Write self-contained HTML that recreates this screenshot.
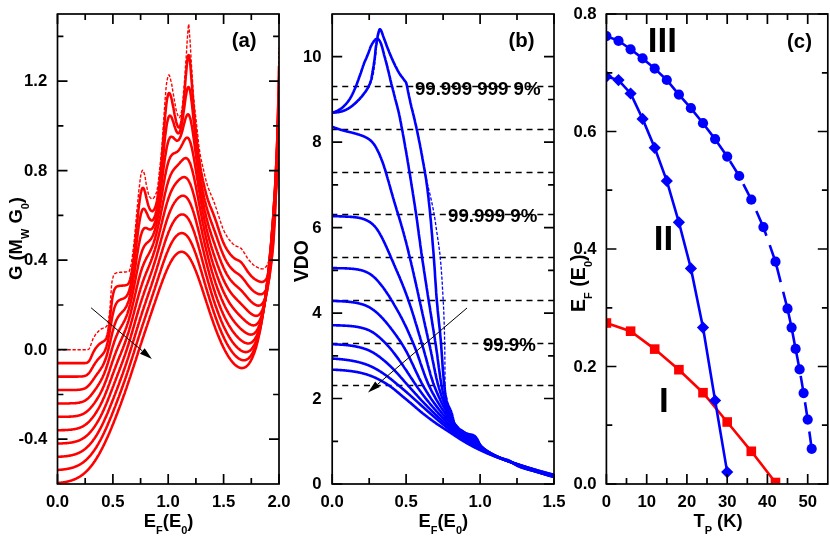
<!DOCTYPE html>
<html><head><meta charset="utf-8"><title>figure</title>
<style>html,body{margin:0;padding:0;background:#fff;}svg{display:block;will-change:transform;}text{font-family:"Liberation Sans", sans-serif;font-weight:bold;fill:#000;}.tk{font-size:16.7px;}.ax{font-size:18.4px;}.lb{font-size:18.7px;}.pl{font-size:20.4px;}.rn{font-size:35px;}</style></head><body>
<svg width="830" height="539" viewBox="0 0 830 539">
<rect width="830" height="539" fill="#fff"/>
<!-- panel a -->
<clipPath id="ca"><rect x="57.5" y="14.0" width="221.5" height="470.0"/></clipPath>
<g clip-path="url(#ca)" fill="none" stroke="#ff0000" stroke-linejoin="round">
<path d="M57.5,349.7 L57.8,349.7 L58.1,349.7 L58.5,349.7 L58.8,349.7 L59.1,349.7 L59.4,349.7 L59.7,349.7 L60.0,349.7 L60.4,349.7 L60.7,349.7 L61.0,349.7 L61.3,349.7 L61.6,349.7 L61.9,349.7 L62.3,349.7 L62.6,349.7 L62.9,349.7 L63.2,349.7 L63.5,349.7 L63.8,349.7 L64.2,349.7 L64.5,349.7 L64.8,349.7 L65.1,349.7 L65.4,349.7 L65.7,349.7 L66.1,349.7 L66.4,349.7 L66.7,349.7 L67.0,349.7 L67.3,349.7 L67.6,349.7 L68.0,349.7 L68.3,349.7 L68.6,349.7 L68.9,349.7 L69.2,349.7 L69.5,349.7 L69.9,349.7 L70.2,349.7 L70.5,349.7 L70.8,349.7 L71.1,349.7 L71.4,349.7 L71.8,349.7 L72.1,349.7 L72.4,349.7 L72.7,349.7 L73.0,349.7 L73.3,349.7 L73.7,349.7 L74.0,349.7 L74.3,349.7 L74.6,349.7 L74.9,349.7 L75.2,349.7 L75.6,349.7 L75.9,349.7 L76.2,349.7 L76.5,349.7 L76.8,349.7 L77.1,349.7 L77.5,349.7 L77.8,349.7 L78.1,349.7 L78.4,349.7 L78.7,349.7 L79.0,349.7 L79.4,349.7 L79.7,349.7 L80.0,349.7 L80.3,349.7 L80.6,349.7 L80.9,349.7 L81.3,349.7 L81.6,349.7 L81.9,349.7 L82.2,349.7 L82.5,349.7 L82.9,349.7 L83.2,349.7 L83.5,349.7 L83.8,349.7 L84.1,349.7 L84.4,349.7 L84.8,349.7 L85.1,349.7 L85.4,349.7 L85.7,349.7 L86.0,349.7 L86.3,349.7 L86.7,349.7 L87.0,349.7 L87.3,349.6 L87.6,349.6 L87.9,349.5 L88.2,349.4 L88.6,349.3 L88.9,349.2 L89.2,348.8 L89.5,348.2 L89.8,347.5 L90.1,346.6 L90.5,345.7 L90.8,344.9 L91.1,344.0 L91.4,343.2 L91.7,342.3 L92.0,341.4 L92.4,340.5 L92.7,339.6 L93.0,338.9 L93.3,338.2 L93.6,337.7 L93.9,337.1 L94.3,336.6 L94.6,336.1 L94.9,335.6 L95.2,335.2 L95.5,334.7 L95.8,334.3 L96.2,333.9 L96.5,333.5 L96.8,333.1 L97.1,332.8 L97.4,332.4 L97.7,332.1 L98.1,331.8 L98.4,331.4 L98.7,331.1 L99.0,330.8 L99.3,330.5 L99.6,330.2 L100.0,329.9 L100.3,329.7 L100.6,329.4 L100.9,329.2 L101.2,329.0 L101.5,328.8 L101.9,328.6 L102.2,328.5 L102.5,328.4 L102.8,328.3 L103.1,328.2 L103.4,328.1 L103.8,328.0 L104.1,327.9 L104.4,327.8 L104.7,327.6 L105.0,327.5 L105.3,327.3 L105.7,327.1 L106.0,326.8 L106.3,326.5 L106.6,326.1 L106.9,325.7 L107.3,325.2 L107.6,324.6 L107.9,323.7 L108.2,322.2 L108.5,320.3 L108.8,318.0 L109.2,315.4 L109.5,312.8 L109.8,310.0 L110.1,306.6 L110.4,302.1 L110.7,297.2 L111.1,292.2 L111.4,287.6 L111.7,283.9 L112.0,281.6 L112.3,280.1 L112.6,278.7 L113.0,277.4 L113.3,276.3 L113.6,275.4 L113.9,274.7 L114.2,274.2 L114.5,273.8 L114.9,273.6 L115.2,273.5 L115.5,273.3 L115.8,273.2 L116.1,273.0 L116.4,272.9 L116.8,272.8 L117.1,272.7 L117.4,272.7 L117.7,272.6 L118.0,272.6 L118.3,272.5 L118.7,272.5 L119.0,272.4 L119.3,272.4 L119.6,272.4 L119.9,272.3 L120.2,272.3 L120.6,272.3 L120.9,272.3 L121.2,272.2 L121.5,272.2 L121.8,272.2 L122.1,272.2 L122.5,272.2 L122.8,272.1 L123.1,272.1 L123.4,272.1 L123.7,272.1 L124.0,272.0 L124.4,272.0 L124.7,272.0 L125.0,272.0 L125.3,272.0 L125.6,272.0 L125.9,272.0 L126.3,271.9 L126.6,271.9 L126.9,271.9 L127.2,271.9 L127.5,271.9 L127.8,271.8 L128.2,271.8 L128.5,271.8 L128.8,271.7 L129.1,271.4 L129.4,270.7 L129.7,269.8 L130.1,268.7 L130.4,267.5 L130.7,266.2 L131.0,264.9 L131.3,263.3 L131.7,261.4 L132.0,259.2 L132.3,256.9 L132.6,254.4 L132.9,251.8 L133.2,249.2 L133.6,246.6 L133.9,243.7 L134.2,240.7 L134.5,237.5 L134.8,234.2 L135.1,230.7 L135.5,227.2 L135.8,223.6 L136.1,220.0 L136.4,216.4 L136.7,212.9 L137.0,209.4 L137.4,206.1 L137.7,202.9 L138.0,199.6 L138.3,196.3 L138.6,193.2 L138.9,190.2 L139.3,187.4 L139.6,184.7 L139.9,182.0 L140.2,179.5 L140.5,177.2 L140.8,175.3 L141.2,173.9 L141.5,172.7 L141.8,171.6 L142.1,170.8 L142.4,170.3 L142.7,170.2 L143.1,170.5 L143.4,171.1 L143.7,171.9 L144.0,172.7 L144.3,173.7 L144.6,174.7 L145.0,176.2 L145.3,178.0 L145.6,180.1 L145.9,182.1 L146.2,184.1 L146.5,185.9 L146.9,187.4 L147.2,188.8 L147.5,190.2 L147.8,191.5 L148.1,192.8 L148.4,193.9 L148.8,194.9 L149.1,195.8 L149.4,196.4 L149.7,196.8 L150.0,197.3 L150.3,197.7 L150.7,198.1 L151.0,198.4 L151.3,198.7 L151.6,198.9 L151.9,199.0 L152.2,199.1 L152.6,199.0 L152.9,198.9 L153.2,198.6 L153.5,198.2 L153.8,197.8 L154.1,197.3 L154.5,196.8 L154.8,196.3 L155.1,195.8 L155.4,195.2 L155.7,194.4 L156.1,193.6 L156.4,192.6 L156.7,191.6 L157.0,190.4 L157.3,188.8 L157.6,186.8 L158.0,184.5 L158.3,181.9 L158.6,179.0 L158.9,176.1 L159.2,173.1 L159.5,170.1 L159.9,167.3 L160.2,164.4 L160.5,161.5 L160.8,158.4 L161.1,155.2 L161.4,151.8 L161.8,148.1 L162.1,144.0 L162.4,139.6 L162.7,134.9 L163.0,130.1 L163.3,125.2 L163.7,120.4 L164.0,115.8 L164.3,111.4 L164.6,107.1 L164.9,102.6 L165.2,98.1 L165.6,93.8 L165.9,89.8 L166.2,86.5 L166.5,83.9 L166.8,82.0 L167.1,80.2 L167.5,78.6 L167.8,77.2 L168.1,76.0 L168.4,75.3 L168.7,74.9 L169.0,75.0 L169.4,75.5 L169.7,76.3 L170.0,77.3 L170.3,78.4 L170.6,79.6 L170.9,80.9 L171.3,82.1 L171.6,83.6 L171.9,85.3 L172.2,87.2 L172.5,89.2 L172.8,91.2 L173.2,93.1 L173.5,95.1 L173.8,96.9 L174.1,98.6 L174.4,100.5 L174.7,102.4 L175.1,104.2 L175.4,106.0 L175.7,107.7 L176.0,109.3 L176.3,110.6 L176.6,111.6 L177.0,112.7 L177.3,113.7 L177.6,114.6 L177.9,115.5 L178.2,116.3 L178.5,116.9 L178.9,117.4 L179.2,117.6 L179.5,117.6 L179.8,117.2 L180.1,116.5 L180.4,115.6 L180.8,114.5 L181.1,113.3 L181.4,112.0 L181.7,110.5 L182.0,108.3 L182.4,105.6 L182.7,102.4 L183.0,98.9 L183.3,95.3 L183.6,91.6 L183.9,88.0 L184.3,84.1 L184.6,79.9 L184.9,75.5 L185.2,70.9 L185.5,66.4 L185.8,61.8 L186.2,57.2 L186.5,52.4 L186.8,47.4 L187.1,42.6 L187.4,38.0 L187.7,33.8 L188.1,29.1 L188.4,25.3 L188.7,24.1 L189.0,26.5 L189.3,30.9 L189.6,35.5 L190.0,39.9 L190.3,44.9 L190.6,50.2 L190.9,55.6 L191.2,61.0 L191.5,66.0 L191.9,70.9 L192.2,75.9 L192.5,80.9 L192.8,85.7 L193.1,90.3 L193.4,94.5 L193.8,98.3 L194.1,101.8 L194.4,105.1 L194.7,108.2 L195.0,111.1 L195.3,113.9 L195.7,116.6 L196.0,119.3 L196.3,122.1 L196.6,124.9 L196.9,127.7 L197.2,130.7 L197.6,133.7 L197.9,136.6 L198.2,139.6 L198.5,142.4 L198.8,145.1 L199.1,147.6 L199.5,150.0 L199.8,152.1 L200.1,154.0 L200.4,155.8 L200.7,157.5 L201.0,159.1 L201.4,160.6 L201.7,162.0 L202.0,163.5 L202.3,164.8 L202.6,166.2 L202.9,167.5 L203.3,168.8 L203.6,170.2 L203.9,171.6 L204.2,173.0 L204.5,174.3 L204.8,175.7 L205.2,177.1 L205.5,178.4 L205.8,179.7 L206.1,180.9 L206.4,182.1 L206.8,183.2 L207.1,184.3 L207.4,185.3 L207.7,186.2 L208.0,187.2 L208.3,188.1 L208.7,188.9 L209.0,189.8 L209.3,190.6 L209.6,191.4 L209.9,192.2 L210.2,192.9 L210.6,193.7 L210.9,194.4 L211.2,195.2 L211.5,195.9 L211.8,196.7 L212.1,197.4 L212.5,198.2 L212.8,198.9 L213.1,199.7 L213.4,200.5 L213.7,201.3 L214.0,202.1 L214.4,202.9 L214.7,203.8 L215.0,204.7 L215.3,205.6 L215.6,206.5 L215.9,207.4 L216.3,208.4 L216.6,209.4 L216.9,210.4 L217.2,211.4 L217.5,212.4 L217.8,213.4 L218.2,214.4 L218.5,215.4 L218.8,216.4 L219.1,217.4 L219.4,218.4 L219.7,219.4 L220.1,220.4 L220.4,221.4 L220.7,222.3 L221.0,223.3 L221.3,224.2 L221.6,225.1 L222.0,226.0 L222.3,226.8 L222.6,227.7 L222.9,228.5 L223.2,229.2 L223.5,230.0 L223.9,230.7 L224.2,231.3 L224.5,232.0 L224.8,232.6 L225.1,233.2 L225.4,233.7 L225.8,234.3 L226.1,234.9 L226.4,235.4 L226.7,235.9 L227.0,236.5 L227.3,237.0 L227.7,237.5 L228.0,237.9 L228.3,238.4 L228.6,238.9 L228.9,239.3 L229.2,239.7 L229.6,240.1 L229.9,240.6 L230.2,240.9 L230.5,241.3 L230.8,241.7 L231.2,242.0 L231.5,242.4 L231.8,242.7 L232.1,243.0 L232.4,243.4 L232.7,243.7 L233.1,244.0 L233.4,244.3 L233.7,244.5 L234.0,244.8 L234.3,245.1 L234.6,245.3 L235.0,245.5 L235.3,245.7 L235.6,245.9 L235.9,246.0 L236.2,246.2 L236.5,246.3 L236.9,246.4 L237.2,246.5 L237.5,246.6 L237.8,246.7 L238.1,246.8 L238.4,246.9 L238.8,247.0 L239.1,247.2 L239.4,247.3 L239.7,247.5 L240.0,247.7 L240.3,247.9 L240.7,248.1 L241.0,248.3 L241.3,248.6 L241.6,248.9 L241.9,249.3 L242.2,249.7 L242.6,250.2 L242.9,250.6 L243.2,251.1 L243.5,251.6 L243.8,252.2 L244.1,252.7 L244.5,253.2 L244.8,253.6 L245.1,254.1 L245.4,254.6 L245.7,255.2 L246.0,255.7 L246.4,256.3 L246.7,256.8 L247.0,257.3 L247.3,257.8 L247.6,258.3 L247.9,258.8 L248.3,259.2 L248.6,259.6 L248.9,260.0 L249.2,260.4 L249.5,260.8 L249.8,261.1 L250.2,261.5 L250.5,261.9 L250.8,262.2 L251.1,262.6 L251.4,262.9 L251.7,263.2 L252.1,263.6 L252.4,263.9 L252.7,264.2 L253.0,264.5 L253.3,264.8 L253.6,265.0 L254.0,265.3 L254.3,265.5 L254.6,265.7 L254.9,266.0 L255.2,266.2 L255.6,266.4 L255.9,266.5 L256.2,266.7 L256.5,266.9 L256.8,267.0 L257.1,267.2 L257.5,267.4 L257.8,267.5 L258.1,267.7 L258.4,267.8 L258.7,268.0 L259.0,268.1 L259.4,268.2 L259.7,268.4 L260.0,268.5 L260.3,268.6 L260.6,268.7 L260.9,268.7 L261.3,268.8 L261.6,268.9 L261.9,268.9 L262.2,268.9 L262.5,268.9 L262.8,268.9 L263.2,268.8 L263.5,268.7 L263.8,268.5 L264.1,268.3 L264.4,268.1 L264.7,267.9 L265.1,267.6 L265.4,267.3 L265.7,267.0 L266.0,266.7 L266.3,266.4 L266.6,266.0 L267.0,265.5 L267.3,264.9 L267.6,264.1 L267.9,263.4 L268.2,262.5 L268.5,261.6 L268.9,260.7 L269.2,259.7 L269.5,258.7 L269.8,257.6 L270.1,256.4 L270.4,255.1 L270.8,253.6 L271.1,252.1 L271.4,250.4 L271.7,248.6 L272.0,246.7 L272.3,244.6 L272.7,242.2 L273.0,239.4 L273.3,236.2 L273.6,232.6 L273.9,228.6 L274.2,224.4 L274.6,219.8 L274.9,214.9 L275.2,209.7 L275.5,204.1 L275.8,197.9 L276.1,190.9 L276.5,183.0 L276.8,174.1 L277.1,164.0 L277.4,151.6 L277.7,134.0 L278.0,112.7 L278.4,89.8 L278.7,67.4 L279.0,47.6" stroke-width="1.4" stroke-dasharray="3.3 1.7"/>
<path d="M57.5,363.1 L57.8,363.1 L58.1,363.1 L58.5,363.1 L58.8,363.1 L59.1,363.1 L59.4,363.1 L59.7,363.1 L60.0,363.1 L60.4,363.1 L60.7,363.1 L61.0,363.1 L61.3,363.1 L61.6,363.1 L61.9,363.1 L62.3,363.1 L62.6,363.1 L62.9,363.1 L63.2,363.1 L63.5,363.1 L63.8,363.1 L64.2,363.1 L64.5,363.1 L64.8,363.1 L65.1,363.1 L65.4,363.1 L65.7,363.1 L66.1,363.1 L66.4,363.1 L66.7,363.1 L67.0,363.1 L67.3,363.1 L67.6,363.1 L68.0,363.1 L68.3,363.1 L68.6,363.1 L68.9,363.1 L69.2,363.1 L69.5,363.1 L69.9,363.1 L70.2,363.1 L70.5,363.1 L70.8,363.1 L71.1,363.1 L71.4,363.1 L71.8,363.1 L72.1,363.1 L72.4,363.1 L72.7,363.1 L73.0,363.1 L73.3,363.1 L73.7,363.1 L74.0,363.1 L74.3,363.1 L74.6,363.1 L74.9,363.1 L75.2,363.1 L75.6,363.1 L75.9,363.1 L76.2,363.1 L76.5,363.1 L76.8,363.1 L77.1,363.1 L77.5,363.1 L77.8,363.1 L78.1,363.1 L78.4,363.1 L78.7,363.1 L79.0,363.1 L79.4,363.1 L79.7,363.1 L80.0,363.1 L80.3,363.1 L80.6,363.1 L80.9,363.1 L81.3,363.1 L81.6,363.1 L81.9,363.1 L82.2,363.1 L82.5,363.1 L82.9,363.1 L83.2,363.1 L83.5,363.1 L83.8,363.1 L84.1,363.1 L84.4,363.1 L84.8,363.1 L85.1,363.1 L85.4,363.0 L85.7,363.0 L86.0,363.0 L86.3,362.9 L86.7,362.8 L87.0,362.7 L87.3,362.6 L87.6,362.4 L87.9,362.2 L88.2,361.9 L88.6,361.6 L88.9,361.3 L89.2,360.8 L89.5,360.4 L89.8,359.8 L90.1,359.2 L90.5,358.6 L90.8,357.9 L91.1,357.2 L91.4,356.5 L91.7,355.8 L92.0,355.0 L92.4,354.3 L92.7,353.6 L93.0,352.9 L93.3,352.3 L93.6,351.7 L93.9,351.1 L94.3,350.5 L94.6,350.0 L94.9,349.4 L95.2,348.9 L95.5,348.5 L95.8,348.0 L96.2,347.6 L96.5,347.2 L96.8,346.8 L97.1,346.4 L97.4,346.1 L97.7,345.7 L98.1,345.4 L98.4,345.0 L98.7,344.7 L99.0,344.4 L99.3,344.1 L99.6,343.9 L100.0,343.6 L100.3,343.3 L100.6,343.1 L100.9,342.9 L101.2,342.7 L101.5,342.5 L101.9,342.3 L102.2,342.1 L102.5,341.9 L102.8,341.7 L103.1,341.6 L103.4,341.4 L103.8,341.2 L104.1,341.0 L104.4,340.7 L104.7,340.5 L105.0,340.1 L105.3,339.8 L105.7,339.3 L106.0,338.8 L106.3,338.2 L106.6,337.4 L106.9,336.5 L107.3,335.5 L107.6,334.3 L107.9,332.8 L108.2,331.2 L108.5,329.3 L108.8,327.2 L109.2,324.9 L109.5,322.4 L109.8,319.8 L110.1,317.0 L110.4,314.1 L110.7,311.2 L111.1,308.4 L111.4,305.6 L111.7,303.0 L112.0,300.6 L112.3,298.4 L112.6,296.5 L113.0,294.8 L113.3,293.3 L113.6,292.1 L113.9,291.0 L114.2,290.1 L114.5,289.3 L114.9,288.7 L115.2,288.2 L115.5,287.8 L115.8,287.4 L116.1,287.1 L116.4,286.9 L116.8,286.7 L117.1,286.5 L117.4,286.4 L117.7,286.3 L118.0,286.2 L118.3,286.1 L118.7,286.0 L119.0,286.0 L119.3,285.9 L119.6,285.9 L119.9,285.8 L120.2,285.8 L120.6,285.7 L120.9,285.7 L121.2,285.7 L121.5,285.7 L121.8,285.6 L122.1,285.6 L122.5,285.6 L122.8,285.6 L123.1,285.5 L123.4,285.5 L123.7,285.5 L124.0,285.5 L124.4,285.4 L124.7,285.4 L125.0,285.4 L125.3,285.3 L125.6,285.3 L125.9,285.2 L126.3,285.1 L126.6,285.0 L126.9,284.9 L127.2,284.7 L127.5,284.5 L127.8,284.2 L128.2,283.9 L128.5,283.5 L128.8,282.9 L129.1,282.3 L129.4,281.5 L129.7,280.6 L130.1,279.6 L130.4,278.4 L130.7,277.0 L131.0,275.5 L131.3,273.8 L131.7,272.0 L132.0,270.0 L132.3,267.9 L132.6,265.6 L132.9,263.2 L133.2,260.6 L133.6,258.0 L133.9,255.2 L134.2,252.3 L134.5,249.3 L134.8,246.2 L135.1,243.1 L135.5,239.9 L135.8,236.7 L136.1,233.4 L136.4,230.2 L136.7,226.9 L137.0,223.7 L137.4,220.5 L137.7,217.4 L138.0,214.4 L138.3,211.4 L138.6,208.6 L138.9,205.9 L139.3,203.3 L139.6,200.8 L139.9,198.6 L140.2,196.5 L140.5,194.6 L140.8,192.9 L141.2,191.5 L141.5,190.3 L141.8,189.3 L142.1,188.6 L142.4,188.1 L142.7,187.9 L143.1,187.9 L143.4,188.1 L143.7,188.5 L144.0,189.1 L144.3,189.9 L144.6,190.9 L145.0,191.9 L145.3,193.1 L145.6,194.4 L145.9,195.7 L146.2,197.1 L146.5,198.5 L146.9,199.8 L147.2,201.1 L147.5,202.4 L147.8,203.5 L148.1,204.6 L148.4,205.7 L148.8,206.6 L149.1,207.4 L149.4,208.2 L149.7,208.8 L150.0,209.4 L150.3,209.9 L150.7,210.3 L151.0,210.6 L151.3,210.9 L151.6,211.0 L151.9,211.1 L152.2,211.1 L152.6,211.1 L152.9,210.9 L153.2,210.7 L153.5,210.4 L153.8,210.0 L154.1,209.5 L154.5,209.0 L154.8,208.3 L155.1,207.6 L155.4,206.7 L155.7,205.8 L156.1,204.7 L156.4,203.4 L156.7,202.0 L157.0,200.5 L157.3,198.7 L157.6,196.8 L158.0,194.7 L158.3,192.5 L158.6,190.1 L158.9,187.5 L159.2,184.8 L159.5,182.0 L159.9,179.1 L160.2,176.0 L160.5,172.8 L160.8,169.5 L161.1,166.0 L161.4,162.4 L161.8,158.7 L162.1,154.9 L162.4,150.9 L162.7,146.9 L163.0,142.8 L163.3,138.7 L163.7,134.6 L164.0,130.5 L164.3,126.4 L164.6,122.5 L164.9,118.8 L165.2,115.1 L165.6,111.8 L165.9,108.6 L166.2,105.7 L166.5,103.1 L166.8,100.8 L167.1,98.8 L167.5,97.1 L167.8,95.7 L168.1,94.6 L168.4,93.8 L168.7,93.3 L169.0,93.1 L169.4,93.1 L169.7,93.4 L170.0,93.9 L170.3,94.6 L170.6,95.5 L170.9,96.5 L171.3,97.7 L171.6,99.0 L171.9,100.4 L172.2,101.9 L172.5,103.4 L172.8,105.1 L173.2,106.7 L173.5,108.4 L173.8,110.1 L174.1,111.8 L174.4,113.4 L174.7,115.0 L175.1,116.6 L175.4,118.1 L175.7,119.5 L176.0,120.8 L176.3,122.1 L176.6,123.2 L177.0,124.3 L177.3,125.2 L177.6,125.9 L177.9,126.6 L178.2,127.1 L178.5,127.4 L178.9,127.5 L179.2,127.5 L179.5,127.2 L179.8,126.7 L180.1,126.0 L180.4,125.1 L180.8,124.0 L181.1,122.5 L181.4,120.9 L181.7,119.0 L182.0,116.8 L182.4,114.3 L182.7,111.7 L183.0,108.7 L183.3,105.6 L183.6,102.3 L183.9,98.8 L184.3,95.2 L184.6,91.4 L184.9,87.6 L185.2,83.7 L185.5,79.8 L185.8,76.0 L186.2,72.2 L186.5,68.6 L186.8,65.3 L187.1,62.3 L187.4,59.6 L187.7,57.5 L188.1,56.0 L188.4,55.2 L188.7,55.1 L189.0,55.7 L189.3,57.0 L189.6,59.0 L190.0,61.5 L190.3,64.6 L190.6,68.0 L190.9,71.8 L191.2,75.8 L191.5,79.9 L191.9,84.2 L192.2,88.4 L192.5,92.7 L192.8,96.8 L193.1,100.9 L193.4,104.9 L193.8,108.7 L194.1,112.4 L194.4,116.0 L194.7,119.4 L195.0,122.7 L195.3,125.9 L195.7,129.0 L196.0,132.0 L196.3,135.0 L196.6,137.9 L196.9,140.8 L197.2,143.6 L197.6,146.3 L197.9,149.0 L198.2,151.7 L198.5,154.2 L198.8,156.7 L199.1,159.1 L199.5,161.3 L199.8,163.5 L200.1,165.6 L200.4,167.5 L200.7,169.4 L201.0,171.2 L201.4,172.9 L201.7,174.5 L202.0,176.1 L202.3,177.6 L202.6,179.1 L202.9,180.6 L203.3,182.0 L203.6,183.4 L203.9,184.8 L204.2,186.1 L204.5,187.4 L204.8,188.8 L205.2,190.0 L205.5,191.3 L205.8,192.5 L206.1,193.7 L206.4,194.8 L206.8,196.0 L207.1,197.0 L207.4,198.1 L207.7,199.1 L208.0,200.1 L208.3,201.0 L208.7,201.9 L209.0,202.8 L209.3,203.7 L209.6,204.5 L209.9,205.4 L210.2,206.2 L210.6,207.0 L210.9,207.8 L211.2,208.6 L211.5,209.3 L211.8,210.1 L212.1,210.9 L212.5,211.7 L212.8,212.5 L213.1,213.3 L213.4,214.1 L213.7,214.9 L214.0,215.8 L214.4,216.6 L214.7,217.5 L215.0,218.4 L215.3,219.3 L215.6,220.2 L215.9,221.1 L216.3,222.0 L216.6,223.0 L216.9,223.9 L217.2,224.9 L217.5,225.9 L217.8,226.9 L218.2,227.8 L218.5,228.8 L218.8,229.8 L219.1,230.8 L219.4,231.7 L219.7,232.7 L220.1,233.6 L220.4,234.6 L220.7,235.5 L221.0,236.4 L221.3,237.3 L221.6,238.2 L222.0,239.0 L222.3,239.9 L222.6,240.7 L222.9,241.5 L223.2,242.2 L223.5,242.9 L223.9,243.7 L224.2,244.3 L224.5,245.0 L224.8,245.7 L225.1,246.3 L225.4,246.9 L225.8,247.5 L226.1,248.0 L226.4,248.6 L226.7,249.1 L227.0,249.7 L227.3,250.2 L227.7,250.7 L228.0,251.1 L228.3,251.6 L228.6,252.1 L228.9,252.5 L229.2,252.9 L229.6,253.4 L229.9,253.8 L230.2,254.2 L230.5,254.6 L230.8,254.9 L231.2,255.3 L231.5,255.6 L231.8,256.0 L232.1,256.3 L232.4,256.6 L232.7,256.9 L233.1,257.2 L233.4,257.5 L233.7,257.7 L234.0,258.0 L234.3,258.2 L234.6,258.5 L235.0,258.7 L235.3,258.9 L235.6,259.1 L235.9,259.3 L236.2,259.4 L236.5,259.6 L236.9,259.7 L237.2,259.9 L237.5,260.0 L237.8,260.2 L238.1,260.3 L238.4,260.5 L238.8,260.6 L239.1,260.8 L239.4,261.0 L239.7,261.2 L240.0,261.4 L240.3,261.7 L240.7,261.9 L241.0,262.2 L241.3,262.5 L241.6,262.8 L241.9,263.2 L242.2,263.6 L242.6,263.9 L242.9,264.4 L243.2,264.8 L243.5,265.2 L243.8,265.7 L244.1,266.2 L244.5,266.7 L244.8,267.1 L245.1,267.6 L245.4,268.1 L245.7,268.6 L246.0,269.1 L246.4,269.6 L246.7,270.1 L247.0,270.6 L247.3,271.0 L247.6,271.5 L247.9,272.0 L248.3,272.4 L248.6,272.8 L248.9,273.2 L249.2,273.6 L249.5,274.0 L249.8,274.4 L250.2,274.8 L250.5,275.2 L250.8,275.5 L251.1,275.9 L251.4,276.2 L251.7,276.5 L252.1,276.8 L252.4,277.1 L252.7,277.4 L253.0,277.7 L253.3,278.0 L253.6,278.3 L254.0,278.5 L254.3,278.8 L254.6,279.0 L254.9,279.2 L255.2,279.4 L255.6,279.6 L255.9,279.8 L256.2,280.0 L256.5,280.2 L256.8,280.4 L257.1,280.5 L257.5,280.7 L257.8,280.9 L258.1,281.0 L258.4,281.1 L258.7,281.3 L259.0,281.4 L259.4,281.5 L259.7,281.6 L260.0,281.7 L260.3,281.8 L260.6,281.9 L260.9,281.9 L261.3,282.0 L261.6,282.0 L261.9,282.0 L262.2,281.9 L262.5,281.9 L262.8,281.8 L263.2,281.7 L263.5,281.6 L263.8,281.4 L264.1,281.2 L264.4,281.0 L264.7,280.8 L265.1,280.5 L265.4,280.1 L265.7,279.8 L266.0,279.3 L266.3,278.9 L266.6,278.4 L267.0,277.8 L267.3,277.1 L267.6,276.4 L267.9,275.6 L268.2,274.8 L268.5,273.9 L268.9,272.8 L269.2,271.7 L269.5,270.6 L269.8,269.3 L270.1,267.8 L270.4,266.3 L270.8,264.6 L271.1,262.8 L271.4,260.8 L271.7,258.5 L272.0,256.1 L272.3,253.4 L272.7,250.4 L273.0,247.1 L273.3,243.5 L273.6,239.5 L273.9,235.0 L274.2,230.1 L274.6,224.7 L274.9,218.7 L275.2,212.0 L275.5,204.7 L275.8,196.5 L276.1,187.4 L276.5,177.4 L276.8,166.4 L277.1,154.3 L277.4,141.3 L277.7,127.3 L278.0,112.6 L278.4,97.3 L278.7,81.6 L279.0,65.8" stroke-width="2.55"/>
<path d="M57.5,376.6 L57.8,376.6 L58.1,376.6 L58.5,376.6 L58.8,376.6 L59.1,376.6 L59.4,376.6 L59.7,376.6 L60.0,376.6 L60.4,376.6 L60.7,376.6 L61.0,376.6 L61.3,376.6 L61.6,376.6 L61.9,376.6 L62.3,376.6 L62.6,376.6 L62.9,376.6 L63.2,376.6 L63.5,376.6 L63.8,376.6 L64.2,376.6 L64.5,376.6 L64.8,376.6 L65.1,376.6 L65.4,376.6 L65.7,376.6 L66.1,376.6 L66.4,376.6 L66.7,376.6 L67.0,376.6 L67.3,376.6 L67.6,376.6 L68.0,376.6 L68.3,376.6 L68.6,376.6 L68.9,376.6 L69.2,376.6 L69.5,376.6 L69.9,376.6 L70.2,376.6 L70.5,376.6 L70.8,376.6 L71.1,376.6 L71.4,376.6 L71.8,376.6 L72.1,376.6 L72.4,376.6 L72.7,376.6 L73.0,376.6 L73.3,376.6 L73.7,376.6 L74.0,376.6 L74.3,376.6 L74.6,376.6 L74.9,376.6 L75.2,376.6 L75.6,376.6 L75.9,376.6 L76.2,376.6 L76.5,376.6 L76.8,376.6 L77.1,376.6 L77.5,376.6 L77.8,376.6 L78.1,376.5 L78.4,376.5 L78.7,376.5 L79.0,376.5 L79.4,376.5 L79.7,376.5 L80.0,376.5 L80.3,376.5 L80.6,376.5 L80.9,376.5 L81.3,376.5 L81.6,376.4 L81.9,376.4 L82.2,376.4 L82.5,376.4 L82.9,376.3 L83.2,376.3 L83.5,376.2 L83.8,376.2 L84.1,376.1 L84.4,376.0 L84.8,375.9 L85.1,375.8 L85.4,375.7 L85.7,375.6 L86.0,375.5 L86.3,375.3 L86.7,375.1 L87.0,374.9 L87.3,374.7 L87.6,374.4 L87.9,374.1 L88.2,373.8 L88.6,373.5 L88.9,373.1 L89.2,372.8 L89.5,372.4 L89.8,371.9 L90.1,371.5 L90.5,371.0 L90.8,370.5 L91.1,370.0 L91.4,369.4 L91.7,368.9 L92.0,368.4 L92.4,367.8 L92.7,367.3 L93.0,366.7 L93.3,366.2 L93.6,365.6 L93.9,365.1 L94.3,364.6 L94.6,364.1 L94.9,363.6 L95.2,363.1 L95.5,362.6 L95.8,362.2 L96.2,361.7 L96.5,361.3 L96.8,360.9 L97.1,360.5 L97.4,360.1 L97.7,359.7 L98.1,359.3 L98.4,359.0 L98.7,358.6 L99.0,358.3 L99.3,357.9 L99.6,357.6 L100.0,357.3 L100.3,356.9 L100.6,356.6 L100.9,356.3 L101.2,355.9 L101.5,355.6 L101.9,355.3 L102.2,354.9 L102.5,354.5 L102.8,354.1 L103.1,353.7 L103.4,353.3 L103.8,352.8 L104.1,352.3 L104.4,351.7 L104.7,351.1 L105.0,350.4 L105.3,349.7 L105.7,348.9 L106.0,348.0 L106.3,347.1 L106.6,346.0 L106.9,344.9 L107.3,343.7 L107.6,342.4 L107.9,341.0 L108.2,339.5 L108.5,338.0 L108.8,336.3 L109.2,334.6 L109.5,332.9 L109.8,331.1 L110.1,329.2 L110.4,327.4 L110.7,325.5 L111.1,323.7 L111.4,321.9 L111.7,320.1 L112.0,318.4 L112.3,316.7 L112.6,315.2 L113.0,313.7 L113.3,312.3 L113.6,311.0 L113.9,309.7 L114.2,308.6 L114.5,307.6 L114.9,306.7 L115.2,305.8 L115.5,305.1 L115.8,304.4 L116.1,303.7 L116.4,303.2 L116.8,302.7 L117.1,302.2 L117.4,301.8 L117.7,301.5 L118.0,301.2 L118.3,300.9 L118.7,300.6 L119.0,300.4 L119.3,300.2 L119.6,300.0 L119.9,299.9 L120.2,299.7 L120.6,299.6 L120.9,299.5 L121.2,299.3 L121.5,299.2 L121.8,299.1 L122.1,299.0 L122.5,298.9 L122.8,298.8 L123.1,298.6 L123.4,298.5 L123.7,298.4 L124.0,298.2 L124.4,298.1 L124.7,297.9 L125.0,297.7 L125.3,297.4 L125.6,297.2 L125.9,296.9 L126.3,296.5 L126.6,296.1 L126.9,295.7 L127.2,295.2 L127.5,294.7 L127.8,294.1 L128.2,293.4 L128.5,292.6 L128.8,291.8 L129.1,290.9 L129.4,289.8 L129.7,288.7 L130.1,287.5 L130.4,286.2 L130.7,284.8 L131.0,283.2 L131.3,281.6 L131.7,279.9 L132.0,278.0 L132.3,276.1 L132.6,274.0 L132.9,271.9 L133.2,269.7 L133.6,267.4 L133.9,265.0 L134.2,262.6 L134.5,260.1 L134.8,257.5 L135.1,254.9 L135.5,252.3 L135.8,249.7 L136.1,247.0 L136.4,244.4 L136.7,241.8 L137.0,239.2 L137.4,236.6 L137.7,234.1 L138.0,231.7 L138.3,229.4 L138.6,227.1 L138.9,224.9 L139.3,222.9 L139.6,220.9 L139.9,219.1 L140.2,217.4 L140.5,215.9 L140.8,214.5 L141.2,213.2 L141.5,212.1 L141.8,211.2 L142.1,210.4 L142.4,209.8 L142.7,209.3 L143.1,209.0 L143.4,208.8 L143.7,208.8 L144.0,208.8 L144.3,209.0 L144.6,209.3 L145.0,209.7 L145.3,210.2 L145.6,210.8 L145.9,211.4 L146.2,212.0 L146.5,212.7 L146.9,213.4 L147.2,214.1 L147.5,214.8 L147.8,215.5 L148.1,216.2 L148.4,216.9 L148.8,217.5 L149.1,218.1 L149.4,218.6 L149.7,219.1 L150.0,219.5 L150.3,219.8 L150.7,220.1 L151.0,220.3 L151.3,220.5 L151.6,220.5 L151.9,220.5 L152.2,220.4 L152.6,220.3 L152.9,220.0 L153.2,219.6 L153.5,219.2 L153.8,218.7 L154.1,218.0 L154.5,217.3 L154.8,216.5 L155.1,215.5 L155.4,214.5 L155.7,213.3 L156.1,212.0 L156.4,210.6 L156.7,209.1 L157.0,207.5 L157.3,205.7 L157.6,203.8 L158.0,201.8 L158.3,199.7 L158.6,197.5 L158.9,195.1 L159.2,192.6 L159.5,190.1 L159.9,187.4 L160.2,184.6 L160.5,181.8 L160.8,178.8 L161.1,175.8 L161.4,172.7 L161.8,169.6 L162.1,166.4 L162.4,163.2 L162.7,160.0 L163.0,156.8 L163.3,153.6 L163.7,150.5 L164.0,147.4 L164.3,144.3 L164.6,141.4 L164.9,138.5 L165.2,135.8 L165.6,133.2 L165.9,130.8 L166.2,128.5 L166.5,126.4 L166.8,124.4 L167.1,122.7 L167.5,121.1 L167.8,119.8 L168.1,118.6 L168.4,117.6 L168.7,116.9 L169.0,116.3 L169.4,115.9 L169.7,115.6 L170.0,115.6 L170.3,115.7 L170.6,115.9 L170.9,116.3 L171.3,116.8 L171.6,117.4 L171.9,118.1 L172.2,118.9 L172.5,119.8 L172.8,120.7 L173.2,121.7 L173.5,122.7 L173.8,123.7 L174.1,124.7 L174.4,125.8 L174.7,126.8 L175.1,127.7 L175.4,128.7 L175.7,129.5 L176.0,130.3 L176.3,131.1 L176.6,131.7 L177.0,132.3 L177.3,132.7 L177.6,133.1 L177.9,133.3 L178.2,133.4 L178.5,133.3 L178.9,133.1 L179.2,132.8 L179.5,132.3 L179.8,131.6 L180.1,130.8 L180.4,129.9 L180.8,128.7 L181.1,127.4 L181.4,126.0 L181.7,124.4 L182.0,122.6 L182.4,120.8 L182.7,118.8 L183.0,116.7 L183.3,114.5 L183.6,112.2 L183.9,109.9 L184.3,107.6 L184.6,105.2 L184.9,102.9 L185.2,100.6 L185.5,98.4 L185.8,96.3 L186.2,94.4 L186.5,92.6 L186.8,91.0 L187.1,89.7 L187.4,88.6 L187.7,87.7 L188.1,87.2 L188.4,87.0 L188.7,87.1 L189.0,87.5 L189.3,88.2 L189.6,89.2 L190.0,90.5 L190.3,92.1 L190.6,94.0 L190.9,96.1 L191.2,98.4 L191.5,100.9 L191.9,103.6 L192.2,106.4 L192.5,109.3 L192.8,112.2 L193.1,115.3 L193.4,118.3 L193.8,121.4 L194.1,124.6 L194.4,127.7 L194.7,130.7 L195.0,133.8 L195.3,136.8 L195.7,139.8 L196.0,142.7 L196.3,145.6 L196.6,148.4 L196.9,151.2 L197.2,153.9 L197.6,156.6 L197.9,159.2 L198.2,161.7 L198.5,164.2 L198.8,166.6 L199.1,168.9 L199.5,171.1 L199.8,173.3 L200.1,175.5 L200.4,177.5 L200.7,179.5 L201.0,181.4 L201.4,183.3 L201.7,185.1 L202.0,186.9 L202.3,188.6 L202.6,190.2 L202.9,191.8 L203.3,193.4 L203.6,194.9 L203.9,196.3 L204.2,197.8 L204.5,199.1 L204.8,200.5 L205.2,201.8 L205.5,203.1 L205.8,204.3 L206.1,205.6 L206.4,206.7 L206.8,207.9 L207.1,209.0 L207.4,210.1 L207.7,211.2 L208.0,212.2 L208.3,213.3 L208.7,214.3 L209.0,215.2 L209.3,216.2 L209.6,217.2 L209.9,218.1 L210.2,219.0 L210.6,219.9 L210.9,220.8 L211.2,221.7 L211.5,222.5 L211.8,223.4 L212.1,224.3 L212.5,225.1 L212.8,226.0 L213.1,226.9 L213.4,227.7 L213.7,228.6 L214.0,229.5 L214.4,230.4 L214.7,231.2 L215.0,232.1 L215.3,233.0 L215.6,233.9 L215.9,234.8 L216.3,235.7 L216.6,236.6 L216.9,237.5 L217.2,238.4 L217.5,239.4 L217.8,240.3 L218.2,241.2 L218.5,242.1 L218.8,243.0 L219.1,243.9 L219.4,244.8 L219.7,245.7 L220.1,246.6 L220.4,247.5 L220.7,248.3 L221.0,249.2 L221.3,250.0 L221.6,250.8 L222.0,251.6 L222.3,252.4 L222.6,253.2 L222.9,254.0 L223.2,254.7 L223.5,255.5 L223.9,256.2 L224.2,256.9 L224.5,257.5 L224.8,258.2 L225.1,258.8 L225.4,259.5 L225.8,260.1 L226.1,260.7 L226.4,261.2 L226.7,261.8 L227.0,262.3 L227.3,262.9 L227.7,263.4 L228.0,263.9 L228.3,264.4 L228.6,264.8 L228.9,265.3 L229.2,265.7 L229.6,266.2 L229.9,266.6 L230.2,267.0 L230.5,267.4 L230.8,267.8 L231.2,268.1 L231.5,268.5 L231.8,268.8 L232.1,269.2 L232.4,269.5 L232.7,269.8 L233.1,270.1 L233.4,270.4 L233.7,270.7 L234.0,271.0 L234.3,271.2 L234.6,271.5 L235.0,271.7 L235.3,272.0 L235.6,272.2 L235.9,272.4 L236.2,272.7 L236.5,272.9 L236.9,273.1 L237.2,273.3 L237.5,273.5 L237.8,273.8 L238.1,274.0 L238.4,274.2 L238.8,274.4 L239.1,274.7 L239.4,274.9 L239.7,275.2 L240.0,275.4 L240.3,275.7 L240.7,276.0 L241.0,276.3 L241.3,276.6 L241.6,277.0 L241.9,277.3 L242.2,277.6 L242.6,278.0 L242.9,278.4 L243.2,278.8 L243.5,279.1 L243.8,279.6 L244.1,280.0 L244.5,280.4 L244.8,280.8 L245.1,281.2 L245.4,281.7 L245.7,282.1 L246.0,282.5 L246.4,282.9 L246.7,283.4 L247.0,283.8 L247.3,284.2 L247.6,284.6 L247.9,285.1 L248.3,285.5 L248.6,285.9 L248.9,286.3 L249.2,286.7 L249.5,287.0 L249.8,287.4 L250.2,287.8 L250.5,288.1 L250.8,288.5 L251.1,288.8 L251.4,289.2 L251.7,289.5 L252.1,289.8 L252.4,290.1 L252.7,290.4 L253.0,290.7 L253.3,290.9 L253.6,291.2 L254.0,291.5 L254.3,291.7 L254.6,291.9 L254.9,292.2 L255.2,292.4 L255.6,292.6 L255.9,292.8 L256.2,293.0 L256.5,293.1 L256.8,293.3 L257.1,293.5 L257.5,293.6 L257.8,293.7 L258.1,293.9 L258.4,294.0 L258.7,294.1 L259.0,294.1 L259.4,294.2 L259.7,294.3 L260.0,294.3 L260.3,294.3 L260.6,294.3 L260.9,294.3 L261.3,294.2 L261.6,294.2 L261.9,294.1 L262.2,294.0 L262.5,293.8 L262.8,293.6 L263.2,293.4 L263.5,293.2 L263.8,292.9 L264.1,292.6 L264.4,292.2 L264.7,291.8 L265.1,291.3 L265.4,290.8 L265.7,290.2 L266.0,289.5 L266.3,288.8 L266.6,288.0 L267.0,287.1 L267.3,286.2 L267.6,285.1 L267.9,284.0 L268.2,282.7 L268.5,281.3 L268.9,279.8 L269.2,278.2 L269.5,276.4 L269.8,274.4 L270.1,272.3 L270.4,269.9 L270.8,267.4 L271.1,264.7 L271.4,261.7 L271.7,258.4 L272.0,254.9 L272.3,251.1 L272.7,246.9 L273.0,242.4 L273.3,237.6 L273.6,232.4 L273.9,226.7 L274.2,220.7 L274.6,214.2 L274.9,207.2 L275.2,199.8 L275.5,191.9 L275.8,183.6 L276.1,174.8 L276.5,165.5 L276.8,155.8 L277.1,145.7 L277.4,135.3 L277.7,124.5 L278.0,113.5 L278.4,102.3 L278.7,90.9 L279.0,79.4" stroke-width="2.55"/>
<path d="M57.5,390.0 L57.8,390.0 L58.1,390.0 L58.5,390.0 L58.8,390.0 L59.1,390.0 L59.4,390.0 L59.7,390.0 L60.0,390.0 L60.4,390.0 L60.7,390.0 L61.0,390.0 L61.3,390.0 L61.6,390.0 L61.9,390.0 L62.3,390.0 L62.6,390.0 L62.9,390.0 L63.2,390.0 L63.5,390.0 L63.8,390.0 L64.2,390.0 L64.5,390.0 L64.8,390.0 L65.1,390.0 L65.4,390.0 L65.7,390.0 L66.1,390.0 L66.4,390.0 L66.7,390.0 L67.0,390.0 L67.3,390.0 L67.6,390.0 L68.0,390.0 L68.3,390.0 L68.6,390.0 L68.9,390.0 L69.2,390.0 L69.5,390.0 L69.9,390.0 L70.2,390.0 L70.5,390.0 L70.8,390.0 L71.1,390.0 L71.4,390.0 L71.8,390.0 L72.1,390.0 L72.4,390.0 L72.7,390.0 L73.0,390.0 L73.3,390.0 L73.7,390.0 L74.0,389.9 L74.3,389.9 L74.6,389.9 L74.9,389.9 L75.2,389.9 L75.6,389.9 L75.9,389.9 L76.2,389.9 L76.5,389.9 L76.8,389.9 L77.1,389.9 L77.5,389.8 L77.8,389.8 L78.1,389.8 L78.4,389.8 L78.7,389.8 L79.0,389.7 L79.4,389.7 L79.7,389.7 L80.0,389.6 L80.3,389.6 L80.6,389.5 L80.9,389.5 L81.3,389.4 L81.6,389.4 L81.9,389.3 L82.2,389.3 L82.5,389.2 L82.9,389.1 L83.2,389.0 L83.5,388.9 L83.8,388.8 L84.1,388.7 L84.4,388.5 L84.8,388.4 L85.1,388.2 L85.4,388.1 L85.7,387.9 L86.0,387.7 L86.3,387.5 L86.7,387.3 L87.0,387.0 L87.3,386.8 L87.6,386.5 L87.9,386.2 L88.2,385.9 L88.6,385.6 L88.9,385.3 L89.2,385.0 L89.5,384.6 L89.8,384.2 L90.1,383.8 L90.5,383.4 L90.8,383.0 L91.1,382.6 L91.4,382.2 L91.7,381.8 L92.0,381.3 L92.4,380.9 L92.7,380.4 L93.0,380.0 L93.3,379.5 L93.6,379.0 L93.9,378.6 L94.3,378.1 L94.6,377.7 L94.9,377.2 L95.2,376.7 L95.5,376.3 L95.8,375.8 L96.2,375.4 L96.5,374.9 L96.8,374.5 L97.1,374.1 L97.4,373.6 L97.7,373.2 L98.1,372.8 L98.4,372.3 L98.7,371.9 L99.0,371.4 L99.3,371.0 L99.6,370.5 L100.0,370.1 L100.3,369.6 L100.6,369.2 L100.9,368.7 L101.2,368.2 L101.5,367.7 L101.9,367.2 L102.2,366.6 L102.5,366.1 L102.8,365.5 L103.1,364.9 L103.4,364.2 L103.8,363.6 L104.1,362.8 L104.4,362.1 L104.7,361.3 L105.0,360.5 L105.3,359.7 L105.7,358.8 L106.0,357.8 L106.3,356.9 L106.6,355.8 L106.9,354.8 L107.3,353.7 L107.6,352.5 L107.9,351.3 L108.2,350.1 L108.5,348.8 L108.8,347.6 L109.2,346.2 L109.5,344.9 L109.8,343.6 L110.1,342.2 L110.4,340.9 L110.7,339.5 L111.1,338.1 L111.4,336.8 L111.7,335.5 L112.0,334.2 L112.3,332.9 L112.6,331.7 L113.0,330.4 L113.3,329.3 L113.6,328.2 L113.9,327.1 L114.2,326.0 L114.5,325.0 L114.9,324.1 L115.2,323.2 L115.5,322.4 L115.8,321.6 L116.1,320.8 L116.4,320.1 L116.8,319.4 L117.1,318.8 L117.4,318.2 L117.7,317.6 L118.0,317.1 L118.3,316.6 L118.7,316.1 L119.0,315.7 L119.3,315.3 L119.6,314.9 L119.9,314.5 L120.2,314.2 L120.6,313.8 L120.9,313.5 L121.2,313.1 L121.5,312.8 L121.8,312.5 L122.1,312.1 L122.5,311.8 L122.8,311.5 L123.1,311.1 L123.4,310.8 L123.7,310.4 L124.0,310.0 L124.4,309.6 L124.7,309.2 L125.0,308.7 L125.3,308.2 L125.6,307.7 L125.9,307.2 L126.3,306.6 L126.6,305.9 L126.9,305.2 L127.2,304.5 L127.5,303.7 L127.8,302.9 L128.2,302.0 L128.5,301.1 L128.8,300.1 L129.1,299.0 L129.4,297.9 L129.7,296.7 L130.1,295.4 L130.4,294.1 L130.7,292.7 L131.0,291.3 L131.3,289.8 L131.7,288.2 L132.0,286.5 L132.3,284.8 L132.6,283.1 L132.9,281.3 L133.2,279.4 L133.6,277.5 L133.9,275.6 L134.2,273.6 L134.5,271.6 L134.8,269.5 L135.1,267.5 L135.5,265.5 L135.8,263.4 L136.1,261.3 L136.4,259.3 L136.7,257.3 L137.0,255.3 L137.4,253.3 L137.7,251.4 L138.0,249.5 L138.3,247.7 L138.6,245.9 L138.9,244.2 L139.3,242.6 L139.6,241.0 L139.9,239.5 L140.2,238.1 L140.5,236.8 L140.8,235.6 L141.2,234.5 L141.5,233.5 L141.8,232.5 L142.1,231.7 L142.4,230.9 L142.7,230.3 L143.1,229.7 L143.4,229.2 L143.7,228.8 L144.0,228.5 L144.3,228.2 L144.6,228.1 L145.0,227.9 L145.3,227.9 L145.6,227.9 L145.9,227.9 L146.2,228.0 L146.5,228.1 L146.9,228.2 L147.2,228.4 L147.5,228.6 L147.8,228.7 L148.1,228.9 L148.4,229.0 L148.8,229.2 L149.1,229.3 L149.4,229.4 L149.7,229.5 L150.0,229.5 L150.3,229.5 L150.7,229.4 L151.0,229.3 L151.3,229.2 L151.6,228.9 L151.9,228.7 L152.2,228.3 L152.6,227.9 L152.9,227.4 L153.2,226.9 L153.5,226.2 L153.8,225.5 L154.1,224.7 L154.5,223.9 L154.8,222.9 L155.1,221.9 L155.4,220.8 L155.7,219.5 L156.1,218.2 L156.4,216.9 L156.7,215.4 L157.0,213.8 L157.3,212.2 L157.6,210.5 L158.0,208.7 L158.3,206.8 L158.6,204.8 L158.9,202.8 L159.2,200.7 L159.5,198.5 L159.9,196.3 L160.2,194.0 L160.5,191.7 L160.8,189.3 L161.1,186.9 L161.4,184.5 L161.8,182.0 L162.1,179.6 L162.4,177.1 L162.7,174.6 L163.0,172.2 L163.3,169.8 L163.7,167.4 L164.0,165.0 L164.3,162.8 L164.6,160.5 L164.9,158.4 L165.2,156.3 L165.6,154.3 L165.9,152.4 L166.2,150.5 L166.5,148.8 L166.8,147.2 L167.1,145.7 L167.5,144.4 L167.8,143.1 L168.1,142.0 L168.4,140.9 L168.7,140.0 L169.0,139.2 L169.4,138.6 L169.7,138.0 L170.0,137.5 L170.3,137.2 L170.6,136.9 L170.9,136.8 L171.3,136.7 L171.6,136.7 L171.9,136.7 L172.2,136.9 L172.5,137.0 L172.8,137.3 L173.2,137.5 L173.5,137.8 L173.8,138.1 L174.1,138.5 L174.4,138.8 L174.7,139.1 L175.1,139.4 L175.4,139.7 L175.7,140.0 L176.0,140.2 L176.3,140.4 L176.6,140.6 L177.0,140.6 L177.3,140.7 L177.6,140.6 L177.9,140.5 L178.2,140.3 L178.5,140.0 L178.9,139.7 L179.2,139.3 L179.5,138.7 L179.8,138.2 L180.1,137.5 L180.4,136.7 L180.8,135.9 L181.1,134.9 L181.4,134.0 L181.7,132.9 L182.0,131.8 L182.4,130.7 L182.7,129.5 L183.0,128.2 L183.3,127.0 L183.6,125.7 L183.9,124.5 L184.3,123.2 L184.6,122.0 L184.9,120.8 L185.2,119.7 L185.5,118.7 L185.8,117.7 L186.2,116.9 L186.5,116.1 L186.8,115.5 L187.1,115.0 L187.4,114.6 L187.7,114.4 L188.1,114.3 L188.4,114.4 L188.7,114.7 L189.0,115.1 L189.3,115.7 L189.6,116.5 L190.0,117.4 L190.3,118.5 L190.6,119.7 L190.9,121.1 L191.2,122.7 L191.5,124.3 L191.9,126.1 L192.2,128.0 L192.5,130.0 L192.8,132.1 L193.1,134.2 L193.4,136.4 L193.8,138.7 L194.1,141.0 L194.4,143.4 L194.7,145.8 L195.0,148.2 L195.3,150.7 L195.7,153.1 L196.0,155.6 L196.3,158.0 L196.6,160.4 L196.9,162.8 L197.2,165.2 L197.6,167.6 L197.9,169.9 L198.2,172.2 L198.5,174.5 L198.8,176.7 L199.1,178.9 L199.5,181.1 L199.8,183.2 L200.1,185.3 L200.4,187.3 L200.7,189.3 L201.0,191.2 L201.4,193.1 L201.7,194.9 L202.0,196.7 L202.3,198.5 L202.6,200.2 L202.9,201.9 L203.3,203.5 L203.6,205.1 L203.9,206.6 L204.2,208.1 L204.5,209.6 L204.8,211.1 L205.2,212.5 L205.5,213.8 L205.8,215.2 L206.1,216.5 L206.4,217.8 L206.8,219.0 L207.1,220.3 L207.4,221.5 L207.7,222.6 L208.0,223.8 L208.3,224.9 L208.7,226.0 L209.0,227.1 L209.3,228.1 L209.6,229.2 L209.9,230.2 L210.2,231.2 L210.6,232.2 L210.9,233.2 L211.2,234.2 L211.5,235.2 L211.8,236.1 L212.1,237.1 L212.5,238.0 L212.8,238.9 L213.1,239.9 L213.4,240.8 L213.7,241.7 L214.0,242.6 L214.4,243.5 L214.7,244.4 L215.0,245.3 L215.3,246.2 L215.6,247.1 L215.9,248.0 L216.3,248.9 L216.6,249.8 L216.9,250.7 L217.2,251.6 L217.5,252.4 L217.8,253.3 L218.2,254.2 L218.5,255.1 L218.8,255.9 L219.1,256.8 L219.4,257.6 L219.7,258.5 L220.1,259.3 L220.4,260.1 L220.7,260.9 L221.0,261.7 L221.3,262.5 L221.6,263.3 L222.0,264.1 L222.3,264.8 L222.6,265.6 L222.9,266.3 L223.2,267.0 L223.5,267.8 L223.9,268.4 L224.2,269.1 L224.5,269.8 L224.8,270.5 L225.1,271.1 L225.4,271.7 L225.8,272.3 L226.1,272.9 L226.4,273.5 L226.7,274.1 L227.0,274.6 L227.3,275.2 L227.7,275.7 L228.0,276.2 L228.3,276.7 L228.6,277.2 L228.9,277.7 L229.2,278.2 L229.6,278.6 L229.9,279.0 L230.2,279.5 L230.5,279.9 L230.8,280.3 L231.2,280.7 L231.5,281.1 L231.8,281.5 L232.1,281.8 L232.4,282.2 L232.7,282.5 L233.1,282.9 L233.4,283.2 L233.7,283.5 L234.0,283.8 L234.3,284.1 L234.6,284.4 L235.0,284.7 L235.3,285.0 L235.6,285.3 L235.9,285.6 L236.2,285.9 L236.5,286.2 L236.9,286.4 L237.2,286.7 L237.5,287.0 L237.8,287.3 L238.1,287.6 L238.4,287.8 L238.8,288.1 L239.1,288.4 L239.4,288.7 L239.7,289.0 L240.0,289.3 L240.3,289.6 L240.7,289.9 L241.0,290.2 L241.3,290.5 L241.6,290.9 L241.9,291.2 L242.2,291.5 L242.6,291.9 L242.9,292.2 L243.2,292.6 L243.5,292.9 L243.8,293.3 L244.1,293.7 L244.5,294.0 L244.8,294.4 L245.1,294.8 L245.4,295.2 L245.7,295.5 L246.0,295.9 L246.4,296.3 L246.7,296.7 L247.0,297.1 L247.3,297.4 L247.6,297.8 L247.9,298.2 L248.3,298.5 L248.6,298.9 L248.9,299.3 L249.2,299.6 L249.5,299.9 L249.8,300.3 L250.2,300.6 L250.5,300.9 L250.8,301.3 L251.1,301.6 L251.4,301.9 L251.7,302.2 L252.1,302.4 L252.4,302.7 L252.7,303.0 L253.0,303.2 L253.3,303.5 L253.6,303.7 L254.0,303.9 L254.3,304.1 L254.6,304.3 L254.9,304.5 L255.2,304.7 L255.6,304.9 L255.9,305.0 L256.2,305.1 L256.5,305.3 L256.8,305.4 L257.1,305.5 L257.5,305.5 L257.8,305.6 L258.1,305.6 L258.4,305.6 L258.7,305.6 L259.0,305.6 L259.4,305.5 L259.7,305.5 L260.0,305.4 L260.3,305.2 L260.6,305.1 L260.9,304.9 L261.3,304.6 L261.6,304.4 L261.9,304.1 L262.2,303.7 L262.5,303.3 L262.8,302.9 L263.2,302.4 L263.5,301.9 L263.8,301.3 L264.1,300.6 L264.4,299.9 L264.7,299.1 L265.1,298.2 L265.4,297.3 L265.7,296.2 L266.0,295.1 L266.3,293.9 L266.6,292.6 L267.0,291.2 L267.3,289.7 L267.6,288.0 L267.9,286.2 L268.2,284.3 L268.5,282.3 L268.9,280.1 L269.2,277.7 L269.5,275.1 L269.8,272.4 L270.1,269.5 L270.4,266.4 L270.8,263.1 L271.1,259.6 L271.4,255.8 L271.7,251.9 L272.0,247.6 L272.3,243.2 L272.7,238.4 L273.0,233.4 L273.3,228.2 L273.6,222.6 L273.9,216.8 L274.2,210.7 L274.6,204.3 L274.9,197.7 L275.2,190.8 L275.5,183.6 L275.8,176.1 L276.1,168.4 L276.5,160.5 L276.8,152.4 L277.1,144.0 L277.4,135.5 L277.7,126.8 L278.0,118.1 L278.4,109.2 L278.7,100.2 L279.0,91.2" stroke-width="2.55"/>
<path d="M57.5,403.4 L57.8,403.4 L58.1,403.4 L58.5,403.4 L58.8,403.4 L59.1,403.4 L59.4,403.4 L59.7,403.4 L60.0,403.4 L60.4,403.4 L60.7,403.4 L61.0,403.4 L61.3,403.4 L61.6,403.4 L61.9,403.4 L62.3,403.4 L62.6,403.4 L62.9,403.4 L63.2,403.4 L63.5,403.4 L63.8,403.4 L64.2,403.4 L64.5,403.4 L64.8,403.4 L65.1,403.4 L65.4,403.4 L65.7,403.4 L66.1,403.4 L66.4,403.4 L66.7,403.4 L67.0,403.4 L67.3,403.4 L67.6,403.4 L68.0,403.4 L68.3,403.4 L68.6,403.4 L68.9,403.4 L69.2,403.4 L69.5,403.4 L69.9,403.3 L70.2,403.3 L70.5,403.3 L70.8,403.3 L71.1,403.3 L71.4,403.3 L71.8,403.3 L72.1,403.3 L72.4,403.3 L72.7,403.3 L73.0,403.3 L73.3,403.2 L73.7,403.2 L74.0,403.2 L74.3,403.2 L74.6,403.2 L74.9,403.2 L75.2,403.1 L75.6,403.1 L75.9,403.1 L76.2,403.1 L76.5,403.0 L76.8,403.0 L77.1,403.0 L77.5,402.9 L77.8,402.9 L78.1,402.8 L78.4,402.8 L78.7,402.7 L79.0,402.7 L79.4,402.6 L79.7,402.6 L80.0,402.5 L80.3,402.4 L80.6,402.3 L80.9,402.3 L81.3,402.2 L81.6,402.1 L81.9,402.0 L82.2,401.9 L82.5,401.8 L82.9,401.6 L83.2,401.5 L83.5,401.4 L83.8,401.2 L84.1,401.1 L84.4,400.9 L84.8,400.7 L85.1,400.6 L85.4,400.4 L85.7,400.2 L86.0,400.0 L86.3,399.7 L86.7,399.5 L87.0,399.3 L87.3,399.0 L87.6,398.7 L87.9,398.5 L88.2,398.2 L88.6,397.9 L88.9,397.6 L89.2,397.2 L89.5,396.9 L89.8,396.6 L90.1,396.2 L90.5,395.9 L90.8,395.5 L91.1,395.1 L91.4,394.7 L91.7,394.3 L92.0,393.9 L92.4,393.5 L92.7,393.1 L93.0,392.7 L93.3,392.3 L93.6,391.8 L93.9,391.4 L94.3,391.0 L94.6,390.5 L94.9,390.1 L95.2,389.6 L95.5,389.2 L95.8,388.7 L96.2,388.3 L96.5,387.8 L96.8,387.3 L97.1,386.8 L97.4,386.4 L97.7,385.9 L98.1,385.4 L98.4,384.9 L98.7,384.4 L99.0,383.8 L99.3,383.3 L99.6,382.8 L100.0,382.3 L100.3,381.7 L100.6,381.1 L100.9,380.6 L101.2,380.0 L101.5,379.4 L101.9,378.7 L102.2,378.1 L102.5,377.4 L102.8,376.8 L103.1,376.1 L103.4,375.3 L103.8,374.6 L104.1,373.9 L104.4,373.1 L104.7,372.3 L105.0,371.4 L105.3,370.6 L105.7,369.7 L106.0,368.8 L106.3,367.9 L106.6,367.0 L106.9,366.0 L107.3,365.0 L107.6,364.0 L107.9,363.0 L108.2,361.9 L108.5,360.9 L108.8,359.8 L109.2,358.7 L109.5,357.7 L109.8,356.6 L110.1,355.5 L110.4,354.4 L110.7,353.3 L111.1,352.2 L111.4,351.1 L111.7,350.0 L112.0,348.9 L112.3,347.9 L112.6,346.8 L113.0,345.8 L113.3,344.8 L113.6,343.8 L113.9,342.9 L114.2,341.9 L114.5,341.0 L114.9,340.1 L115.2,339.2 L115.5,338.4 L115.8,337.6 L116.1,336.8 L116.4,336.0 L116.8,335.2 L117.1,334.5 L117.4,333.8 L117.7,333.1 L118.0,332.5 L118.3,331.8 L118.7,331.2 L119.0,330.6 L119.3,330.0 L119.6,329.4 L119.9,328.8 L120.2,328.3 L120.6,327.7 L120.9,327.2 L121.2,326.6 L121.5,326.1 L121.8,325.5 L122.1,325.0 L122.5,324.4 L122.8,323.9 L123.1,323.3 L123.4,322.7 L123.7,322.1 L124.0,321.5 L124.4,320.9 L124.7,320.3 L125.0,319.6 L125.3,318.9 L125.6,318.2 L125.9,317.4 L126.3,316.7 L126.6,315.9 L126.9,315.0 L127.2,314.2 L127.5,313.3 L127.8,312.3 L128.2,311.3 L128.5,310.3 L128.8,309.3 L129.1,308.2 L129.4,307.0 L129.7,305.9 L130.1,304.6 L130.4,303.4 L130.7,302.1 L131.0,300.8 L131.3,299.4 L131.7,298.0 L132.0,296.6 L132.3,295.1 L132.6,293.6 L132.9,292.1 L133.2,290.5 L133.6,288.9 L133.9,287.3 L134.2,285.7 L134.5,284.1 L134.8,282.5 L135.1,280.8 L135.5,279.2 L135.8,277.6 L136.1,275.9 L136.4,274.3 L136.7,272.7 L137.0,271.1 L137.4,269.6 L137.7,268.0 L138.0,266.5 L138.3,265.0 L138.6,263.6 L138.9,262.2 L139.3,260.8 L139.6,259.5 L139.9,258.3 L140.2,257.1 L140.5,255.9 L140.8,254.8 L141.2,253.7 L141.5,252.7 L141.8,251.8 L142.1,250.9 L142.4,250.1 L142.7,249.3 L143.1,248.5 L143.4,247.9 L143.7,247.2 L144.0,246.7 L144.3,246.1 L144.6,245.6 L145.0,245.2 L145.3,244.7 L145.6,244.4 L145.9,244.0 L146.2,243.7 L146.5,243.3 L146.9,243.0 L147.2,242.8 L147.5,242.5 L147.8,242.2 L148.1,241.9 L148.4,241.7 L148.8,241.4 L149.1,241.1 L149.4,240.8 L149.7,240.5 L150.0,240.1 L150.3,239.7 L150.7,239.3 L151.0,238.9 L151.3,238.4 L151.6,237.9 L151.9,237.4 L152.2,236.8 L152.6,236.1 L152.9,235.4 L153.2,234.7 L153.5,233.9 L153.8,233.1 L154.1,232.2 L154.5,231.2 L154.8,230.2 L155.1,229.1 L155.4,228.0 L155.7,226.8 L156.1,225.6 L156.4,224.3 L156.7,222.9 L157.0,221.5 L157.3,220.0 L157.6,218.5 L158.0,217.0 L158.3,215.3 L158.6,213.7 L158.9,212.0 L159.2,210.2 L159.5,208.5 L159.9,206.6 L160.2,204.8 L160.5,202.9 L160.8,201.1 L161.1,199.2 L161.4,197.2 L161.8,195.3 L162.1,193.4 L162.4,191.5 L162.7,189.6 L163.0,187.7 L163.3,185.8 L163.7,183.9 L164.0,182.1 L164.3,180.3 L164.6,178.6 L164.9,176.9 L165.2,175.2 L165.6,173.6 L165.9,172.0 L166.2,170.5 L166.5,169.1 L166.8,167.7 L167.1,166.4 L167.5,165.2 L167.8,164.0 L168.1,162.9 L168.4,161.9 L168.7,160.9 L169.0,160.0 L169.4,159.2 L169.7,158.5 L170.0,157.8 L170.3,157.1 L170.6,156.6 L170.9,156.1 L171.3,155.6 L171.6,155.2 L171.9,154.8 L172.2,154.5 L172.5,154.3 L172.8,154.0 L173.2,153.8 L173.5,153.6 L173.8,153.4 L174.1,153.3 L174.4,153.1 L174.7,153.0 L175.1,152.9 L175.4,152.7 L175.7,152.6 L176.0,152.4 L176.3,152.3 L176.6,152.1 L177.0,151.9 L177.3,151.7 L177.6,151.4 L177.9,151.1 L178.2,150.8 L178.5,150.5 L178.9,150.1 L179.2,149.7 L179.5,149.2 L179.8,148.8 L180.1,148.3 L180.4,147.7 L180.8,147.2 L181.1,146.6 L181.4,146.0 L181.7,145.4 L182.0,144.8 L182.4,144.1 L182.7,143.5 L183.0,142.9 L183.3,142.2 L183.6,141.6 L183.9,141.0 L184.3,140.5 L184.6,139.9 L184.9,139.4 L185.2,139.0 L185.5,138.6 L185.8,138.3 L186.2,138.0 L186.5,137.8 L186.8,137.7 L187.1,137.6 L187.4,137.7 L187.7,137.8 L188.1,138.0 L188.4,138.3 L188.7,138.7 L189.0,139.2 L189.3,139.8 L189.6,140.5 L190.0,141.3 L190.3,142.2 L190.6,143.2 L190.9,144.3 L191.2,145.5 L191.5,146.7 L191.9,148.0 L192.2,149.5 L192.5,151.0 L192.8,152.5 L193.1,154.1 L193.4,155.8 L193.8,157.5 L194.1,159.3 L194.4,161.2 L194.7,163.0 L195.0,164.9 L195.3,166.8 L195.7,168.8 L196.0,170.8 L196.3,172.8 L196.6,174.7 L196.9,176.7 L197.2,178.7 L197.6,180.7 L197.9,182.7 L198.2,184.7 L198.5,186.7 L198.8,188.7 L199.1,190.6 L199.5,192.5 L199.8,194.5 L200.1,196.3 L200.4,198.2 L200.7,200.1 L201.0,201.9 L201.4,203.7 L201.7,205.4 L202.0,207.2 L202.3,208.9 L202.6,210.5 L202.9,212.2 L203.3,213.8 L203.6,215.4 L203.9,217.0 L204.2,218.5 L204.5,220.0 L204.8,221.5 L205.2,222.9 L205.5,224.3 L205.8,225.7 L206.1,227.1 L206.4,228.5 L206.8,229.8 L207.1,231.1 L207.4,232.3 L207.7,233.6 L208.0,234.8 L208.3,236.0 L208.7,237.2 L209.0,238.4 L209.3,239.5 L209.6,240.6 L209.9,241.8 L210.2,242.9 L210.6,243.9 L210.9,245.0 L211.2,246.1 L211.5,247.1 L211.8,248.1 L212.1,249.1 L212.5,250.1 L212.8,251.1 L213.1,252.1 L213.4,253.1 L213.7,254.0 L214.0,255.0 L214.4,255.9 L214.7,256.9 L215.0,257.8 L215.3,258.7 L215.6,259.6 L215.9,260.5 L216.3,261.4 L216.6,262.3 L216.9,263.2 L217.2,264.1 L217.5,265.0 L217.8,265.8 L218.2,266.7 L218.5,267.5 L218.8,268.4 L219.1,269.2 L219.4,270.0 L219.7,270.8 L220.1,271.7 L220.4,272.4 L220.7,273.2 L221.0,274.0 L221.3,274.8 L221.6,275.5 L222.0,276.3 L222.3,277.0 L222.6,277.8 L222.9,278.5 L223.2,279.2 L223.5,279.9 L223.9,280.6 L224.2,281.2 L224.5,281.9 L224.8,282.5 L225.1,283.2 L225.4,283.8 L225.8,284.4 L226.1,285.0 L226.4,285.6 L226.7,286.2 L227.0,286.7 L227.3,287.3 L227.7,287.8 L228.0,288.4 L228.3,288.9 L228.6,289.4 L228.9,289.9 L229.2,290.4 L229.6,290.9 L229.9,291.3 L230.2,291.8 L230.5,292.2 L230.8,292.7 L231.2,293.1 L231.5,293.5 L231.8,293.9 L232.1,294.3 L232.4,294.7 L232.7,295.1 L233.1,295.5 L233.4,295.9 L233.7,296.2 L234.0,296.6 L234.3,296.9 L234.6,297.3 L235.0,297.6 L235.3,298.0 L235.6,298.3 L235.9,298.6 L236.2,299.0 L236.5,299.3 L236.9,299.6 L237.2,299.9 L237.5,300.3 L237.8,300.6 L238.1,300.9 L238.4,301.2 L238.8,301.5 L239.1,301.8 L239.4,302.2 L239.7,302.5 L240.0,302.8 L240.3,303.1 L240.7,303.4 L241.0,303.8 L241.3,304.1 L241.6,304.4 L241.9,304.7 L242.2,305.1 L242.6,305.4 L242.9,305.7 L243.2,306.1 L243.5,306.4 L243.8,306.7 L244.1,307.1 L244.5,307.4 L244.8,307.7 L245.1,308.1 L245.4,308.4 L245.7,308.7 L246.0,309.1 L246.4,309.4 L246.7,309.7 L247.0,310.0 L247.3,310.4 L247.6,310.7 L247.9,311.0 L248.3,311.3 L248.6,311.6 L248.9,311.9 L249.2,312.2 L249.5,312.5 L249.8,312.7 L250.2,313.0 L250.5,313.3 L250.8,313.5 L251.1,313.8 L251.4,314.0 L251.7,314.2 L252.1,314.4 L252.4,314.6 L252.7,314.8 L253.0,315.0 L253.3,315.1 L253.6,315.3 L254.0,315.4 L254.3,315.5 L254.6,315.6 L254.9,315.7 L255.2,315.8 L255.6,315.8 L255.9,315.9 L256.2,315.9 L256.5,315.8 L256.8,315.8 L257.1,315.7 L257.5,315.7 L257.8,315.5 L258.1,315.4 L258.4,315.2 L258.7,315.0 L259.0,314.8 L259.4,314.5 L259.7,314.2 L260.0,313.8 L260.3,313.5 L260.6,313.0 L260.9,312.6 L261.3,312.0 L261.6,311.5 L261.9,310.8 L262.2,310.2 L262.5,309.4 L262.8,308.6 L263.2,307.8 L263.5,306.8 L263.8,305.8 L264.1,304.8 L264.4,303.6 L264.7,302.4 L265.1,301.0 L265.4,299.6 L265.7,298.1 L266.0,296.5 L266.3,294.8 L266.6,293.0 L267.0,291.0 L267.3,289.0 L267.6,286.8 L267.9,284.5 L268.2,282.1 L268.5,279.5 L268.9,276.7 L269.2,273.9 L269.5,270.9 L269.8,267.7 L270.1,264.3 L270.4,260.8 L270.8,257.1 L271.1,253.3 L271.4,249.2 L271.7,245.0 L272.0,240.6 L272.3,236.0 L272.7,231.2 L273.0,226.3 L273.3,221.1 L273.6,215.8 L273.9,210.3 L274.2,204.6 L274.6,198.7 L274.9,192.6 L275.2,186.4 L275.5,180.0 L275.8,173.5 L276.1,166.8 L276.5,159.9 L276.8,153.0 L277.1,145.9 L277.4,138.7 L277.7,131.5 L278.0,124.1 L278.4,116.7 L278.7,109.2 L279.0,101.7" stroke-width="2.55"/>
<path d="M57.5,416.8 L57.8,416.8 L58.1,416.8 L58.5,416.8 L58.8,416.8 L59.1,416.8 L59.4,416.8 L59.7,416.8 L60.0,416.8 L60.4,416.8 L60.7,416.8 L61.0,416.8 L61.3,416.8 L61.6,416.8 L61.9,416.8 L62.3,416.8 L62.6,416.8 L62.9,416.8 L63.2,416.8 L63.5,416.8 L63.8,416.8 L64.2,416.8 L64.5,416.8 L64.8,416.8 L65.1,416.8 L65.4,416.8 L65.7,416.7 L66.1,416.7 L66.4,416.7 L66.7,416.7 L67.0,416.7 L67.3,416.7 L67.6,416.7 L68.0,416.7 L68.3,416.7 L68.6,416.7 L68.9,416.7 L69.2,416.6 L69.5,416.6 L69.9,416.6 L70.2,416.6 L70.5,416.6 L70.8,416.6 L71.1,416.5 L71.4,416.5 L71.8,416.5 L72.1,416.5 L72.4,416.5 L72.7,416.4 L73.0,416.4 L73.3,416.4 L73.7,416.3 L74.0,416.3 L74.3,416.3 L74.6,416.2 L74.9,416.2 L75.2,416.2 L75.6,416.1 L75.9,416.1 L76.2,416.0 L76.5,416.0 L76.8,415.9 L77.1,415.9 L77.5,415.8 L77.8,415.7 L78.1,415.7 L78.4,415.6 L78.7,415.5 L79.0,415.4 L79.4,415.3 L79.7,415.3 L80.0,415.2 L80.3,415.1 L80.6,415.0 L80.9,414.8 L81.3,414.7 L81.6,414.6 L81.9,414.5 L82.2,414.3 L82.5,414.2 L82.9,414.1 L83.2,413.9 L83.5,413.7 L83.8,413.6 L84.1,413.4 L84.4,413.2 L84.8,413.0 L85.1,412.8 L85.4,412.6 L85.7,412.4 L86.0,412.2 L86.3,411.9 L86.7,411.7 L87.0,411.4 L87.3,411.2 L87.6,410.9 L87.9,410.6 L88.2,410.3 L88.6,410.0 L88.9,409.7 L89.2,409.4 L89.5,409.1 L89.8,408.8 L90.1,408.4 L90.5,408.1 L90.8,407.7 L91.1,407.3 L91.4,407.0 L91.7,406.6 L92.0,406.2 L92.4,405.8 L92.7,405.4 L93.0,405.0 L93.3,404.6 L93.6,404.2 L93.9,403.7 L94.3,403.3 L94.6,402.9 L94.9,402.4 L95.2,401.9 L95.5,401.5 L95.8,401.0 L96.2,400.5 L96.5,400.0 L96.8,399.5 L97.1,399.0 L97.4,398.5 L97.7,398.0 L98.1,397.5 L98.4,396.9 L98.7,396.4 L99.0,395.8 L99.3,395.3 L99.6,394.7 L100.0,394.1 L100.3,393.5 L100.6,392.9 L100.9,392.3 L101.2,391.7 L101.5,391.0 L101.9,390.4 L102.2,389.7 L102.5,389.0 L102.8,388.3 L103.1,387.6 L103.4,386.9 L103.8,386.1 L104.1,385.4 L104.4,384.6 L104.7,383.8 L105.0,383.0 L105.3,382.2 L105.7,381.4 L106.0,380.5 L106.3,379.7 L106.6,378.8 L106.9,377.9 L107.3,377.0 L107.6,376.1 L107.9,375.2 L108.2,374.3 L108.5,373.4 L108.8,372.4 L109.2,371.5 L109.5,370.6 L109.8,369.6 L110.1,368.7 L110.4,367.7 L110.7,366.8 L111.1,365.8 L111.4,364.9 L111.7,363.9 L112.0,363.0 L112.3,362.0 L112.6,361.1 L113.0,360.2 L113.3,359.3 L113.6,358.4 L113.9,357.5 L114.2,356.6 L114.5,355.7 L114.9,354.9 L115.2,354.0 L115.5,353.2 L115.8,352.3 L116.1,351.5 L116.4,350.7 L116.8,349.9 L117.1,349.2 L117.4,348.4 L117.7,347.6 L118.0,346.9 L118.3,346.1 L118.7,345.4 L119.0,344.7 L119.3,344.0 L119.6,343.3 L119.9,342.6 L120.2,341.9 L120.6,341.2 L120.9,340.5 L121.2,339.8 L121.5,339.1 L121.8,338.4 L122.1,337.6 L122.5,336.9 L122.8,336.2 L123.1,335.5 L123.4,334.7 L123.7,334.0 L124.0,333.2 L124.4,332.5 L124.7,331.7 L125.0,330.9 L125.3,330.1 L125.6,329.2 L125.9,328.4 L126.3,327.5 L126.6,326.6 L126.9,325.7 L127.2,324.7 L127.5,323.8 L127.8,322.8 L128.2,321.8 L128.5,320.8 L128.8,319.7 L129.1,318.6 L129.4,317.5 L129.7,316.4 L130.1,315.2 L130.4,314.1 L130.7,312.9 L131.0,311.7 L131.3,310.4 L131.7,309.2 L132.0,307.9 L132.3,306.6 L132.6,305.3 L132.9,304.0 L133.2,302.6 L133.6,301.3 L133.9,299.9 L134.2,298.6 L134.5,297.2 L134.8,295.8 L135.1,294.5 L135.5,293.1 L135.8,291.7 L136.1,290.4 L136.4,289.0 L136.7,287.7 L137.0,286.3 L137.4,285.0 L137.7,283.7 L138.0,282.4 L138.3,281.2 L138.6,279.9 L138.9,278.7 L139.3,277.5 L139.6,276.4 L139.9,275.2 L140.2,274.1 L140.5,273.0 L140.8,272.0 L141.2,271.0 L141.5,270.0 L141.8,269.0 L142.1,268.1 L142.4,267.2 L142.7,266.4 L143.1,265.5 L143.4,264.7 L143.7,263.9 L144.0,263.2 L144.3,262.5 L144.6,261.8 L145.0,261.1 L145.3,260.4 L145.6,259.8 L145.9,259.2 L146.2,258.5 L146.5,257.9 L146.9,257.4 L147.2,256.8 L147.5,256.2 L147.8,255.6 L148.1,255.1 L148.4,254.5 L148.8,253.9 L149.1,253.3 L149.4,252.7 L149.7,252.1 L150.0,251.5 L150.3,250.9 L150.7,250.2 L151.0,249.5 L151.3,248.8 L151.6,248.1 L151.9,247.4 L152.2,246.6 L152.6,245.8 L152.9,244.9 L153.2,244.1 L153.5,243.2 L153.8,242.3 L154.1,241.3 L154.5,240.3 L154.8,239.2 L155.1,238.2 L155.4,237.1 L155.7,235.9 L156.1,234.8 L156.4,233.5 L156.7,232.3 L157.0,231.0 L157.3,229.7 L157.6,228.4 L158.0,227.0 L158.3,225.6 L158.6,224.2 L158.9,222.7 L159.2,221.3 L159.5,219.8 L159.9,218.3 L160.2,216.8 L160.5,215.2 L160.8,213.7 L161.1,212.1 L161.4,210.6 L161.8,209.0 L162.1,207.5 L162.4,205.9 L162.7,204.4 L163.0,202.8 L163.3,201.3 L163.7,199.8 L164.0,198.3 L164.3,196.9 L164.6,195.4 L164.9,194.0 L165.2,192.6 L165.6,191.3 L165.9,190.0 L166.2,188.7 L166.5,187.4 L166.8,186.2 L167.1,185.1 L167.5,183.9 L167.8,182.8 L168.1,181.8 L168.4,180.8 L168.7,179.8 L169.0,178.9 L169.4,178.0 L169.7,177.2 L170.0,176.4 L170.3,175.7 L170.6,175.0 L170.9,174.3 L171.3,173.6 L171.6,173.0 L171.9,172.5 L172.2,171.9 L172.5,171.4 L172.8,170.9 L173.2,170.4 L173.5,170.0 L173.8,169.6 L174.1,169.2 L174.4,168.8 L174.7,168.4 L175.1,168.0 L175.4,167.7 L175.7,167.3 L176.0,167.0 L176.3,166.6 L176.6,166.3 L177.0,166.0 L177.3,165.6 L177.6,165.3 L177.9,165.0 L178.2,164.6 L178.5,164.3 L178.9,163.9 L179.2,163.6 L179.5,163.2 L179.8,162.8 L180.1,162.5 L180.4,162.1 L180.8,161.8 L181.1,161.4 L181.4,161.1 L181.7,160.7 L182.0,160.4 L182.4,160.1 L182.7,159.8 L183.0,159.5 L183.3,159.2 L183.6,158.9 L183.9,158.7 L184.3,158.5 L184.6,158.4 L184.9,158.2 L185.2,158.1 L185.5,158.1 L185.8,158.1 L186.2,158.1 L186.5,158.2 L186.8,158.4 L187.1,158.6 L187.4,158.8 L187.7,159.1 L188.1,159.5 L188.4,159.9 L188.7,160.4 L189.0,161.0 L189.3,161.6 L189.6,162.3 L190.0,163.0 L190.3,163.8 L190.6,164.7 L190.9,165.6 L191.2,166.6 L191.5,167.6 L191.9,168.7 L192.2,169.9 L192.5,171.1 L192.8,172.4 L193.1,173.7 L193.4,175.0 L193.8,176.4 L194.1,177.8 L194.4,179.3 L194.7,180.8 L195.0,182.4 L195.3,183.9 L195.7,185.5 L196.0,187.1 L196.3,188.7 L196.6,190.4 L196.9,192.1 L197.2,193.7 L197.6,195.4 L197.9,197.1 L198.2,198.8 L198.5,200.5 L198.8,202.2 L199.1,203.9 L199.5,205.6 L199.8,207.3 L200.1,208.9 L200.4,210.6 L200.7,212.3 L201.0,213.9 L201.4,215.5 L201.7,217.2 L202.0,218.8 L202.3,220.4 L202.6,221.9 L202.9,223.5 L203.3,225.0 L203.6,226.5 L203.9,228.0 L204.2,229.5 L204.5,231.0 L204.8,232.4 L205.2,233.9 L205.5,235.3 L205.8,236.7 L206.1,238.0 L206.4,239.4 L206.8,240.7 L207.1,242.0 L207.4,243.3 L207.7,244.6 L208.0,245.8 L208.3,247.1 L208.7,248.3 L209.0,249.5 L209.3,250.7 L209.6,251.9 L209.9,253.0 L210.2,254.2 L210.6,255.3 L210.9,256.4 L211.2,257.5 L211.5,258.6 L211.8,259.6 L212.1,260.7 L212.5,261.7 L212.8,262.8 L213.1,263.8 L213.4,264.8 L213.7,265.8 L214.0,266.8 L214.4,267.7 L214.7,268.7 L215.0,269.7 L215.3,270.6 L215.6,271.5 L215.9,272.5 L216.3,273.4 L216.6,274.3 L216.9,275.2 L217.2,276.1 L217.5,276.9 L217.8,277.8 L218.2,278.7 L218.5,279.5 L218.8,280.4 L219.1,281.2 L219.4,282.0 L219.7,282.8 L220.1,283.6 L220.4,284.4 L220.7,285.2 L221.0,286.0 L221.3,286.7 L221.6,287.5 L222.0,288.2 L222.3,289.0 L222.6,289.7 L222.9,290.4 L223.2,291.1 L223.5,291.8 L223.9,292.5 L224.2,293.1 L224.5,293.8 L224.8,294.5 L225.1,295.1 L225.4,295.7 L225.8,296.3 L226.1,296.9 L226.4,297.5 L226.7,298.1 L227.0,298.7 L227.3,299.3 L227.7,299.8 L228.0,300.4 L228.3,300.9 L228.6,301.5 L228.9,302.0 L229.2,302.5 L229.6,303.0 L229.9,303.5 L230.2,304.0 L230.5,304.4 L230.8,304.9 L231.2,305.4 L231.5,305.8 L231.8,306.2 L232.1,306.7 L232.4,307.1 L232.7,307.5 L233.1,307.9 L233.4,308.3 L233.7,308.7 L234.0,309.1 L234.3,309.5 L234.6,309.9 L235.0,310.3 L235.3,310.6 L235.6,311.0 L235.9,311.4 L236.2,311.7 L236.5,312.1 L236.9,312.4 L237.2,312.8 L237.5,313.1 L237.8,313.5 L238.1,313.8 L238.4,314.1 L238.8,314.5 L239.1,314.8 L239.4,315.1 L239.7,315.5 L240.0,315.8 L240.3,316.1 L240.7,316.4 L241.0,316.7 L241.3,317.1 L241.6,317.4 L241.9,317.7 L242.2,318.0 L242.6,318.3 L242.9,318.6 L243.2,318.9 L243.5,319.2 L243.8,319.5 L244.1,319.8 L244.5,320.1 L244.8,320.4 L245.1,320.7 L245.4,321.0 L245.7,321.2 L246.0,321.5 L246.4,321.8 L246.7,322.1 L247.0,322.3 L247.3,322.6 L247.6,322.8 L247.9,323.0 L248.3,323.3 L248.6,323.5 L248.9,323.7 L249.2,323.9 L249.5,324.1 L249.8,324.3 L250.2,324.4 L250.5,324.6 L250.8,324.7 L251.1,324.9 L251.4,325.0 L251.7,325.1 L252.1,325.2 L252.4,325.3 L252.7,325.3 L253.0,325.4 L253.3,325.4 L253.6,325.4 L254.0,325.4 L254.3,325.3 L254.6,325.3 L254.9,325.2 L255.2,325.1 L255.6,325.0 L255.9,324.8 L256.2,324.6 L256.5,324.4 L256.8,324.1 L257.1,323.9 L257.5,323.6 L257.8,323.2 L258.1,322.8 L258.4,322.4 L258.7,322.0 L259.0,321.5 L259.4,320.9 L259.7,320.3 L260.0,319.7 L260.3,319.0 L260.6,318.3 L260.9,317.5 L261.3,316.6 L261.6,315.7 L261.9,314.8 L262.2,313.8 L262.5,312.7 L262.8,311.5 L263.2,310.3 L263.5,309.0 L263.8,307.6 L264.1,306.1 L264.4,304.6 L264.7,303.0 L265.1,301.3 L265.4,299.5 L265.7,297.6 L266.0,295.6 L266.3,293.5 L266.6,291.3 L267.0,289.0 L267.3,286.6 L267.6,284.1 L267.9,281.4 L268.2,278.7 L268.5,275.8 L268.9,272.8 L269.2,269.7 L269.5,266.5 L269.8,263.1 L270.1,259.6 L270.4,255.9 L270.8,252.2 L271.1,248.2 L271.4,244.2 L271.7,240.0 L272.0,235.7 L272.3,231.3 L272.7,226.7 L273.0,221.9 L273.3,217.1 L273.6,212.1 L273.9,207.0 L274.2,201.7 L274.6,196.4 L274.9,190.9 L275.2,185.3 L275.5,179.6 L275.8,173.8 L276.1,167.9 L276.5,161.9 L276.8,155.8 L277.1,149.7 L277.4,143.5 L277.7,137.2 L278.0,130.8 L278.4,124.4 L278.7,118.0 L279.0,111.5" stroke-width="2.55"/>
<path d="M57.5,430.2 L57.8,430.2 L58.1,430.2 L58.5,430.2 L58.8,430.2 L59.1,430.2 L59.4,430.2 L59.7,430.2 L60.0,430.2 L60.4,430.2 L60.7,430.2 L61.0,430.2 L61.3,430.2 L61.6,430.1 L61.9,430.1 L62.3,430.1 L62.6,430.1 L62.9,430.1 L63.2,430.1 L63.5,430.1 L63.8,430.1 L64.2,430.1 L64.5,430.1 L64.8,430.1 L65.1,430.0 L65.4,430.0 L65.7,430.0 L66.1,430.0 L66.4,430.0 L66.7,430.0 L67.0,429.9 L67.3,429.9 L67.6,429.9 L68.0,429.9 L68.3,429.9 L68.6,429.8 L68.9,429.8 L69.2,429.8 L69.5,429.8 L69.9,429.7 L70.2,429.7 L70.5,429.7 L70.8,429.7 L71.1,429.6 L71.4,429.6 L71.8,429.6 L72.1,429.5 L72.4,429.5 L72.7,429.4 L73.0,429.4 L73.3,429.3 L73.7,429.3 L74.0,429.2 L74.3,429.2 L74.6,429.1 L74.9,429.1 L75.2,429.0 L75.6,429.0 L75.9,428.9 L76.2,428.8 L76.5,428.7 L76.8,428.7 L77.1,428.6 L77.5,428.5 L77.8,428.4 L78.1,428.3 L78.4,428.2 L78.7,428.1 L79.0,428.0 L79.4,427.9 L79.7,427.8 L80.0,427.7 L80.3,427.5 L80.6,427.4 L80.9,427.3 L81.3,427.1 L81.6,427.0 L81.9,426.8 L82.2,426.7 L82.5,426.5 L82.9,426.4 L83.2,426.2 L83.5,426.0 L83.8,425.8 L84.1,425.6 L84.4,425.4 L84.8,425.2 L85.1,425.0 L85.4,424.7 L85.7,424.5 L86.0,424.3 L86.3,424.0 L86.7,423.8 L87.0,423.5 L87.3,423.2 L87.6,423.0 L87.9,422.7 L88.2,422.4 L88.6,422.1 L88.9,421.8 L89.2,421.4 L89.5,421.1 L89.8,420.8 L90.1,420.4 L90.5,420.1 L90.8,419.7 L91.1,419.4 L91.4,419.0 L91.7,418.6 L92.0,418.2 L92.4,417.8 L92.7,417.4 L93.0,417.0 L93.3,416.6 L93.6,416.2 L93.9,415.7 L94.3,415.3 L94.6,414.8 L94.9,414.4 L95.2,413.9 L95.5,413.4 L95.8,412.9 L96.2,412.5 L96.5,412.0 L96.8,411.4 L97.1,410.9 L97.4,410.4 L97.7,409.9 L98.1,409.3 L98.4,408.8 L98.7,408.2 L99.0,407.6 L99.3,407.1 L99.6,406.5 L100.0,405.9 L100.3,405.3 L100.6,404.6 L100.9,404.0 L101.2,403.4 L101.5,402.7 L101.9,402.1 L102.2,401.4 L102.5,400.7 L102.8,400.0 L103.1,399.3 L103.4,398.6 L103.8,397.9 L104.1,397.2 L104.4,396.4 L104.7,395.7 L105.0,394.9 L105.3,394.1 L105.7,393.3 L106.0,392.6 L106.3,391.8 L106.6,390.9 L106.9,390.1 L107.3,389.3 L107.6,388.5 L107.9,387.6 L108.2,386.8 L108.5,385.9 L108.8,385.1 L109.2,384.2 L109.5,383.4 L109.8,382.5 L110.1,381.6 L110.4,380.8 L110.7,379.9 L111.1,379.0 L111.4,378.2 L111.7,377.3 L112.0,376.4 L112.3,375.5 L112.6,374.7 L113.0,373.8 L113.3,372.9 L113.6,372.1 L113.9,371.2 L114.2,370.4 L114.5,369.5 L114.9,368.7 L115.2,367.9 L115.5,367.0 L115.8,366.2 L116.1,365.4 L116.4,364.6 L116.8,363.7 L117.1,362.9 L117.4,362.1 L117.7,361.3 L118.0,360.5 L118.3,359.7 L118.7,358.9 L119.0,358.1 L119.3,357.3 L119.6,356.6 L119.9,355.8 L120.2,355.0 L120.6,354.2 L120.9,353.4 L121.2,352.6 L121.5,351.8 L121.8,351.0 L122.1,350.2 L122.5,349.4 L122.8,348.6 L123.1,347.7 L123.4,346.9 L123.7,346.1 L124.0,345.2 L124.4,344.4 L124.7,343.5 L125.0,342.6 L125.3,341.8 L125.6,340.9 L125.9,339.9 L126.3,339.0 L126.6,338.1 L126.9,337.1 L127.2,336.2 L127.5,335.2 L127.8,334.2 L128.2,333.2 L128.5,332.2 L128.8,331.1 L129.1,330.1 L129.4,329.0 L129.7,327.9 L130.1,326.9 L130.4,325.7 L130.7,324.6 L131.0,323.5 L131.3,322.4 L131.7,321.2 L132.0,320.1 L132.3,318.9 L132.6,317.7 L132.9,316.5 L133.2,315.3 L133.6,314.1 L133.9,312.9 L134.2,311.7 L134.5,310.5 L134.8,309.3 L135.1,308.1 L135.5,306.9 L135.8,305.7 L136.1,304.5 L136.4,303.3 L136.7,302.1 L137.0,300.9 L137.4,299.8 L137.7,298.6 L138.0,297.5 L138.3,296.3 L138.6,295.2 L138.9,294.1 L139.3,293.0 L139.6,291.9 L139.9,290.8 L140.2,289.8 L140.5,288.7 L140.8,287.7 L141.2,286.7 L141.5,285.7 L141.8,284.8 L142.1,283.8 L142.4,282.9 L142.7,282.0 L143.1,281.1 L143.4,280.2 L143.7,279.3 L144.0,278.5 L144.3,277.6 L144.6,276.8 L145.0,276.0 L145.3,275.2 L145.6,274.4 L145.9,273.6 L146.2,272.8 L146.5,272.0 L146.9,271.3 L147.2,270.5 L147.5,269.7 L147.8,269.0 L148.1,268.2 L148.4,267.5 L148.8,266.7 L149.1,265.9 L149.4,265.1 L149.7,264.4 L150.0,263.6 L150.3,262.8 L150.7,262.0 L151.0,261.1 L151.3,260.3 L151.6,259.4 L151.9,258.6 L152.2,257.7 L152.6,256.8 L152.9,255.9 L153.2,254.9 L153.5,254.0 L153.8,253.0 L154.1,252.0 L154.5,251.0 L154.8,250.0 L155.1,248.9 L155.4,247.8 L155.7,246.7 L156.1,245.6 L156.4,244.5 L156.7,243.3 L157.0,242.1 L157.3,240.9 L157.6,239.7 L158.0,238.5 L158.3,237.3 L158.6,236.0 L158.9,234.8 L159.2,233.5 L159.5,232.2 L159.9,230.9 L160.2,229.6 L160.5,228.3 L160.8,227.0 L161.1,225.7 L161.4,224.4 L161.8,223.0 L162.1,221.7 L162.4,220.4 L162.7,219.1 L163.0,217.8 L163.3,216.5 L163.7,215.3 L164.0,214.0 L164.3,212.8 L164.6,211.5 L164.9,210.3 L165.2,209.1 L165.6,208.0 L165.9,206.8 L166.2,205.7 L166.5,204.6 L166.8,203.5 L167.1,202.4 L167.5,201.4 L167.8,200.4 L168.1,199.4 L168.4,198.5 L168.7,197.6 L169.0,196.7 L169.4,195.8 L169.7,195.0 L170.0,194.2 L170.3,193.4 L170.6,192.6 L170.9,191.9 L171.3,191.2 L171.6,190.5 L171.9,189.9 L172.2,189.2 L172.5,188.6 L172.8,188.0 L173.2,187.5 L173.5,186.9 L173.8,186.4 L174.1,185.9 L174.4,185.4 L174.7,184.9 L175.1,184.5 L175.4,184.0 L175.7,183.6 L176.0,183.2 L176.3,182.8 L176.6,182.4 L177.0,182.0 L177.3,181.7 L177.6,181.3 L177.9,181.0 L178.2,180.6 L178.5,180.3 L178.9,180.0 L179.2,179.7 L179.5,179.4 L179.8,179.2 L180.1,178.9 L180.4,178.7 L180.8,178.4 L181.1,178.2 L181.4,178.0 L181.7,177.8 L182.0,177.6 L182.4,177.5 L182.7,177.4 L183.0,177.3 L183.3,177.2 L183.6,177.1 L183.9,177.1 L184.3,177.1 L184.6,177.1 L184.9,177.2 L185.2,177.3 L185.5,177.4 L185.8,177.6 L186.2,177.8 L186.5,178.0 L186.8,178.3 L187.1,178.6 L187.4,178.9 L187.7,179.3 L188.1,179.8 L188.4,180.2 L188.7,180.8 L189.0,181.3 L189.3,182.0 L189.6,182.6 L190.0,183.3 L190.3,184.0 L190.6,184.8 L190.9,185.7 L191.2,186.5 L191.5,187.4 L191.9,188.4 L192.2,189.4 L192.5,190.4 L192.8,191.5 L193.1,192.6 L193.4,193.7 L193.8,194.9 L194.1,196.1 L194.4,197.3 L194.7,198.6 L195.0,199.9 L195.3,201.2 L195.7,202.5 L196.0,203.9 L196.3,205.3 L196.6,206.7 L196.9,208.1 L197.2,209.5 L197.6,210.9 L197.9,212.4 L198.2,213.8 L198.5,215.3 L198.8,216.7 L199.1,218.2 L199.5,219.7 L199.8,221.2 L200.1,222.7 L200.4,224.1 L200.7,225.6 L201.0,227.1 L201.4,228.6 L201.7,230.0 L202.0,231.5 L202.3,232.9 L202.6,234.4 L202.9,235.8 L203.3,237.2 L203.6,238.6 L203.9,240.0 L204.2,241.4 L204.5,242.8 L204.8,244.2 L205.2,245.6 L205.5,246.9 L205.8,248.2 L206.1,249.5 L206.4,250.9 L206.8,252.1 L207.1,253.4 L207.4,254.7 L207.7,255.9 L208.0,257.2 L208.3,258.4 L208.7,259.6 L209.0,260.8 L209.3,262.0 L209.6,263.2 L209.9,264.3 L210.2,265.5 L210.6,266.6 L210.9,267.7 L211.2,268.8 L211.5,269.9 L211.8,271.0 L212.1,272.1 L212.5,273.1 L212.8,274.2 L213.1,275.2 L213.4,276.2 L213.7,277.3 L214.0,278.3 L214.4,279.2 L214.7,280.2 L215.0,281.2 L215.3,282.1 L215.6,283.1 L215.9,284.0 L216.3,284.9 L216.6,285.9 L216.9,286.8 L217.2,287.7 L217.5,288.5 L217.8,289.4 L218.2,290.3 L218.5,291.1 L218.8,292.0 L219.1,292.8 L219.4,293.6 L219.7,294.5 L220.1,295.3 L220.4,296.1 L220.7,296.8 L221.0,297.6 L221.3,298.4 L221.6,299.1 L222.0,299.9 L222.3,300.6 L222.6,301.3 L222.9,302.1 L223.2,302.8 L223.5,303.5 L223.9,304.1 L224.2,304.8 L224.5,305.5 L224.8,306.1 L225.1,306.8 L225.4,307.4 L225.8,308.1 L226.1,308.7 L226.4,309.3 L226.7,309.9 L227.0,310.5 L227.3,311.1 L227.7,311.6 L228.0,312.2 L228.3,312.7 L228.6,313.3 L228.9,313.8 L229.2,314.3 L229.6,314.9 L229.9,315.4 L230.2,315.9 L230.5,316.4 L230.8,316.9 L231.2,317.3 L231.5,317.8 L231.8,318.3 L232.1,318.7 L232.4,319.2 L232.7,319.6 L233.1,320.0 L233.4,320.5 L233.7,320.9 L234.0,321.3 L234.3,321.7 L234.6,322.1 L235.0,322.5 L235.3,322.9 L235.6,323.3 L235.9,323.6 L236.2,324.0 L236.5,324.4 L236.9,324.7 L237.2,325.1 L237.5,325.4 L237.8,325.8 L238.1,326.1 L238.4,326.5 L238.8,326.8 L239.1,327.1 L239.4,327.4 L239.7,327.8 L240.0,328.1 L240.3,328.4 L240.7,328.7 L241.0,329.0 L241.3,329.3 L241.6,329.6 L241.9,329.8 L242.2,330.1 L242.6,330.4 L242.9,330.6 L243.2,330.9 L243.5,331.2 L243.8,331.4 L244.1,331.7 L244.5,331.9 L244.8,332.1 L245.1,332.3 L245.4,332.5 L245.7,332.8 L246.0,333.0 L246.4,333.1 L246.7,333.3 L247.0,333.5 L247.3,333.6 L247.6,333.8 L247.9,333.9 L248.3,334.1 L248.6,334.2 L248.9,334.3 L249.2,334.4 L249.5,334.4 L249.8,334.5 L250.2,334.5 L250.5,334.6 L250.8,334.6 L251.1,334.6 L251.4,334.5 L251.7,334.5 L252.1,334.4 L252.4,334.4 L252.7,334.2 L253.0,334.1 L253.3,334.0 L253.6,333.8 L254.0,333.6 L254.3,333.4 L254.6,333.1 L254.9,332.8 L255.2,332.5 L255.6,332.2 L255.9,331.8 L256.2,331.4 L256.5,331.0 L256.8,330.5 L257.1,330.0 L257.5,329.4 L257.8,328.8 L258.1,328.2 L258.4,327.5 L258.7,326.8 L259.0,326.1 L259.4,325.2 L259.7,324.4 L260.0,323.5 L260.3,322.5 L260.6,321.5 L260.9,320.4 L261.3,319.3 L261.6,318.1 L261.9,316.8 L262.2,315.5 L262.5,314.1 L262.8,312.7 L263.2,311.2 L263.5,309.6 L263.8,307.9 L264.1,306.1 L264.4,304.3 L264.7,302.4 L265.1,300.4 L265.4,298.4 L265.7,296.2 L266.0,294.0 L266.3,291.7 L266.6,289.3 L267.0,286.7 L267.3,284.1 L267.6,281.4 L267.9,278.6 L268.2,275.7 L268.5,272.7 L268.9,269.6 L269.2,266.5 L269.5,263.1 L269.8,259.7 L270.1,256.2 L270.4,252.6 L270.8,248.9 L271.1,245.1 L271.4,241.2 L271.7,237.1 L272.0,233.0 L272.3,228.8 L272.7,224.4 L273.0,220.0 L273.3,215.5 L273.6,210.9 L273.9,206.1 L274.2,201.3 L274.6,196.4 L274.9,191.5 L275.2,186.4 L275.5,181.3 L275.8,176.1 L276.1,170.8 L276.5,165.4 L276.8,160.0 L277.1,154.6 L277.4,149.0 L277.7,143.5 L278.0,137.9 L278.4,132.2 L278.7,126.5 L279.0,120.8" stroke-width="2.55"/>
<path d="M57.5,443.5 L57.8,443.5 L58.1,443.5 L58.5,443.5 L58.8,443.5 L59.1,443.5 L59.4,443.5 L59.7,443.5 L60.0,443.5 L60.4,443.5 L60.7,443.4 L61.0,443.4 L61.3,443.4 L61.6,443.4 L61.9,443.4 L62.3,443.4 L62.6,443.4 L62.9,443.3 L63.2,443.3 L63.5,443.3 L63.8,443.3 L64.2,443.3 L64.5,443.3 L64.8,443.2 L65.1,443.2 L65.4,443.2 L65.7,443.2 L66.1,443.1 L66.4,443.1 L66.7,443.1 L67.0,443.1 L67.3,443.0 L67.6,443.0 L68.0,443.0 L68.3,442.9 L68.6,442.9 L68.9,442.9 L69.2,442.8 L69.5,442.8 L69.9,442.7 L70.2,442.7 L70.5,442.7 L70.8,442.6 L71.1,442.6 L71.4,442.5 L71.8,442.5 L72.1,442.4 L72.4,442.4 L72.7,442.3 L73.0,442.2 L73.3,442.2 L73.7,442.1 L74.0,442.0 L74.3,442.0 L74.6,441.9 L74.9,441.8 L75.2,441.7 L75.6,441.6 L75.9,441.5 L76.2,441.5 L76.5,441.4 L76.8,441.3 L77.1,441.2 L77.5,441.1 L77.8,440.9 L78.1,440.8 L78.4,440.7 L78.7,440.6 L79.0,440.5 L79.4,440.3 L79.7,440.2 L80.0,440.0 L80.3,439.9 L80.6,439.7 L80.9,439.6 L81.3,439.4 L81.6,439.3 L81.9,439.1 L82.2,438.9 L82.5,438.7 L82.9,438.5 L83.2,438.3 L83.5,438.1 L83.8,437.9 L84.1,437.7 L84.4,437.5 L84.8,437.3 L85.1,437.0 L85.4,436.8 L85.7,436.5 L86.0,436.3 L86.3,436.0 L86.7,435.7 L87.0,435.5 L87.3,435.2 L87.6,434.9 L87.9,434.6 L88.2,434.3 L88.6,434.0 L88.9,433.7 L89.2,433.3 L89.5,433.0 L89.8,432.7 L90.1,432.3 L90.5,432.0 L90.8,431.6 L91.1,431.2 L91.4,430.8 L91.7,430.4 L92.0,430.1 L92.4,429.7 L92.7,429.2 L93.0,428.8 L93.3,428.4 L93.6,428.0 L93.9,427.5 L94.3,427.1 L94.6,426.6 L94.9,426.2 L95.2,425.7 L95.5,425.2 L95.8,424.7 L96.2,424.2 L96.5,423.7 L96.8,423.2 L97.1,422.7 L97.4,422.1 L97.7,421.6 L98.1,421.1 L98.4,420.5 L98.7,419.9 L99.0,419.4 L99.3,418.8 L99.6,418.2 L100.0,417.6 L100.3,417.0 L100.6,416.4 L100.9,415.8 L101.2,415.1 L101.5,414.5 L101.9,413.8 L102.2,413.2 L102.5,412.5 L102.8,411.8 L103.1,411.1 L103.4,410.5 L103.8,409.8 L104.1,409.0 L104.4,408.3 L104.7,407.6 L105.0,406.9 L105.3,406.1 L105.7,405.4 L106.0,404.6 L106.3,403.9 L106.6,403.1 L106.9,402.3 L107.3,401.6 L107.6,400.8 L107.9,400.0 L108.2,399.2 L108.5,398.4 L108.8,397.6 L109.2,396.8 L109.5,396.0 L109.8,395.2 L110.1,394.3 L110.4,393.5 L110.7,392.7 L111.1,391.9 L111.4,391.0 L111.7,390.2 L112.0,389.4 L112.3,388.6 L112.6,387.7 L113.0,386.9 L113.3,386.1 L113.6,385.2 L113.9,384.4 L114.2,383.6 L114.5,382.7 L114.9,381.9 L115.2,381.1 L115.5,380.2 L115.8,379.4 L116.1,378.6 L116.4,377.8 L116.8,376.9 L117.1,376.1 L117.4,375.3 L117.7,374.4 L118.0,373.6 L118.3,372.8 L118.7,372.0 L119.0,371.1 L119.3,370.3 L119.6,369.5 L119.9,368.6 L120.2,367.8 L120.6,367.0 L120.9,366.1 L121.2,365.3 L121.5,364.4 L121.8,363.6 L122.1,362.7 L122.5,361.9 L122.8,361.0 L123.1,360.1 L123.4,359.2 L123.7,358.4 L124.0,357.5 L124.4,356.6 L124.7,355.7 L125.0,354.8 L125.3,353.9 L125.6,352.9 L125.9,352.0 L126.3,351.1 L126.6,350.1 L126.9,349.1 L127.2,348.2 L127.5,347.2 L127.8,346.2 L128.2,345.2 L128.5,344.2 L128.8,343.2 L129.1,342.2 L129.4,341.2 L129.7,340.1 L130.1,339.1 L130.4,338.0 L130.7,337.0 L131.0,335.9 L131.3,334.8 L131.7,333.8 L132.0,332.7 L132.3,331.6 L132.6,330.5 L132.9,329.4 L133.2,328.3 L133.6,327.2 L133.9,326.1 L134.2,325.0 L134.5,323.9 L134.8,322.8 L135.1,321.7 L135.5,320.5 L135.8,319.4 L136.1,318.3 L136.4,317.2 L136.7,316.1 L137.0,315.1 L137.4,314.0 L137.7,312.9 L138.0,311.8 L138.3,310.7 L138.6,309.7 L138.9,308.6 L139.3,307.6 L139.6,306.5 L139.9,305.5 L140.2,304.5 L140.5,303.5 L140.8,302.5 L141.2,301.5 L141.5,300.5 L141.8,299.5 L142.1,298.5 L142.4,297.6 L142.7,296.6 L143.1,295.7 L143.4,294.8 L143.7,293.8 L144.0,292.9 L144.3,292.0 L144.6,291.1 L145.0,290.2 L145.3,289.3 L145.6,288.4 L145.9,287.6 L146.2,286.7 L146.5,285.8 L146.9,284.9 L147.2,284.1 L147.5,283.2 L147.8,282.3 L148.1,281.5 L148.4,280.6 L148.8,279.7 L149.1,278.9 L149.4,278.0 L149.7,277.1 L150.0,276.2 L150.3,275.3 L150.7,274.4 L151.0,273.5 L151.3,272.6 L151.6,271.7 L151.9,270.8 L152.2,269.8 L152.6,268.9 L152.9,267.9 L153.2,266.9 L153.5,266.0 L153.8,265.0 L154.1,264.0 L154.5,263.0 L154.8,261.9 L155.1,260.9 L155.4,259.9 L155.7,258.8 L156.1,257.7 L156.4,256.7 L156.7,255.6 L157.0,254.5 L157.3,253.4 L157.6,252.3 L158.0,251.2 L158.3,250.0 L158.6,248.9 L158.9,247.8 L159.2,246.6 L159.5,245.5 L159.9,244.3 L160.2,243.2 L160.5,242.0 L160.8,240.9 L161.1,239.7 L161.4,238.6 L161.8,237.4 L162.1,236.3 L162.4,235.1 L162.7,234.0 L163.0,232.9 L163.3,231.7 L163.7,230.6 L164.0,229.5 L164.3,228.4 L164.6,227.4 L164.9,226.3 L165.2,225.2 L165.6,224.2 L165.9,223.2 L166.2,222.2 L166.5,221.2 L166.8,220.2 L167.1,219.2 L167.5,218.3 L167.8,217.4 L168.1,216.5 L168.4,215.6 L168.7,214.7 L169.0,213.9 L169.4,213.1 L169.7,212.3 L170.0,211.5 L170.3,210.7 L170.6,210.0 L170.9,209.3 L171.3,208.6 L171.6,207.9 L171.9,207.3 L172.2,206.6 L172.5,206.0 L172.8,205.4 L173.2,204.8 L173.5,204.3 L173.8,203.7 L174.1,203.2 L174.4,202.7 L174.7,202.2 L175.1,201.7 L175.4,201.3 L175.7,200.9 L176.0,200.4 L176.3,200.0 L176.6,199.7 L177.0,199.3 L177.3,198.9 L177.6,198.6 L177.9,198.3 L178.2,198.0 L178.5,197.7 L178.9,197.4 L179.2,197.2 L179.5,197.0 L179.8,196.7 L180.1,196.6 L180.4,196.4 L180.8,196.2 L181.1,196.1 L181.4,196.0 L181.7,195.9 L182.0,195.8 L182.4,195.7 L182.7,195.7 L183.0,195.7 L183.3,195.7 L183.6,195.8 L183.9,195.8 L184.3,195.9 L184.6,196.1 L184.9,196.2 L185.2,196.4 L185.5,196.6 L185.8,196.8 L186.2,197.1 L186.5,197.4 L186.8,197.7 L187.1,198.1 L187.4,198.5 L187.7,198.9 L188.1,199.3 L188.4,199.8 L188.7,200.3 L189.0,200.9 L189.3,201.5 L189.6,202.1 L190.0,202.8 L190.3,203.5 L190.6,204.2 L190.9,204.9 L191.2,205.7 L191.5,206.5 L191.9,207.4 L192.2,208.2 L192.5,209.1 L192.8,210.1 L193.1,211.0 L193.4,212.0 L193.8,213.0 L194.1,214.1 L194.4,215.1 L194.7,216.2 L195.0,217.3 L195.3,218.5 L195.7,219.6 L196.0,220.8 L196.3,222.0 L196.6,223.2 L196.9,224.4 L197.2,225.6 L197.6,226.8 L197.9,228.1 L198.2,229.4 L198.5,230.6 L198.8,231.9 L199.1,233.2 L199.5,234.5 L199.8,235.8 L200.1,237.1 L200.4,238.4 L200.7,239.8 L201.0,241.1 L201.4,242.4 L201.7,243.7 L202.0,245.0 L202.3,246.3 L202.6,247.6 L202.9,248.9 L203.3,250.2 L203.6,251.5 L203.9,252.8 L204.2,254.1 L204.5,255.4 L204.8,256.7 L205.2,258.0 L205.5,259.2 L205.8,260.5 L206.1,261.7 L206.4,263.0 L206.8,264.2 L207.1,265.4 L207.4,266.6 L207.7,267.8 L208.0,269.0 L208.3,270.2 L208.7,271.4 L209.0,272.5 L209.3,273.7 L209.6,274.8 L209.9,275.9 L210.2,277.1 L210.6,278.2 L210.9,279.3 L211.2,280.4 L211.5,281.4 L211.8,282.5 L212.1,283.6 L212.5,284.6 L212.8,285.6 L213.1,286.7 L213.4,287.7 L213.7,288.7 L214.0,289.7 L214.4,290.7 L214.7,291.6 L215.0,292.6 L215.3,293.6 L215.6,294.5 L215.9,295.4 L216.3,296.4 L216.6,297.3 L216.9,298.2 L217.2,299.1 L217.5,299.9 L217.8,300.8 L218.2,301.7 L218.5,302.5 L218.8,303.4 L219.1,304.2 L219.4,305.0 L219.7,305.9 L220.1,306.7 L220.4,307.5 L220.7,308.2 L221.0,309.0 L221.3,309.8 L221.6,310.5 L222.0,311.3 L222.3,312.0 L222.6,312.7 L222.9,313.5 L223.2,314.2 L223.5,314.9 L223.9,315.6 L224.2,316.2 L224.5,316.9 L224.8,317.6 L225.1,318.2 L225.4,318.9 L225.8,319.5 L226.1,320.1 L226.4,320.7 L226.7,321.4 L227.0,321.9 L227.3,322.5 L227.7,323.1 L228.0,323.7 L228.3,324.2 L228.6,324.8 L228.9,325.3 L229.2,325.9 L229.6,326.4 L229.9,326.9 L230.2,327.4 L230.5,327.9 L230.8,328.4 L231.2,328.9 L231.5,329.4 L231.8,329.9 L232.1,330.3 L232.4,330.8 L232.7,331.2 L233.1,331.7 L233.4,332.1 L233.7,332.5 L234.0,332.9 L234.3,333.3 L234.6,333.7 L235.0,334.1 L235.3,334.5 L235.6,334.9 L235.9,335.3 L236.2,335.6 L236.5,336.0 L236.9,336.3 L237.2,336.7 L237.5,337.0 L237.8,337.4 L238.1,337.7 L238.4,338.0 L238.8,338.3 L239.1,338.6 L239.4,338.9 L239.7,339.2 L240.0,339.5 L240.3,339.7 L240.7,340.0 L241.0,340.3 L241.3,340.5 L241.6,340.7 L241.9,341.0 L242.2,341.2 L242.6,341.4 L242.9,341.6 L243.2,341.8 L243.5,342.0 L243.8,342.2 L244.1,342.4 L244.5,342.5 L244.8,342.7 L245.1,342.8 L245.4,342.9 L245.7,343.0 L246.0,343.1 L246.4,343.2 L246.7,343.3 L247.0,343.4 L247.3,343.4 L247.6,343.5 L247.9,343.5 L248.3,343.5 L248.6,343.5 L248.9,343.5 L249.2,343.4 L249.5,343.3 L249.8,343.3 L250.2,343.2 L250.5,343.1 L250.8,342.9 L251.1,342.8 L251.4,342.6 L251.7,342.4 L252.1,342.1 L252.4,341.9 L252.7,341.6 L253.0,341.3 L253.3,341.0 L253.6,340.6 L254.0,340.2 L254.3,339.8 L254.6,339.4 L254.9,338.9 L255.2,338.4 L255.6,337.8 L255.9,337.2 L256.2,336.6 L256.5,336.0 L256.8,335.3 L257.1,334.5 L257.5,333.8 L257.8,332.9 L258.1,332.1 L258.4,331.2 L258.7,330.2 L259.0,329.2 L259.4,328.2 L259.7,327.1 L260.0,325.9 L260.3,324.7 L260.6,323.5 L260.9,322.2 L261.3,320.8 L261.6,319.4 L261.9,317.9 L262.2,316.4 L262.5,314.8 L262.8,313.1 L263.2,311.4 L263.5,309.6 L263.8,307.7 L264.1,305.7 L264.4,303.7 L264.7,301.7 L265.1,299.5 L265.4,297.3 L265.7,295.0 L266.0,292.6 L266.3,290.2 L266.6,287.6 L267.0,285.0 L267.3,282.3 L267.6,279.6 L267.9,276.7 L268.2,273.8 L268.5,270.8 L268.9,267.7 L269.2,264.5 L269.5,261.2 L269.8,257.9 L270.1,254.4 L270.4,250.9 L270.8,247.3 L271.1,243.7 L271.4,239.9 L271.7,236.1 L272.0,232.2 L272.3,228.2 L272.7,224.1 L273.0,220.0 L273.3,215.7 L273.6,211.4 L273.9,207.1 L274.2,202.7 L274.6,198.2 L274.9,193.6 L275.2,189.0 L275.5,184.3 L275.8,179.6 L276.1,174.8 L276.5,169.9 L276.8,165.0 L277.1,160.1 L277.4,155.1 L277.7,150.1 L278.0,145.1 L278.4,140.0 L278.7,134.9 L279.0,129.7" stroke-width="2.55"/>
<path d="M57.5,456.8 L57.8,456.8 L58.1,456.8 L58.5,456.8 L58.8,456.7 L59.1,456.7 L59.4,456.7 L59.7,456.7 L60.0,456.7 L60.4,456.7 L60.7,456.6 L61.0,456.6 L61.3,456.6 L61.6,456.6 L61.9,456.6 L62.3,456.5 L62.6,456.5 L62.9,456.5 L63.2,456.5 L63.5,456.4 L63.8,456.4 L64.2,456.4 L64.5,456.3 L64.8,456.3 L65.1,456.3 L65.4,456.2 L65.7,456.2 L66.1,456.2 L66.4,456.1 L66.7,456.1 L67.0,456.1 L67.3,456.0 L67.6,456.0 L68.0,455.9 L68.3,455.9 L68.6,455.8 L68.9,455.8 L69.2,455.7 L69.5,455.7 L69.9,455.6 L70.2,455.6 L70.5,455.5 L70.8,455.4 L71.1,455.4 L71.4,455.3 L71.8,455.2 L72.1,455.2 L72.4,455.1 L72.7,455.0 L73.0,454.9 L73.3,454.8 L73.7,454.8 L74.0,454.7 L74.3,454.6 L74.6,454.5 L74.9,454.4 L75.2,454.3 L75.6,454.2 L75.9,454.1 L76.2,454.0 L76.5,453.8 L76.8,453.7 L77.1,453.6 L77.5,453.5 L77.8,453.3 L78.1,453.2 L78.4,453.1 L78.7,452.9 L79.0,452.8 L79.4,452.6 L79.7,452.5 L80.0,452.3 L80.3,452.1 L80.6,452.0 L80.9,451.8 L81.3,451.6 L81.6,451.4 L81.9,451.2 L82.2,451.0 L82.5,450.8 L82.9,450.6 L83.2,450.4 L83.5,450.2 L83.8,449.9 L84.1,449.7 L84.4,449.5 L84.8,449.2 L85.1,449.0 L85.4,448.7 L85.7,448.5 L86.0,448.2 L86.3,447.9 L86.7,447.6 L87.0,447.3 L87.3,447.0 L87.6,446.7 L87.9,446.4 L88.2,446.1 L88.6,445.8 L88.9,445.5 L89.2,445.1 L89.5,444.8 L89.8,444.4 L90.1,444.1 L90.5,443.7 L90.8,443.3 L91.1,442.9 L91.4,442.6 L91.7,442.2 L92.0,441.8 L92.4,441.4 L92.7,440.9 L93.0,440.5 L93.3,440.1 L93.6,439.6 L93.9,439.2 L94.3,438.7 L94.6,438.3 L94.9,437.8 L95.2,437.3 L95.5,436.9 L95.8,436.4 L96.2,435.9 L96.5,435.4 L96.8,434.9 L97.1,434.3 L97.4,433.8 L97.7,433.3 L98.1,432.7 L98.4,432.2 L98.7,431.6 L99.0,431.0 L99.3,430.5 L99.6,429.9 L100.0,429.3 L100.3,428.7 L100.6,428.1 L100.9,427.5 L101.2,426.9 L101.5,426.2 L101.9,425.6 L102.2,424.9 L102.5,424.3 L102.8,423.6 L103.1,423.0 L103.4,422.3 L103.8,421.6 L104.1,420.9 L104.4,420.2 L104.7,419.5 L105.0,418.8 L105.3,418.1 L105.7,417.4 L106.0,416.7 L106.3,416.0 L106.6,415.2 L106.9,414.5 L107.3,413.7 L107.6,413.0 L107.9,412.2 L108.2,411.5 L108.5,410.7 L108.8,409.9 L109.2,409.2 L109.5,408.4 L109.8,407.6 L110.1,406.8 L110.4,406.0 L110.7,405.2 L111.1,404.4 L111.4,403.6 L111.7,402.8 L112.0,402.0 L112.3,401.2 L112.6,400.4 L113.0,399.6 L113.3,398.8 L113.6,398.0 L113.9,397.1 L114.2,396.3 L114.5,395.5 L114.9,394.7 L115.2,393.9 L115.5,393.0 L115.8,392.2 L116.1,391.4 L116.4,390.6 L116.8,389.7 L117.1,388.9 L117.4,388.0 L117.7,387.2 L118.0,386.4 L118.3,385.5 L118.7,384.7 L119.0,383.8 L119.3,383.0 L119.6,382.1 L119.9,381.3 L120.2,380.4 L120.6,379.6 L120.9,378.7 L121.2,377.8 L121.5,377.0 L121.8,376.1 L122.1,375.2 L122.5,374.3 L122.8,373.5 L123.1,372.6 L123.4,371.7 L123.7,370.8 L124.0,369.9 L124.4,369.0 L124.7,368.0 L125.0,367.1 L125.3,366.2 L125.6,365.3 L125.9,364.3 L126.3,363.4 L126.6,362.4 L126.9,361.5 L127.2,360.5 L127.5,359.6 L127.8,358.6 L128.2,357.6 L128.5,356.6 L128.8,355.7 L129.1,354.7 L129.4,353.7 L129.7,352.7 L130.1,351.7 L130.4,350.6 L130.7,349.6 L131.0,348.6 L131.3,347.6 L131.7,346.6 L132.0,345.5 L132.3,344.5 L132.6,343.4 L132.9,342.4 L133.2,341.4 L133.6,340.3 L133.9,339.3 L134.2,338.2 L134.5,337.2 L134.8,336.1 L135.1,335.1 L135.5,334.0 L135.8,333.0 L136.1,331.9 L136.4,330.9 L136.7,329.9 L137.0,328.8 L137.4,327.8 L137.7,326.8 L138.0,325.7 L138.3,324.7 L138.6,323.7 L138.9,322.6 L139.3,321.6 L139.6,320.6 L139.9,319.6 L140.2,318.6 L140.5,317.6 L140.8,316.6 L141.2,315.6 L141.5,314.7 L141.8,313.7 L142.1,312.7 L142.4,311.7 L142.7,310.8 L143.1,309.8 L143.4,308.9 L143.7,307.9 L144.0,307.0 L144.3,306.0 L144.6,305.1 L145.0,304.1 L145.3,303.2 L145.6,302.3 L145.9,301.4 L146.2,300.4 L146.5,299.5 L146.9,298.6 L147.2,297.7 L147.5,296.7 L147.8,295.8 L148.1,294.9 L148.4,294.0 L148.8,293.1 L149.1,292.1 L149.4,291.2 L149.7,290.3 L150.0,289.3 L150.3,288.4 L150.7,287.5 L151.0,286.5 L151.3,285.6 L151.6,284.6 L151.9,283.7 L152.2,282.7 L152.6,281.8 L152.9,280.8 L153.2,279.8 L153.5,278.9 L153.8,277.9 L154.1,276.9 L154.5,275.9 L154.8,274.9 L155.1,273.9 L155.4,272.9 L155.7,271.9 L156.1,270.9 L156.4,269.8 L156.7,268.8 L157.0,267.8 L157.3,266.7 L157.6,265.7 L158.0,264.7 L158.3,263.6 L158.6,262.6 L158.9,261.5 L159.2,260.5 L159.5,259.5 L159.9,258.4 L160.2,257.4 L160.5,256.3 L160.8,255.3 L161.1,254.2 L161.4,253.2 L161.8,252.2 L162.1,251.2 L162.4,250.1 L162.7,249.1 L163.0,248.1 L163.3,247.1 L163.7,246.1 L164.0,245.1 L164.3,244.2 L164.6,243.2 L164.9,242.2 L165.2,241.3 L165.6,240.3 L165.9,239.4 L166.2,238.5 L166.5,237.6 L166.8,236.7 L167.1,235.9 L167.5,235.0 L167.8,234.2 L168.1,233.3 L168.4,232.5 L168.7,231.7 L169.0,231.0 L169.4,230.2 L169.7,229.5 L170.0,228.7 L170.3,228.0 L170.6,227.3 L170.9,226.7 L171.3,226.0 L171.6,225.4 L171.9,224.7 L172.2,224.1 L172.5,223.5 L172.8,223.0 L173.2,222.4 L173.5,221.9 L173.8,221.4 L174.1,220.9 L174.4,220.4 L174.7,219.9 L175.1,219.5 L175.4,219.0 L175.7,218.6 L176.0,218.2 L176.3,217.9 L176.6,217.5 L177.0,217.2 L177.3,216.9 L177.6,216.6 L177.9,216.3 L178.2,216.0 L178.5,215.8 L178.9,215.5 L179.2,215.3 L179.5,215.1 L179.8,215.0 L180.1,214.8 L180.4,214.7 L180.8,214.6 L181.1,214.5 L181.4,214.4 L181.7,214.4 L182.0,214.4 L182.4,214.4 L182.7,214.4 L183.0,214.4 L183.3,214.5 L183.6,214.6 L183.9,214.7 L184.3,214.8 L184.6,215.0 L184.9,215.2 L185.2,215.4 L185.5,215.6 L185.8,215.9 L186.2,216.2 L186.5,216.5 L186.8,216.8 L187.1,217.2 L187.4,217.6 L187.7,218.0 L188.1,218.5 L188.4,218.9 L188.7,219.4 L189.0,220.0 L189.3,220.5 L189.6,221.1 L190.0,221.7 L190.3,222.3 L190.6,223.0 L190.9,223.7 L191.2,224.4 L191.5,225.1 L191.9,225.9 L192.2,226.7 L192.5,227.5 L192.8,228.3 L193.1,229.1 L193.4,230.0 L193.8,230.9 L194.1,231.8 L194.4,232.7 L194.7,233.7 L195.0,234.7 L195.3,235.6 L195.7,236.7 L196.0,237.7 L196.3,238.7 L196.6,239.8 L196.9,240.8 L197.2,241.9 L197.6,243.0 L197.9,244.1 L198.2,245.2 L198.5,246.3 L198.8,247.5 L199.1,248.6 L199.5,249.8 L199.8,250.9 L200.1,252.1 L200.4,253.2 L200.7,254.4 L201.0,255.6 L201.4,256.8 L201.7,258.0 L202.0,259.1 L202.3,260.3 L202.6,261.5 L202.9,262.7 L203.3,263.9 L203.6,265.1 L203.9,266.3 L204.2,267.4 L204.5,268.6 L204.8,269.8 L205.2,271.0 L205.5,272.1 L205.8,273.3 L206.1,274.5 L206.4,275.6 L206.8,276.8 L207.1,277.9 L207.4,279.0 L207.7,280.2 L208.0,281.3 L208.3,282.4 L208.7,283.5 L209.0,284.6 L209.3,285.7 L209.6,286.8 L209.9,287.9 L210.2,289.0 L210.6,290.0 L210.9,291.1 L211.2,292.1 L211.5,293.2 L211.8,294.2 L212.1,295.2 L212.5,296.3 L212.8,297.3 L213.1,298.3 L213.4,299.3 L213.7,300.2 L214.0,301.2 L214.4,302.2 L214.7,303.1 L215.0,304.1 L215.3,305.0 L215.6,305.9 L215.9,306.8 L216.3,307.7 L216.6,308.6 L216.9,309.5 L217.2,310.4 L217.5,311.3 L217.8,312.1 L218.2,313.0 L218.5,313.8 L218.8,314.7 L219.1,315.5 L219.4,316.3 L219.7,317.1 L220.1,317.9 L220.4,318.7 L220.7,319.5 L221.0,320.2 L221.3,321.0 L221.6,321.7 L222.0,322.5 L222.3,323.2 L222.6,323.9 L222.9,324.7 L223.2,325.4 L223.5,326.1 L223.9,326.7 L224.2,327.4 L224.5,328.1 L224.8,328.7 L225.1,329.4 L225.4,330.0 L225.8,330.7 L226.1,331.3 L226.4,331.9 L226.7,332.5 L227.0,333.1 L227.3,333.7 L227.7,334.2 L228.0,334.8 L228.3,335.4 L228.6,335.9 L228.9,336.5 L229.2,337.0 L229.6,337.5 L229.9,338.0 L230.2,338.5 L230.5,339.0 L230.8,339.5 L231.2,340.0 L231.5,340.5 L231.8,340.9 L232.1,341.4 L232.4,341.8 L232.7,342.3 L233.1,342.7 L233.4,343.1 L233.7,343.5 L234.0,343.9 L234.3,344.3 L234.6,344.7 L235.0,345.1 L235.3,345.4 L235.6,345.8 L235.9,346.1 L236.2,346.5 L236.5,346.8 L236.9,347.1 L237.2,347.4 L237.5,347.8 L237.8,348.1 L238.1,348.3 L238.4,348.6 L238.8,348.9 L239.1,349.1 L239.4,349.4 L239.7,349.6 L240.0,349.9 L240.3,350.1 L240.7,350.3 L241.0,350.5 L241.3,350.7 L241.6,350.9 L241.9,351.0 L242.2,351.2 L242.6,351.3 L242.9,351.5 L243.2,351.6 L243.5,351.7 L243.8,351.8 L244.1,351.9 L244.5,351.9 L244.8,352.0 L245.1,352.0 L245.4,352.1 L245.7,352.1 L246.0,352.1 L246.4,352.1 L246.7,352.0 L247.0,352.0 L247.3,351.9 L247.6,351.8 L247.9,351.7 L248.3,351.6 L248.6,351.5 L248.9,351.3 L249.2,351.1 L249.5,350.9 L249.8,350.7 L250.2,350.5 L250.5,350.2 L250.8,349.9 L251.1,349.6 L251.4,349.2 L251.7,348.9 L252.1,348.5 L252.4,348.1 L252.7,347.6 L253.0,347.2 L253.3,346.7 L253.6,346.1 L254.0,345.6 L254.3,345.0 L254.6,344.3 L254.9,343.7 L255.2,343.0 L255.6,342.2 L255.9,341.5 L256.2,340.7 L256.5,339.8 L256.8,338.9 L257.1,338.0 L257.5,337.0 L257.8,336.0 L258.1,335.0 L258.4,333.9 L258.7,332.7 L259.0,331.6 L259.4,330.3 L259.7,329.0 L260.0,327.7 L260.3,326.3 L260.6,324.9 L260.9,323.4 L261.3,321.9 L261.6,320.3 L261.9,318.6 L262.2,316.9 L262.5,315.2 L262.8,313.4 L263.2,311.5 L263.5,309.6 L263.8,307.6 L264.1,305.5 L264.4,303.4 L264.7,301.2 L265.1,299.0 L265.4,296.7 L265.7,294.3 L266.0,291.8 L266.3,289.3 L266.6,286.8 L267.0,284.1 L267.3,281.4 L267.6,278.6 L267.9,275.8 L268.2,272.9 L268.5,269.9 L268.9,266.9 L269.2,263.8 L269.5,260.6 L269.8,257.3 L270.1,254.0 L270.4,250.7 L270.8,247.2 L271.1,243.7 L271.4,240.1 L271.7,236.5 L272.0,232.8 L272.3,229.0 L272.7,225.2 L273.0,221.3 L273.3,217.4 L273.6,213.4 L273.9,209.3 L274.2,205.2 L274.6,201.1 L274.9,196.9 L275.2,192.6 L275.5,188.3 L275.8,184.0 L276.1,179.6 L276.5,175.1 L276.8,170.7 L277.1,166.1 L277.4,161.6 L277.7,157.0 L278.0,152.4 L278.4,147.8 L278.7,143.1 L279.0,138.5" stroke-width="2.55"/>
<path d="M57.5,470.0 L57.8,470.0 L58.1,469.9 L58.5,469.9 L58.8,469.9 L59.1,469.9 L59.4,469.8 L59.7,469.8 L60.0,469.8 L60.4,469.8 L60.7,469.7 L61.0,469.7 L61.3,469.7 L61.6,469.6 L61.9,469.6 L62.3,469.6 L62.6,469.5 L62.9,469.5 L63.2,469.5 L63.5,469.4 L63.8,469.4 L64.2,469.3 L64.5,469.3 L64.8,469.3 L65.1,469.2 L65.4,469.2 L65.7,469.1 L66.1,469.1 L66.4,469.0 L66.7,469.0 L67.0,468.9 L67.3,468.9 L67.6,468.8 L68.0,468.7 L68.3,468.7 L68.6,468.6 L68.9,468.6 L69.2,468.5 L69.5,468.4 L69.9,468.3 L70.2,468.3 L70.5,468.2 L70.8,468.1 L71.1,468.0 L71.4,467.9 L71.8,467.9 L72.1,467.8 L72.4,467.7 L72.7,467.6 L73.0,467.5 L73.3,467.4 L73.7,467.3 L74.0,467.2 L74.3,467.1 L74.6,466.9 L74.9,466.8 L75.2,466.7 L75.6,466.6 L75.9,466.5 L76.2,466.3 L76.5,466.2 L76.8,466.0 L77.1,465.9 L77.5,465.8 L77.8,465.6 L78.1,465.5 L78.4,465.3 L78.7,465.1 L79.0,465.0 L79.4,464.8 L79.7,464.6 L80.0,464.4 L80.3,464.2 L80.6,464.1 L80.9,463.9 L81.3,463.7 L81.6,463.5 L81.9,463.2 L82.2,463.0 L82.5,462.8 L82.9,462.6 L83.2,462.3 L83.5,462.1 L83.8,461.9 L84.1,461.6 L84.4,461.4 L84.8,461.1 L85.1,460.8 L85.4,460.6 L85.7,460.3 L86.0,460.0 L86.3,459.7 L86.7,459.4 L87.0,459.1 L87.3,458.8 L87.6,458.5 L87.9,458.2 L88.2,457.8 L88.6,457.5 L88.9,457.2 L89.2,456.8 L89.5,456.5 L89.8,456.1 L90.1,455.7 L90.5,455.4 L90.8,455.0 L91.1,454.6 L91.4,454.2 L91.7,453.8 L92.0,453.4 L92.4,453.0 L92.7,452.6 L93.0,452.1 L93.3,451.7 L93.6,451.3 L93.9,450.8 L94.3,450.4 L94.6,449.9 L94.9,449.4 L95.2,448.9 L95.5,448.5 L95.8,448.0 L96.2,447.5 L96.5,447.0 L96.8,446.5 L97.1,445.9 L97.4,445.4 L97.7,444.9 L98.1,444.3 L98.4,443.8 L98.7,443.2 L99.0,442.7 L99.3,442.1 L99.6,441.5 L100.0,440.9 L100.3,440.4 L100.6,439.8 L100.9,439.2 L101.2,438.6 L101.5,437.9 L101.9,437.3 L102.2,436.7 L102.5,436.0 L102.8,435.4 L103.1,434.8 L103.4,434.1 L103.8,433.4 L104.1,432.8 L104.4,432.1 L104.7,431.4 L105.0,430.7 L105.3,430.0 L105.7,429.3 L106.0,428.6 L106.3,427.9 L106.6,427.2 L106.9,426.5 L107.3,425.8 L107.6,425.1 L107.9,424.3 L108.2,423.6 L108.5,422.8 L108.8,422.1 L109.2,421.3 L109.5,420.6 L109.8,419.8 L110.1,419.1 L110.4,418.3 L110.7,417.5 L111.1,416.7 L111.4,416.0 L111.7,415.2 L112.0,414.4 L112.3,413.6 L112.6,412.8 L113.0,412.0 L113.3,411.2 L113.6,410.4 L113.9,409.6 L114.2,408.8 L114.5,408.0 L114.9,407.2 L115.2,406.4 L115.5,405.6 L115.8,404.7 L116.1,403.9 L116.4,403.1 L116.8,402.3 L117.1,401.4 L117.4,400.6 L117.7,399.8 L118.0,398.9 L118.3,398.1 L118.7,397.2 L119.0,396.4 L119.3,395.5 L119.6,394.7 L119.9,393.8 L120.2,392.9 L120.6,392.1 L120.9,391.2 L121.2,390.3 L121.5,389.5 L121.8,388.6 L122.1,387.7 L122.5,386.8 L122.8,385.9 L123.1,385.0 L123.4,384.1 L123.7,383.2 L124.0,382.3 L124.4,381.4 L124.7,380.5 L125.0,379.6 L125.3,378.7 L125.6,377.8 L125.9,376.8 L126.3,375.9 L126.6,375.0 L126.9,374.0 L127.2,373.1 L127.5,372.1 L127.8,371.2 L128.2,370.2 L128.5,369.3 L128.8,368.3 L129.1,367.3 L129.4,366.3 L129.7,365.4 L130.1,364.4 L130.4,363.4 L130.7,362.4 L131.0,361.4 L131.3,360.4 L131.7,359.5 L132.0,358.5 L132.3,357.5 L132.6,356.5 L132.9,355.5 L133.2,354.5 L133.6,353.5 L133.9,352.5 L134.2,351.4 L134.5,350.4 L134.8,349.4 L135.1,348.4 L135.5,347.4 L135.8,346.4 L136.1,345.4 L136.4,344.4 L136.7,343.4 L137.0,342.4 L137.4,341.4 L137.7,340.4 L138.0,339.4 L138.3,338.4 L138.6,337.4 L138.9,336.4 L139.3,335.4 L139.6,334.4 L139.9,333.4 L140.2,332.4 L140.5,331.5 L140.8,330.5 L141.2,329.5 L141.5,328.5 L141.8,327.5 L142.1,326.6 L142.4,325.6 L142.7,324.6 L143.1,323.7 L143.4,322.7 L143.7,321.8 L144.0,320.8 L144.3,319.9 L144.6,318.9 L145.0,317.9 L145.3,317.0 L145.6,316.1 L145.9,315.1 L146.2,314.2 L146.5,313.2 L146.9,312.3 L147.2,311.3 L147.5,310.4 L147.8,309.5 L148.1,308.5 L148.4,307.6 L148.8,306.6 L149.1,305.7 L149.4,304.8 L149.7,303.8 L150.0,302.9 L150.3,301.9 L150.7,301.0 L151.0,300.0 L151.3,299.1 L151.6,298.1 L151.9,297.2 L152.2,296.2 L152.6,295.3 L152.9,294.3 L153.2,293.4 L153.5,292.4 L153.8,291.4 L154.1,290.5 L154.5,289.5 L154.8,288.6 L155.1,287.6 L155.4,286.6 L155.7,285.7 L156.1,284.7 L156.4,283.7 L156.7,282.7 L157.0,281.8 L157.3,280.8 L157.6,279.8 L158.0,278.8 L158.3,277.9 L158.6,276.9 L158.9,275.9 L159.2,275.0 L159.5,274.0 L159.9,273.0 L160.2,272.1 L160.5,271.1 L160.8,270.2 L161.1,269.2 L161.4,268.3 L161.8,267.3 L162.1,266.4 L162.4,265.5 L162.7,264.5 L163.0,263.6 L163.3,262.7 L163.7,261.8 L164.0,260.9 L164.3,260.0 L164.6,259.2 L164.9,258.3 L165.2,257.4 L165.6,256.6 L165.9,255.8 L166.2,254.9 L166.5,254.1 L166.8,253.3 L167.1,252.5 L167.5,251.7 L167.8,251.0 L168.1,250.2 L168.4,249.5 L168.7,248.8 L169.0,248.1 L169.4,247.4 L169.7,246.7 L170.0,246.0 L170.3,245.4 L170.6,244.7 L170.9,244.1 L171.3,243.5 L171.6,242.9 L171.9,242.3 L172.2,241.8 L172.5,241.2 L172.8,240.7 L173.2,240.2 L173.5,239.7 L173.8,239.2 L174.1,238.7 L174.4,238.3 L174.7,237.9 L175.1,237.5 L175.4,237.1 L175.7,236.7 L176.0,236.3 L176.3,236.0 L176.6,235.7 L177.0,235.4 L177.3,235.1 L177.6,234.8 L177.9,234.6 L178.2,234.4 L178.5,234.1 L178.9,234.0 L179.2,233.8 L179.5,233.6 L179.8,233.5 L180.1,233.4 L180.4,233.3 L180.8,233.2 L181.1,233.1 L181.4,233.1 L181.7,233.1 L182.0,233.1 L182.4,233.1 L182.7,233.2 L183.0,233.2 L183.3,233.3 L183.6,233.4 L183.9,233.6 L184.3,233.7 L184.6,233.9 L184.9,234.1 L185.2,234.3 L185.5,234.6 L185.8,234.8 L186.2,235.1 L186.5,235.4 L186.8,235.7 L187.1,236.1 L187.4,236.5 L187.7,236.9 L188.1,237.3 L188.4,237.7 L188.7,238.2 L189.0,238.7 L189.3,239.2 L189.6,239.7 L190.0,240.3 L190.3,240.9 L190.6,241.5 L190.9,242.1 L191.2,242.7 L191.5,243.4 L191.9,244.1 L192.2,244.8 L192.5,245.5 L192.8,246.2 L193.1,247.0 L193.4,247.7 L193.8,248.5 L194.1,249.3 L194.4,250.2 L194.7,251.0 L195.0,251.9 L195.3,252.7 L195.7,253.6 L196.0,254.5 L196.3,255.5 L196.6,256.4 L196.9,257.3 L197.2,258.3 L197.6,259.3 L197.9,260.2 L198.2,261.2 L198.5,262.2 L198.8,263.2 L199.1,264.2 L199.5,265.3 L199.8,266.3 L200.1,267.3 L200.4,268.4 L200.7,269.4 L201.0,270.5 L201.4,271.5 L201.7,272.6 L202.0,273.7 L202.3,274.7 L202.6,275.8 L202.9,276.9 L203.3,278.0 L203.6,279.0 L203.9,280.1 L204.2,281.2 L204.5,282.3 L204.8,283.3 L205.2,284.4 L205.5,285.5 L205.8,286.6 L206.1,287.6 L206.4,288.7 L206.8,289.8 L207.1,290.8 L207.4,291.9 L207.7,292.9 L208.0,294.0 L208.3,295.0 L208.7,296.1 L209.0,297.1 L209.3,298.1 L209.6,299.2 L209.9,300.2 L210.2,301.2 L210.6,302.2 L210.9,303.2 L211.2,304.2 L211.5,305.2 L211.8,306.2 L212.1,307.2 L212.5,308.1 L212.8,309.1 L213.1,310.0 L213.4,311.0 L213.7,311.9 L214.0,312.9 L214.4,313.8 L214.7,314.7 L215.0,315.6 L215.3,316.5 L215.6,317.4 L215.9,318.3 L216.3,319.2 L216.6,320.0 L216.9,320.9 L217.2,321.8 L217.5,322.6 L217.8,323.4 L218.2,324.3 L218.5,325.1 L218.8,325.9 L219.1,326.7 L219.4,327.5 L219.7,328.3 L220.1,329.0 L220.4,329.8 L220.7,330.6 L221.0,331.3 L221.3,332.1 L221.6,332.8 L222.0,333.5 L222.3,334.2 L222.6,334.9 L222.9,335.6 L223.2,336.3 L223.5,337.0 L223.9,337.7 L224.2,338.3 L224.5,339.0 L224.8,339.6 L225.1,340.2 L225.4,340.9 L225.8,341.5 L226.1,342.1 L226.4,342.7 L226.7,343.3 L227.0,343.8 L227.3,344.4 L227.7,345.0 L228.0,345.5 L228.3,346.1 L228.6,346.6 L228.9,347.1 L229.2,347.6 L229.6,348.1 L229.9,348.6 L230.2,349.1 L230.5,349.6 L230.8,350.1 L231.2,350.5 L231.5,351.0 L231.8,351.4 L232.1,351.8 L232.4,352.2 L232.7,352.7 L233.1,353.1 L233.4,353.4 L233.7,353.8 L234.0,354.2 L234.3,354.6 L234.6,354.9 L235.0,355.3 L235.3,355.6 L235.6,355.9 L235.9,356.2 L236.2,356.5 L236.5,356.8 L236.9,357.1 L237.2,357.4 L237.5,357.6 L237.8,357.9 L238.1,358.1 L238.4,358.3 L238.8,358.5 L239.1,358.7 L239.4,358.9 L239.7,359.1 L240.0,359.3 L240.3,359.4 L240.7,359.6 L241.0,359.7 L241.3,359.8 L241.6,359.9 L241.9,360.0 L242.2,360.1 L242.6,360.2 L242.9,360.2 L243.2,360.3 L243.5,360.3 L243.8,360.3 L244.1,360.3 L244.5,360.2 L244.8,360.2 L245.1,360.1 L245.4,360.1 L245.7,360.0 L246.0,359.9 L246.4,359.7 L246.7,359.6 L247.0,359.4 L247.3,359.2 L247.6,359.0 L247.9,358.8 L248.3,358.6 L248.6,358.3 L248.9,358.0 L249.2,357.7 L249.5,357.4 L249.8,357.0 L250.2,356.6 L250.5,356.2 L250.8,355.8 L251.1,355.3 L251.4,354.8 L251.7,354.3 L252.1,353.8 L252.4,353.2 L252.7,352.6 L253.0,352.0 L253.3,351.3 L253.6,350.7 L254.0,349.9 L254.3,349.2 L254.6,348.4 L254.9,347.6 L255.2,346.7 L255.6,345.8 L255.9,344.9 L256.2,343.9 L256.5,342.9 L256.8,341.9 L257.1,340.8 L257.5,339.7 L257.8,338.5 L258.1,337.3 L258.4,336.1 L258.7,334.8 L259.0,333.5 L259.4,332.1 L259.7,330.7 L260.0,329.2 L260.3,327.7 L260.6,326.2 L260.9,324.6 L261.3,322.9 L261.6,321.2 L261.9,319.4 L262.2,317.6 L262.5,315.8 L262.8,313.9 L263.2,311.9 L263.5,309.9 L263.8,307.8 L264.1,305.7 L264.4,303.5 L264.7,301.3 L265.1,299.0 L265.4,296.7 L265.7,294.3 L266.0,291.8 L266.3,289.3 L266.6,286.8 L267.0,284.1 L267.3,281.5 L267.6,278.7 L267.9,275.9 L268.2,273.1 L268.5,270.2 L268.9,267.2 L269.2,264.2 L269.5,261.1 L269.8,258.0 L270.1,254.8 L270.4,251.6 L270.8,248.3 L271.1,244.9 L271.4,241.6 L271.7,238.1 L272.0,234.6 L272.3,231.1 L272.7,227.5 L273.0,223.8 L273.3,220.1 L273.6,216.4 L273.9,212.6 L274.2,208.8 L274.6,204.9 L274.9,201.0 L275.2,197.0 L275.5,193.0 L275.8,189.0 L276.1,185.0 L276.5,180.9 L276.8,176.7 L277.1,172.6 L277.4,168.4 L277.7,164.2 L278.0,159.9 L278.4,155.7 L278.7,151.4 L279.0,147.1" stroke-width="2.55"/>
<path d="M57.5,483.1 L57.8,483.0 L58.1,483.0 L58.5,483.0 L58.8,482.9 L59.1,482.9 L59.4,482.9 L59.7,482.8 L60.0,482.8 L60.4,482.8 L60.7,482.7 L61.0,482.7 L61.3,482.6 L61.6,482.6 L61.9,482.6 L62.3,482.5 L62.6,482.5 L62.9,482.4 L63.2,482.4 L63.5,482.3 L63.8,482.3 L64.2,482.2 L64.5,482.2 L64.8,482.1 L65.1,482.0 L65.4,482.0 L65.7,481.9 L66.1,481.9 L66.4,481.8 L66.7,481.7 L67.0,481.7 L67.3,481.6 L67.6,481.5 L68.0,481.4 L68.3,481.4 L68.6,481.3 L68.9,481.2 L69.2,481.1 L69.5,481.0 L69.9,480.9 L70.2,480.9 L70.5,480.8 L70.8,480.7 L71.1,480.6 L71.4,480.5 L71.8,480.4 L72.1,480.3 L72.4,480.1 L72.7,480.0 L73.0,479.9 L73.3,479.8 L73.7,479.7 L74.0,479.6 L74.3,479.4 L74.6,479.3 L74.9,479.2 L75.2,479.0 L75.6,478.9 L75.9,478.7 L76.2,478.6 L76.5,478.4 L76.8,478.3 L77.1,478.1 L77.5,477.9 L77.8,477.8 L78.1,477.6 L78.4,477.4 L78.7,477.2 L79.0,477.1 L79.4,476.9 L79.7,476.7 L80.0,476.5 L80.3,476.3 L80.6,476.1 L80.9,475.9 L81.3,475.6 L81.6,475.4 L81.9,475.2 L82.2,475.0 L82.5,474.7 L82.9,474.5 L83.2,474.2 L83.5,474.0 L83.8,473.7 L84.1,473.4 L84.4,473.2 L84.8,472.9 L85.1,472.6 L85.4,472.3 L85.7,472.0 L86.0,471.8 L86.3,471.4 L86.7,471.1 L87.0,470.8 L87.3,470.5 L87.6,470.2 L87.9,469.8 L88.2,469.5 L88.6,469.2 L88.9,468.8 L89.2,468.5 L89.5,468.1 L89.8,467.7 L90.1,467.4 L90.5,467.0 L90.8,466.6 L91.1,466.2 L91.4,465.8 L91.7,465.4 L92.0,465.0 L92.4,464.6 L92.7,464.1 L93.0,463.7 L93.3,463.3 L93.6,462.8 L93.9,462.4 L94.3,461.9 L94.6,461.4 L94.9,461.0 L95.2,460.5 L95.5,460.0 L95.8,459.5 L96.2,459.0 L96.5,458.5 L96.8,458.0 L97.1,457.5 L97.4,457.0 L97.7,456.4 L98.1,455.9 L98.4,455.4 L98.7,454.8 L99.0,454.3 L99.3,453.7 L99.6,453.1 L100.0,452.6 L100.3,452.0 L100.6,451.4 L100.9,450.8 L101.2,450.2 L101.5,449.6 L101.9,449.0 L102.2,448.4 L102.5,447.7 L102.8,447.1 L103.1,446.5 L103.4,445.8 L103.8,445.2 L104.1,444.5 L104.4,443.9 L104.7,443.2 L105.0,442.6 L105.3,441.9 L105.7,441.2 L106.0,440.5 L106.3,439.8 L106.6,439.1 L106.9,438.4 L107.3,437.7 L107.6,437.0 L107.9,436.3 L108.2,435.6 L108.5,434.9 L108.8,434.1 L109.2,433.4 L109.5,432.7 L109.8,431.9 L110.1,431.2 L110.4,430.4 L110.7,429.7 L111.1,428.9 L111.4,428.1 L111.7,427.4 L112.0,426.6 L112.3,425.8 L112.6,425.1 L113.0,424.3 L113.3,423.5 L113.6,422.7 L113.9,421.9 L114.2,421.1 L114.5,420.3 L114.9,419.5 L115.2,418.7 L115.5,417.9 L115.8,417.1 L116.1,416.3 L116.4,415.5 L116.8,414.6 L117.1,413.8 L117.4,413.0 L117.7,412.1 L118.0,411.3 L118.3,410.5 L118.7,409.6 L119.0,408.8 L119.3,407.9 L119.6,407.1 L119.9,406.2 L120.2,405.4 L120.6,404.5 L120.9,403.7 L121.2,402.8 L121.5,401.9 L121.8,401.1 L122.1,400.2 L122.5,399.3 L122.8,398.4 L123.1,397.5 L123.4,396.6 L123.7,395.8 L124.0,394.9 L124.4,394.0 L124.7,393.1 L125.0,392.1 L125.3,391.2 L125.6,390.3 L125.9,389.4 L126.3,388.5 L126.6,387.6 L126.9,386.6 L127.2,385.7 L127.5,384.8 L127.8,383.8 L128.2,382.9 L128.5,382.0 L128.8,381.0 L129.1,380.1 L129.4,379.1 L129.7,378.2 L130.1,377.2 L130.4,376.3 L130.7,375.3 L131.0,374.3 L131.3,373.4 L131.7,372.4 L132.0,371.5 L132.3,370.5 L132.6,369.5 L132.9,368.5 L133.2,367.6 L133.6,366.6 L133.9,365.6 L134.2,364.6 L134.5,363.7 L134.8,362.7 L135.1,361.7 L135.5,360.7 L135.8,359.8 L136.1,358.8 L136.4,357.8 L136.7,356.8 L137.0,355.9 L137.4,354.9 L137.7,353.9 L138.0,352.9 L138.3,351.9 L138.6,351.0 L138.9,350.0 L139.3,349.0 L139.6,348.1 L139.9,347.1 L140.2,346.1 L140.5,345.2 L140.8,344.2 L141.2,343.2 L141.5,342.3 L141.8,341.3 L142.1,340.3 L142.4,339.4 L142.7,338.4 L143.1,337.5 L143.4,336.5 L143.7,335.6 L144.0,334.6 L144.3,333.7 L144.6,332.7 L145.0,331.8 L145.3,330.8 L145.6,329.9 L145.9,328.9 L146.2,328.0 L146.5,327.1 L146.9,326.1 L147.2,325.2 L147.5,324.2 L147.8,323.3 L148.1,322.4 L148.4,321.4 L148.8,320.5 L149.1,319.6 L149.4,318.6 L149.7,317.7 L150.0,316.7 L150.3,315.8 L150.7,314.9 L151.0,313.9 L151.3,313.0 L151.6,312.1 L151.9,311.1 L152.2,310.2 L152.6,309.3 L152.9,308.3 L153.2,307.4 L153.5,306.5 L153.8,305.5 L154.1,304.6 L154.5,303.7 L154.8,302.8 L155.1,301.8 L155.4,300.9 L155.7,300.0 L156.1,299.0 L156.4,298.1 L156.7,297.2 L157.0,296.3 L157.3,295.4 L157.6,294.4 L158.0,293.5 L158.3,292.6 L158.6,291.7 L158.9,290.8 L159.2,289.9 L159.5,289.0 L159.9,288.1 L160.2,287.2 L160.5,286.3 L160.8,285.4 L161.1,284.6 L161.4,283.7 L161.8,282.8 L162.1,282.0 L162.4,281.1 L162.7,280.3 L163.0,279.4 L163.3,278.6 L163.7,277.8 L164.0,277.0 L164.3,276.1 L164.6,275.3 L164.9,274.6 L165.2,273.8 L165.6,273.0 L165.9,272.2 L166.2,271.5 L166.5,270.7 L166.8,270.0 L167.1,269.3 L167.5,268.6 L167.8,267.9 L168.1,267.2 L168.4,266.5 L168.7,265.9 L169.0,265.2 L169.4,264.6 L169.7,264.0 L170.0,263.3 L170.3,262.7 L170.6,262.2 L170.9,261.6 L171.3,261.0 L171.6,260.5 L171.9,260.0 L172.2,259.5 L172.5,259.0 L172.8,258.5 L173.2,258.0 L173.5,257.6 L173.8,257.1 L174.1,256.7 L174.4,256.3 L174.7,255.9 L175.1,255.6 L175.4,255.2 L175.7,254.9 L176.0,254.6 L176.3,254.3 L176.6,254.0 L177.0,253.7 L177.3,253.4 L177.6,253.2 L177.9,253.0 L178.2,252.8 L178.5,252.6 L178.9,252.4 L179.2,252.3 L179.5,252.2 L179.8,252.1 L180.1,252.0 L180.4,251.9 L180.8,251.8 L181.1,251.8 L181.4,251.8 L181.7,251.8 L182.0,251.8 L182.4,251.8 L182.7,251.9 L183.0,252.0 L183.3,252.1 L183.6,252.2 L183.9,252.3 L184.3,252.5 L184.6,252.7 L184.9,252.8 L185.2,253.1 L185.5,253.3 L185.8,253.5 L186.2,253.8 L186.5,254.1 L186.8,254.4 L187.1,254.8 L187.4,255.1 L187.7,255.5 L188.1,255.9 L188.4,256.3 L188.7,256.7 L189.0,257.1 L189.3,257.6 L189.6,258.1 L190.0,258.6 L190.3,259.1 L190.6,259.7 L190.9,260.2 L191.2,260.8 L191.5,261.4 L191.9,262.0 L192.2,262.6 L192.5,263.3 L192.8,263.9 L193.1,264.6 L193.4,265.3 L193.8,266.0 L194.1,266.7 L194.4,267.5 L194.7,268.2 L195.0,269.0 L195.3,269.7 L195.7,270.5 L196.0,271.3 L196.3,272.2 L196.6,273.0 L196.9,273.8 L197.2,274.7 L197.6,275.5 L197.9,276.4 L198.2,277.3 L198.5,278.2 L198.8,279.1 L199.1,280.0 L199.5,280.9 L199.8,281.8 L200.1,282.7 L200.4,283.7 L200.7,284.6 L201.0,285.6 L201.4,286.5 L201.7,287.5 L202.0,288.4 L202.3,289.4 L202.6,290.4 L202.9,291.3 L203.3,292.3 L203.6,293.3 L203.9,294.3 L204.2,295.2 L204.5,296.2 L204.8,297.2 L205.2,298.2 L205.5,299.2 L205.8,300.2 L206.1,301.1 L206.4,302.1 L206.8,303.1 L207.1,304.1 L207.4,305.0 L207.7,306.0 L208.0,307.0 L208.3,308.0 L208.7,308.9 L209.0,309.9 L209.3,310.8 L209.6,311.8 L209.9,312.7 L210.2,313.7 L210.6,314.6 L210.9,315.6 L211.2,316.5 L211.5,317.4 L211.8,318.4 L212.1,319.3 L212.5,320.2 L212.8,321.1 L213.1,322.0 L213.4,322.9 L213.7,323.8 L214.0,324.7 L214.4,325.5 L214.7,326.4 L215.0,327.3 L215.3,328.1 L215.6,329.0 L215.9,329.8 L216.3,330.6 L216.6,331.5 L216.9,332.3 L217.2,333.1 L217.5,333.9 L217.8,334.7 L218.2,335.5 L218.5,336.3 L218.8,337.1 L219.1,337.8 L219.4,338.6 L219.7,339.3 L220.1,340.1 L220.4,340.8 L220.7,341.5 L221.0,342.2 L221.3,343.0 L221.6,343.7 L222.0,344.3 L222.3,345.0 L222.6,345.7 L222.9,346.4 L223.2,347.0 L223.5,347.7 L223.9,348.3 L224.2,348.9 L224.5,349.6 L224.8,350.2 L225.1,350.8 L225.4,351.4 L225.8,352.0 L226.1,352.5 L226.4,353.1 L226.7,353.7 L227.0,354.2 L227.3,354.7 L227.7,355.3 L228.0,355.8 L228.3,356.3 L228.6,356.8 L228.9,357.3 L229.2,357.8 L229.6,358.2 L229.9,358.7 L230.2,359.2 L230.5,359.6 L230.8,360.0 L231.2,360.5 L231.5,360.9 L231.8,361.3 L232.1,361.7 L232.4,362.0 L232.7,362.4 L233.1,362.8 L233.4,363.1 L233.7,363.5 L234.0,363.8 L234.3,364.1 L234.6,364.4 L235.0,364.7 L235.3,365.0 L235.6,365.3 L235.9,365.5 L236.2,365.8 L236.5,366.0 L236.9,366.2 L237.2,366.4 L237.5,366.6 L237.8,366.8 L238.1,367.0 L238.4,367.2 L238.8,367.3 L239.1,367.5 L239.4,367.6 L239.7,367.7 L240.0,367.8 L240.3,367.9 L240.7,367.9 L241.0,368.0 L241.3,368.0 L241.6,368.1 L241.9,368.1 L242.2,368.1 L242.6,368.0 L242.9,368.0 L243.2,367.9 L243.5,367.9 L243.8,367.8 L244.1,367.7 L244.5,367.6 L244.8,367.4 L245.1,367.3 L245.4,367.1 L245.7,366.9 L246.0,366.7 L246.4,366.4 L246.7,366.2 L247.0,365.9 L247.3,365.6 L247.6,365.3 L247.9,364.9 L248.3,364.6 L248.6,364.2 L248.9,363.8 L249.2,363.4 L249.5,362.9 L249.8,362.4 L250.2,361.9 L250.5,361.4 L250.8,360.8 L251.1,360.2 L251.4,359.6 L251.7,359.0 L252.1,358.3 L252.4,357.6 L252.7,356.9 L253.0,356.1 L253.3,355.3 L253.6,354.5 L254.0,353.7 L254.3,352.8 L254.6,351.9 L254.9,350.9 L255.2,350.0 L255.6,348.9 L255.9,347.9 L256.2,346.8 L256.5,345.7 L256.8,344.5 L257.1,343.3 L257.5,342.1 L257.8,340.8 L258.1,339.5 L258.4,338.1 L258.7,336.8 L259.0,335.3 L259.4,333.8 L259.7,332.3 L260.0,330.8 L260.3,329.2 L260.6,327.5 L260.9,325.8 L261.3,324.1 L261.6,322.3 L261.9,320.5 L262.2,318.6 L262.5,316.7 L262.8,314.8 L263.2,312.8 L263.5,310.7 L263.8,308.6 L264.1,306.5 L264.4,304.3 L264.7,302.0 L265.1,299.7 L265.4,297.4 L265.7,295.0 L266.0,292.6 L266.3,290.1 L266.6,287.6 L267.0,285.0 L267.3,282.4 L267.6,279.7 L267.9,277.0 L268.2,274.2 L268.5,271.4 L268.9,268.5 L269.2,265.6 L269.5,262.7 L269.8,259.7 L270.1,256.6 L270.4,253.5 L270.8,250.4 L271.1,247.2 L271.4,244.0 L271.7,240.7 L272.0,237.4 L272.3,234.0 L272.7,230.6 L273.0,227.2 L273.3,223.7 L273.6,220.2 L273.9,216.7 L274.2,213.1 L274.6,209.5 L274.9,205.8 L275.2,202.1 L275.5,198.4 L275.8,194.6 L276.1,190.9 L276.5,187.0 L276.8,183.2 L277.1,179.3 L277.4,175.5 L277.7,171.5 L278.0,167.6 L278.4,163.6 L278.7,159.7 L279.0,155.7" stroke-width="2.55"/>
</g>
<rect x="57.5" y="14.0" width="221.5" height="470.0" fill="none" stroke="#000" stroke-width="1.7"/>
<path d="M57.5,484.0v-10.0 M57.5,14.0v10.0 M112.9,484.0v-10.0 M112.9,14.0v10.0 M168.2,484.0v-10.0 M168.2,14.0v10.0 M223.6,484.0v-10.0 M223.6,14.0v10.0 M279.0,484.0v-10.0 M279.0,14.0v10.0 M85.2,484.0v-5.9 M85.2,14.0v5.9 M140.6,484.0v-5.9 M140.6,14.0v5.9 M195.9,484.0v-5.9 M195.9,14.0v5.9 M251.3,484.0v-5.9 M251.3,14.0v5.9 M57.5,439.2h10.0 M279.0,439.2h-10.0 M57.5,349.7h10.0 M279.0,349.7h-10.0 M57.5,260.2h10.0 M279.0,260.2h-10.0 M57.5,170.7h10.0 M279.0,170.7h-10.0 M57.5,81.1h10.0 M279.0,81.1h-10.0 M57.5,394.5h5.9 M279.0,394.5h-5.9 M57.5,305.0h5.9 M279.0,305.0h-5.9 M57.5,215.4h5.9 M279.0,215.4h-5.9 M57.5,125.9h5.9 M279.0,125.9h-5.9 M57.5,36.4h5.9 M279.0,36.4h-5.9" stroke="#000" stroke-width="1.7" fill="none"/>
<text x="57.5" y="506.8" text-anchor="middle" class="tk">0.0</text>
<text x="112.9" y="506.8" text-anchor="middle" class="tk">0.5</text>
<text x="168.2" y="506.8" text-anchor="middle" class="tk">1.0</text>
<text x="223.6" y="506.8" text-anchor="middle" class="tk">1.5</text>
<text x="279.0" y="506.8" text-anchor="middle" class="tk">2.0</text>
<text x="47.3" y="444.2" text-anchor="end" class="tk">-0.4</text>
<text x="47.3" y="354.7" text-anchor="end" class="tk">0.0</text>
<text x="47.3" y="265.2" text-anchor="end" class="tk">0.4</text>
<text x="47.3" y="175.7" text-anchor="end" class="tk">0.8</text>
<text x="47.3" y="86.1" text-anchor="end" class="tk">1.2</text>
<path d="M91.1,307.8L142.3,350.9" stroke="#000" stroke-width="1" fill="none"/><path d="M151.9,359.0L140.0,353.7L144.7,348.2z" fill="#000"/>
<text x="244.2" y="47" text-anchor="middle" class="pl">(a)</text>
<text x="168.6" y="526.8" text-anchor="middle" class="ax">E<tspan dy="7.3" font-size="11">F</tspan><tspan dy="-7.3" font-size="1">&#8203;</tspan>(E<tspan dy="7.3" font-size="11">0</tspan><tspan dy="-7.3" font-size="1">&#8203;</tspan>)</text>
<text transform="translate(22.1,238.5) rotate(-90)" text-anchor="middle" class="ax">G (M<tspan dy="7.3" font-size="11">W</tspan><tspan dy="-7.3" font-size="1">&#8203;</tspan> G<tspan dy="7.3" font-size="11">0</tspan><tspan dy="-7.3" font-size="1">&#8203;</tspan>)</text>
<!-- panel b -->
<clipPath id="cb"><rect x="332.2" y="14.0" width="221.8" height="470.0"/></clipPath>
<path d="M332.2,385.50H554.0 M332.2,343.50H554.0 M332.2,300.50H554.0 M332.2,257.50H554.0 M332.2,214.50H554.0 M332.2,172.50H554.0 M332.2,129.50H554.0 M332.2,86.50H554.0" stroke="#000" stroke-width="1.3" stroke-dasharray="6 4.84" stroke-dashoffset="0.8" fill="none"/>
<g clip-path="url(#cb)" fill="none" stroke="#0000ff" stroke-linejoin="round">
<path d="M332.2,112.7 L332.6,112.7 L332.9,112.7 L333.3,112.7 L333.7,112.7 L334.1,112.6 L334.4,112.6 L334.8,112.6 L335.2,112.5 L335.5,112.5 L335.9,112.5 L336.3,112.4 L336.6,112.4 L337.0,112.3 L337.4,112.3 L337.8,112.2 L338.1,112.1 L338.5,112.1 L338.9,112.0 L339.2,112.0 L339.6,111.9 L340.0,111.8 L340.3,111.8 L340.7,111.7 L341.1,111.6 L341.5,111.5 L341.8,111.4 L342.2,111.3 L342.6,111.2 L342.9,111.1 L343.3,111.0 L343.7,110.9 L344.0,110.7 L344.4,110.6 L344.8,110.4 L345.2,110.3 L345.5,110.1 L345.9,110.0 L346.3,109.8 L346.6,109.6 L347.0,109.5 L347.4,109.3 L347.8,109.1 L348.1,108.9 L348.5,108.8 L348.9,108.6 L349.2,108.4 L349.6,108.1 L350.0,107.9 L350.3,107.7 L350.7,107.4 L351.1,107.2 L351.5,106.9 L351.8,106.6 L352.2,106.3 L352.6,106.0 L352.9,105.7 L353.3,105.4 L353.7,105.1 L354.0,104.8 L354.4,104.5 L354.8,104.2 L355.2,103.8 L355.5,103.5 L355.9,103.2 L356.3,102.8 L356.6,102.5 L357.0,102.2 L357.4,101.8 L357.7,101.5 L358.1,101.1 L358.5,100.7 L358.9,100.4 L359.2,100.0 L359.6,99.6 L360.0,99.2 L360.3,98.8 L360.7,98.4 L361.1,98.0 L361.5,97.5 L361.8,97.1 L362.2,96.7 L362.6,96.2 L362.9,95.8 L363.3,95.3 L363.7,94.8 L364.0,94.4 L364.4,93.9 L364.8,93.4 L365.2,92.9 L365.5,92.4 L365.9,91.9 L366.3,91.3 L366.6,90.8 L367.0,90.2 L367.4,89.6 L367.7,89.0 L368.1,88.4 L368.5,87.7 L368.9,87.0 L369.2,86.3 L369.6,85.6 L370.0,84.8 L370.3,83.9 L370.7,83.0 L371.1,82.0 L371.5,80.9 L371.8,79.8 L372.2,78.5 L372.6,77.1 L372.9,75.6 L373.3,73.9 L373.7,71.9 L374.0,69.4 L374.4,66.6 L374.8,63.6 L375.2,60.4 L375.5,57.1 L375.9,53.3 L376.3,49.3 L376.6,45.8 L377.0,43.1 L377.4,40.7 L377.7,38.6 L378.1,36.5 L378.5,34.5 L378.9,32.1 L379.2,30.0 L379.6,28.7 L380.0,28.6 L380.3,29.1 L380.7,29.8 L381.1,30.6 L381.4,31.4 L381.8,32.3 L382.2,33.3 L382.6,34.4 L382.9,35.4 L383.3,36.5 L383.7,37.5 L384.0,38.5 L384.4,39.5 L384.8,40.5 L385.2,41.5 L385.5,42.5 L385.9,43.5 L386.3,44.5 L386.6,45.5 L387.0,46.5 L387.4,47.5 L387.7,48.5 L388.1,49.4 L388.5,50.3 L388.9,51.3 L389.2,52.2 L389.6,53.1 L390.0,54.0 L390.3,54.9 L390.7,55.7 L391.1,56.6 L391.4,57.5 L391.8,58.3 L392.2,59.1 L392.6,60.0 L392.9,60.8 L393.3,61.6 L393.7,62.4 L394.0,63.2 L394.4,64.0 L394.8,64.8 L395.1,65.5 L395.5,66.3 L395.9,67.1 L396.3,67.8 L396.6,68.5 L397.0,69.3 L397.4,70.0 L397.7,70.6 L398.1,71.3 L398.5,71.9 L398.9,72.5 L399.2,73.1 L399.6,73.7 L400.0,74.2 L400.3,74.7 L400.7,75.2 L401.1,75.8 L401.4,76.3 L401.8,76.8 L402.2,77.3 L402.6,77.8 L402.9,78.3 L403.3,78.8 L403.7,79.3 L404.0,79.9 L404.4,80.4 L404.8,80.9 L405.1,81.4 L405.5,81.9 L405.9,82.5 L406.3,83.2 L406.6,84.2 L407.0,85.8 L407.4,87.7 L407.7,89.7 L408.1,91.7 L408.5,93.4 L408.8,95.2 L409.2,97.0 L409.6,98.7 L410.0,100.5 L410.3,102.2 L410.7,103.9 L411.1,105.5 L411.4,107.0 L411.8,108.5 L412.2,109.9 L412.6,111.3 L412.9,112.8 L413.3,114.3 L413.7,115.8 L414.0,117.4 L414.4,119.0 L414.8,120.7 L415.1,122.3 L415.5,124.0 L415.9,125.6 L416.3,127.3 L416.6,129.0 L417.0,130.8 L417.4,132.5 L417.7,134.3 L418.1,136.0 L418.5,137.8 L418.8,139.6 L419.2,141.4 L419.6,143.3 L420.0,145.1 L420.3,147.0 L420.7,148.9 L421.1,150.8 L421.4,152.7 L421.8,154.8 L422.2,156.8 L422.5,159.0 L422.9,161.1 L423.3,163.2 L423.7,165.3 L424.0,167.4 L424.4,169.4 L424.8,171.4 L425.1,173.2 L425.5,175.1 L425.9,176.8 L426.3,178.5 L426.6,180.2 L427.0,181.9 L427.4,183.5 L427.7,185.1 L428.1,186.6 L428.5,188.2 L428.8,189.8 L429.2,191.3 L429.6,192.9 L430.0,194.4 L430.3,196.0 L430.7,197.6 L431.1,199.2 L431.4,200.9 L431.8,202.5 L432.2,204.3 L432.5,206.0 L432.9,207.9 L433.3,209.7 L433.7,211.7 L434.0,213.7 L434.4,215.8 L434.8,218.1 L435.1,220.5 L435.5,223.0 L435.9,225.6 L436.2,228.2 L436.6,230.8 L437.0,233.3 L437.4,235.7 L437.7,238.1 L438.1,240.6 L438.5,243.1 L438.8,245.8 L439.2,248.6 L439.6,251.6 L440.0,254.9 L440.3,258.5 L440.7,262.4 L441.1,266.7 L441.4,271.4 L441.8,276.6 L442.2,282.2 L442.5,288.3 L442.9,295.0 L443.3,302.2 L443.7,309.5 L444.0,318.4 L444.4,330.4 L444.8,349.9 L445.1,386.7 L445.5,392.5 L445.9,394.8 L446.2,396.3 L446.6,397.5 L447.0,401.9 L447.4,403.1 L447.7,404.1 L448.1,405.1 L448.5,405.9 L448.8,406.7 L449.2,407.4 L449.6,408.2 L450.0,408.9 L450.3,409.7 L450.7,410.6 L451.1,411.5 L451.4,412.6 L451.8,413.7 L452.2,415.0 L452.5,416.5 L452.9,418.0 L453.3,419.7 L453.7,421.5 L454.0,423.3 L454.4,425.1 L454.8,426.7 L455.1,428.2 L455.5,429.5 L455.9,430.6 L456.2,431.3 L456.6,431.8 L457.0,432.0 L457.4,432.0 L457.7,431.8 L458.1,431.5 L458.5,431.1 L458.8,430.8 L459.2,430.5 L459.6,430.2 L459.9,430.1 L460.3,430.0 L460.7,430.0 L461.1,430.1 L461.4,430.3 L461.8,430.5 L462.2,430.8 L462.5,431.0 L462.9,431.3 L463.3,431.6 L463.7,432.0 L464.0,432.3 L464.4,432.7 L464.8,433.0 L465.1,433.2 L465.5,433.5 L465.9,433.7 L466.2,433.9 L466.6,434.0 L467.0,434.1 L467.4,434.1 L467.7,434.2 L468.1,434.2 L468.5,434.3 L468.8,434.3 L469.2,434.3 L469.6,434.4 L469.9,434.4 L470.3,434.5 L470.7,434.5 L471.1,434.6 L471.4,434.7 L471.8,434.7 L472.2,434.8 L472.5,434.9 L472.9,435.1 L473.3,435.2 L473.6,435.4 L474.0,435.6 L474.4,435.8 L474.8,436.1 L475.1,436.4 L475.5,436.8 L475.9,437.2 L476.2,437.7 L476.6,438.2 L477.0,438.8 L477.4,439.5 L477.7,440.2 L478.1,440.9 L478.5,441.6 L478.8,442.4 L479.2,444.1 L479.6,444.8 L479.9,445.4 L480.3,445.9 L480.7,446.4 L481.1,446.9 L481.4,447.3 L481.8,447.8 L482.2,448.2 L482.5,448.5 L482.9,448.9 L483.3,449.2 L483.6,449.5 L484.0,449.8 L484.4,450.1 L484.8,450.4 L485.1,450.6 L485.5,450.8 L485.9,451.0 L486.2,451.3 L486.6,451.4 L487.0,451.6 L487.3,451.8 L487.7,452.0 L488.1,452.1 L488.5,452.3 L488.8,452.5 L489.2,452.6 L489.6,452.8 L489.9,453.0 L490.3,453.1 L490.7,453.3 L491.1,453.5 L491.4,453.7 L491.8,453.9 L492.2,454.1 L492.5,454.3 L492.9,454.4 L493.3,454.6 L493.6,454.8 L494.0,455.0 L494.4,455.2 L494.8,455.4 L495.1,455.6 L495.5,455.8 L495.9,456.0 L496.2,456.1 L496.6,456.3 L497.0,456.5 L497.3,456.7 L497.7,456.8 L498.1,457.0 L498.5,457.2 L498.8,457.3 L499.2,457.5 L499.6,457.6 L499.9,457.8 L500.3,457.9 L500.7,458.1 L501.0,458.2 L501.4,458.3 L501.8,458.5 L502.2,458.6 L502.5,458.7 L502.9,458.8 L503.3,458.9 L503.6,459.0 L504.0,459.1 L504.4,459.1 L504.8,459.2 L505.1,459.3 L505.5,459.4 L505.9,459.5 L506.2,459.6 L506.6,459.7 L507.0,459.8 L507.3,459.9 L507.7,460.0 L508.1,460.2 L508.5,460.3 L508.8,460.5 L509.2,460.6 L509.6,460.8 L509.9,461.0 L510.3,461.2 L510.7,461.5 L511.0,461.7 L511.4,461.9 L511.8,462.2 L512.2,462.4 L512.5,462.7 L512.9,463.0 L513.3,463.3 L513.6,463.6 L514.0,463.9 L514.4,464.2 L514.7,464.5 L515.1,464.8 L515.5,465.0 L515.9,465.3 L516.2,465.5 L516.6,465.7 L517.0,465.9 L517.3,466.1 L517.7,466.2 L518.1,466.4 L518.5,466.5 L518.8,466.7 L519.2,466.8 L519.6,466.9 L519.9,467.1 L520.3,467.2 L520.7,467.3 L521.0,467.5 L521.4,467.6 L521.8,467.7 L522.2,467.8 L522.5,467.9 L522.9,468.1 L523.3,468.2 L523.6,468.3 L524.0,468.4 L524.4,468.5 L524.7,468.6 L525.1,468.7 L525.5,468.8 L525.9,468.9 L526.2,469.0 L526.6,469.1 L527.0,469.2 L527.3,469.3 L527.7,469.4 L528.1,469.5 L528.5,469.6 L528.8,469.7 L529.2,469.8 L529.6,469.9 L529.9,470.0 L530.3,470.1 L530.7,470.2 L531.0,470.2 L531.4,470.3 L531.8,470.4 L532.2,470.5 L532.5,470.6 L532.9,470.7 L533.3,470.8 L533.6,470.9 L534.0,471.0 L534.4,471.1 L534.7,471.2 L535.1,471.3 L535.5,471.4 L535.9,471.6 L536.2,471.7 L536.6,471.8 L537.0,471.9 L537.3,472.0 L537.7,472.1 L538.1,472.2 L538.4,472.3 L538.8,472.4 L539.2,472.6 L539.6,472.7 L539.9,472.8 L540.3,472.9 L540.7,473.0 L541.0,473.1 L541.4,473.3 L541.8,473.4 L542.2,473.5 L542.5,473.6 L542.9,473.7 L543.3,473.9 L543.6,474.0 L544.0,474.1 L544.4,474.2 L544.7,474.3 L545.1,474.5 L545.5,474.6 L545.9,474.7 L546.2,474.8 L546.6,474.9 L547.0,475.0 L547.3,475.2 L547.7,475.3 L548.1,475.4 L548.4,475.5 L548.8,475.6 L549.2,475.7 L549.6,475.8 L549.9,475.9 L550.3,476.0 L550.7,476.1 L551.0,476.2 L551.4,476.3 L551.8,476.4 L552.1,476.5 L552.5,476.6 L552.9,476.7 L553.3,476.8 L553.6,476.9 L554.0,476.9" stroke-width="1.3" stroke-dasharray="3.3 1.7"/>
<path d="M332.2,112.5 L332.6,112.5 L332.9,112.5 L333.3,112.5 L333.7,112.5 L334.1,112.5 L334.4,112.5 L334.8,112.5 L335.2,112.5 L335.5,112.4 L335.9,112.4 L336.3,112.4 L336.6,112.3 L337.0,112.3 L337.4,112.3 L337.8,112.2 L338.1,112.2 L338.5,112.1 L338.9,112.1 L339.2,112.0 L339.6,111.9 L340.0,111.8 L340.3,111.8 L340.7,111.7 L341.1,111.6 L341.5,111.5 L341.8,111.4 L342.2,111.3 L342.6,111.1 L342.9,111.0 L343.3,110.9 L343.7,110.7 L344.0,110.6 L344.4,110.5 L344.8,110.3 L345.2,110.1 L345.5,110.0 L345.9,109.8 L346.3,109.6 L346.6,109.4 L347.0,109.2 L347.4,109.0 L347.8,108.8 L348.1,108.6 L348.5,108.4 L348.9,108.2 L349.2,107.9 L349.6,107.7 L350.0,107.5 L350.3,107.2 L350.7,106.9 L351.1,106.7 L351.5,106.4 L351.8,106.1 L352.2,105.8 L352.6,105.5 L352.9,105.2 L353.3,104.9 L353.7,104.6 L354.0,104.3 L354.4,103.9 L354.8,103.6 L355.2,103.3 L355.5,102.9 L355.9,102.6 L356.3,102.3 L356.6,101.9 L357.0,101.6 L357.4,101.2 L357.7,100.8 L358.1,100.4 L358.5,100.1 L358.9,99.7 L359.2,99.3 L359.6,98.9 L360.0,98.5 L360.3,98.0 L360.7,97.6 L361.1,97.2 L361.5,96.8 L361.8,96.3 L362.2,95.9 L362.6,95.4 L362.9,94.9 L363.3,94.5 L363.7,94.0 L364.0,93.5 L364.4,93.0 L364.8,92.5 L365.2,92.0 L365.5,91.5 L365.9,91.0 L366.3,90.5 L366.6,89.9 L367.0,89.4 L367.4,88.7 L367.7,88.1 L368.1,87.4 L368.5,86.6 L368.9,85.9 L369.2,85.1 L369.6,84.3 L370.0,83.4 L370.3,82.3 L370.7,81.2 L371.1,79.8 L371.5,78.2 L371.8,76.3 L372.2,74.3 L372.6,72.1 L372.9,69.9 L373.3,67.5 L373.7,65.2 L374.0,62.9 L374.4,60.6 L374.8,57.4 L375.2,53.8 L375.5,50.2 L375.9,47.0 L376.3,44.4 L376.6,42.0 L377.0,39.8 L377.4,37.8 L377.7,35.9 L378.1,34.1 L378.5,32.5 L378.9,31.2 L379.2,30.1 L379.6,29.5 L380.0,29.3 L380.3,29.5 L380.7,29.9 L381.1,30.5 L381.4,31.3 L381.8,32.3 L382.2,33.3 L382.6,34.4 L382.9,35.4 L383.3,36.5 L383.7,37.5 L384.0,38.5 L384.4,39.5 L384.8,40.5 L385.2,41.5 L385.5,42.6 L385.9,43.6 L386.3,44.6 L386.6,45.6 L387.0,46.5 L387.4,47.5 L387.7,48.5 L388.1,49.4 L388.5,50.3 L388.9,51.3 L389.2,52.2 L389.6,53.1 L390.0,54.0 L390.3,54.9 L390.7,55.7 L391.1,56.6 L391.4,57.4 L391.8,58.3 L392.2,59.1 L392.6,60.0 L392.9,60.8 L393.3,61.6 L393.7,62.4 L394.0,63.2 L394.4,64.0 L394.8,64.7 L395.1,65.5 L395.5,66.3 L395.9,67.0 L396.3,67.7 L396.6,68.5 L397.0,69.2 L397.4,69.9 L397.7,70.6 L398.1,71.3 L398.5,71.9 L398.9,72.6 L399.2,73.2 L399.6,73.8 L400.0,74.3 L400.3,74.9 L400.7,75.4 L401.1,75.9 L401.4,76.4 L401.8,76.8 L402.2,77.3 L402.6,77.8 L402.9,78.3 L403.3,78.8 L403.7,79.3 L404.0,79.8 L404.4,80.4 L404.8,80.9 L405.1,81.2 L405.5,81.6 L405.9,82.2 L406.3,83.1 L406.6,84.4 L407.0,86.0 L407.4,87.9 L407.7,89.8 L408.1,91.7 L408.5,93.4 L408.8,95.2 L409.2,97.0 L409.6,98.8 L410.0,100.5 L410.3,102.2 L410.7,103.9 L411.1,105.5 L411.4,107.0 L411.8,108.5 L412.2,109.9 L412.6,111.4 L412.9,112.8 L413.3,114.3 L413.7,115.8 L414.0,117.4 L414.4,118.9 L414.8,120.5 L415.1,122.1 L415.5,123.7 L415.9,125.4 L416.3,127.1 L416.6,128.7 L417.0,130.4 L417.4,132.2 L417.7,133.9 L418.1,135.7 L418.5,137.5 L418.8,139.3 L419.2,141.2 L419.6,143.0 L420.0,144.9 L420.3,146.9 L420.7,148.8 L421.1,150.8 L421.4,152.8 L421.8,154.8 L422.2,156.8 L422.5,158.8 L422.9,160.9 L423.3,162.9 L423.7,165.0 L424.0,167.0 L424.4,169.1 L424.8,171.3 L425.1,173.4 L425.5,175.7 L425.9,178.1 L426.3,180.5 L426.6,183.1 L427.0,185.8 L427.4,188.6 L427.7,191.5 L428.1,194.6 L428.5,197.8 L428.8,201.2 L429.2,204.6 L429.6,208.2 L430.0,211.9 L430.3,215.8 L430.7,219.7 L431.1,223.8 L431.4,228.0 L431.8,232.3 L432.2,236.7 L432.5,241.2 L432.9,245.8 L433.3,250.5 L433.7,255.3 L434.0,260.2 L434.4,265.4 L434.8,270.9 L435.1,276.5 L435.5,282.1 L435.9,287.6 L436.2,292.9 L436.6,297.8 L437.0,302.4 L437.4,306.5 L437.7,310.4 L438.1,314.1 L438.5,317.6 L438.8,321.1 L439.2,324.6 L439.6,328.1 L440.0,331.7 L440.3,335.6 L440.7,339.7 L441.1,344.1 L441.4,349.0 L441.8,354.1 L442.2,359.3 L442.5,364.6 L442.9,369.8 L443.3,374.7 L443.7,379.2 L444.0,383.3 L444.4,386.7 L444.8,389.7 L445.1,392.5 L445.5,394.9 L445.9,397.0 L446.2,398.9 L446.6,400.5 L447.0,401.9 L447.4,403.1 L447.7,404.1 L448.1,405.1 L448.5,405.9 L448.8,406.7 L449.2,407.4 L449.6,408.2 L450.0,408.9 L450.3,409.7 L450.7,410.6 L451.1,411.5 L451.4,412.6 L451.8,413.7 L452.2,415.0 L452.5,416.5 L452.9,418.0 L453.3,419.7 L453.7,421.5 L454.0,423.3 L454.4,425.1 L454.8,426.7 L455.1,428.2 L455.5,429.5 L455.9,430.6 L456.2,431.3 L456.6,431.8 L457.0,432.0 L457.4,432.0 L457.7,431.8 L458.1,431.5 L458.5,431.1 L458.8,430.8 L459.2,430.5 L459.6,430.2 L459.9,430.1 L460.3,430.0 L460.7,430.0 L461.1,430.1 L461.4,430.3 L461.8,430.5 L462.2,430.8 L462.5,431.0 L462.9,431.3 L463.3,431.6 L463.7,431.9 L464.0,432.1 L464.4,432.4 L464.8,432.6 L465.1,432.9 L465.5,433.1 L465.9,433.3 L466.2,433.5 L466.6,433.6 L467.0,433.7 L467.4,433.9 L467.7,434.0 L468.1,434.1 L468.5,434.1 L468.8,434.2 L469.2,434.3 L469.6,434.3 L469.9,434.4 L470.3,434.5 L470.7,434.5 L471.1,434.6 L471.4,434.7 L471.8,434.7 L472.2,434.8 L472.5,434.9 L472.9,435.1 L473.3,435.2 L473.6,435.4 L474.0,435.6 L474.4,435.8 L474.8,436.1 L475.1,436.4 L475.5,436.8 L475.9,437.2 L476.2,437.7 L476.6,438.2 L477.0,438.8 L477.4,439.5 L477.7,440.2 L478.1,440.9 L478.5,441.6 L478.8,442.4 L479.2,443.1 L479.6,443.8 L479.9,444.5 L480.3,445.1 L480.7,445.7 L481.1,446.3 L481.4,446.8 L481.8,447.2 L482.2,447.7 L482.5,448.1 L482.9,448.5 L483.3,448.8 L483.6,449.2 L484.0,449.5 L484.4,449.8 L484.8,450.1 L485.1,450.3 L485.5,450.6 L485.9,450.8 L486.2,451.0 L486.6,451.3 L487.0,451.5 L487.3,451.7 L487.7,451.9 L488.1,452.1 L488.5,452.2 L488.8,452.4 L489.2,452.6 L489.6,452.8 L489.9,453.0 L490.3,453.1 L490.7,453.3 L491.1,453.5 L491.4,453.7 L491.8,453.9 L492.2,454.1 L492.5,454.3 L492.9,454.4 L493.3,454.6 L493.6,454.8 L494.0,455.0 L494.4,455.2 L494.8,455.4 L495.1,455.6 L495.5,455.8 L495.9,456.0 L496.2,456.1 L496.6,456.3 L497.0,456.5 L497.3,456.7 L497.7,456.8 L498.1,457.0 L498.5,457.2 L498.8,457.3 L499.2,457.5 L499.6,457.6 L499.9,457.8 L500.3,457.9 L500.7,458.1 L501.0,458.2 L501.4,458.3 L501.8,458.4 L502.2,458.5 L502.5,458.6 L502.9,458.7 L503.3,458.8 L503.6,458.9 L504.0,459.0 L504.4,459.1 L504.8,459.2 L505.1,459.3 L505.5,459.4 L505.9,459.5 L506.2,459.6 L506.6,459.7 L507.0,459.8 L507.3,459.9 L507.7,460.0 L508.1,460.2 L508.5,460.3 L508.8,460.5 L509.2,460.6 L509.6,460.8 L509.9,461.0 L510.3,461.2 L510.7,461.5 L511.0,461.7 L511.4,461.9 L511.8,462.2 L512.2,462.4 L512.5,462.7 L512.9,463.0 L513.3,463.2 L513.6,463.5 L514.0,463.8 L514.4,464.0 L514.7,464.3 L515.1,464.5 L515.5,464.7 L515.9,465.0 L516.2,465.2 L516.6,465.4 L517.0,465.6 L517.3,465.8 L517.7,466.0 L518.1,466.2 L518.5,466.3 L518.8,466.5 L519.2,466.6 L519.6,466.8 L519.9,466.9 L520.3,467.1 L520.7,467.2 L521.0,467.4 L521.4,467.5 L521.8,467.6 L522.2,467.7 L522.5,467.9 L522.9,468.0 L523.3,468.1 L523.6,468.2 L524.0,468.3 L524.4,468.4 L524.7,468.5 L525.1,468.7 L525.5,468.8 L525.9,468.9 L526.2,469.0 L526.6,469.1 L527.0,469.2 L527.3,469.3 L527.7,469.4 L528.1,469.5 L528.5,469.6 L528.8,469.7 L529.2,469.8 L529.6,469.9 L529.9,469.9 L530.3,470.0 L530.7,470.1 L531.0,470.2 L531.4,470.3 L531.8,470.4 L532.2,470.5 L532.5,470.6 L532.9,470.7 L533.3,470.8 L533.6,470.9 L534.0,471.0 L534.4,471.1 L534.7,471.2 L535.1,471.3 L535.5,471.4 L535.9,471.6 L536.2,471.7 L536.6,471.8 L537.0,471.9 L537.3,472.0 L537.7,472.1 L538.1,472.2 L538.4,472.3 L538.8,472.4 L539.2,472.6 L539.6,472.7 L539.9,472.8 L540.3,472.9 L540.7,473.0 L541.0,473.1 L541.4,473.3 L541.8,473.4 L542.2,473.5 L542.5,473.6 L542.9,473.7 L543.3,473.8 L543.6,474.0 L544.0,474.1 L544.4,474.2 L544.7,474.3 L545.1,474.4 L545.5,474.5 L545.9,474.7 L546.2,474.8 L546.6,474.9 L547.0,475.0 L547.3,475.1 L547.7,475.2 L548.1,475.3 L548.4,475.4 L548.8,475.6 L549.2,475.7 L549.6,475.8 L549.9,475.9 L550.3,476.0 L550.7,476.1 L551.0,476.2 L551.4,476.3 L551.8,476.4 L552.1,476.5 L552.5,476.5 L552.9,476.6 L553.3,476.7 L553.6,476.8 L554.0,476.9" stroke-width="2.6"/>
<path d="M332.2,112.7 L332.6,112.6 L332.9,112.5 L333.3,112.4 L333.7,112.3 L334.1,112.2 L334.4,112.1 L334.8,111.9 L335.2,111.8 L335.5,111.6 L335.9,111.5 L336.3,111.3 L336.6,111.1 L337.0,110.9 L337.4,110.8 L337.8,110.6 L338.1,110.4 L338.5,110.2 L338.9,110.0 L339.2,109.7 L339.6,109.5 L340.0,109.3 L340.3,109.1 L340.7,108.8 L341.1,108.6 L341.5,108.3 L341.8,108.0 L342.2,107.7 L342.6,107.4 L342.9,107.0 L343.3,106.7 L343.7,106.4 L344.0,106.0 L344.4,105.6 L344.8,105.3 L345.2,104.9 L345.5,104.5 L345.9,104.1 L346.3,103.6 L346.6,103.2 L347.0,102.8 L347.4,102.3 L347.8,101.9 L348.1,101.4 L348.5,100.9 L348.9,100.4 L349.2,99.9 L349.6,99.3 L350.0,98.7 L350.3,98.1 L350.7,97.4 L351.1,96.8 L351.5,96.1 L351.8,95.3 L352.2,94.6 L352.6,93.8 L352.9,93.1 L353.3,92.3 L353.7,91.5 L354.0,90.7 L354.4,89.8 L354.8,89.0 L355.2,88.2 L355.5,87.3 L355.9,86.4 L356.3,85.5 L356.6,84.5 L357.0,83.5 L357.4,82.5 L357.7,81.4 L358.1,80.4 L358.5,79.4 L358.9,78.3 L359.2,77.3 L359.6,76.3 L360.0,75.3 L360.3,74.2 L360.7,73.2 L361.1,72.1 L361.5,71.0 L361.8,69.9 L362.2,68.7 L362.6,67.6 L362.9,66.5 L363.3,65.4 L363.7,64.4 L364.0,63.4 L364.4,62.4 L364.8,61.5 L365.2,60.7 L365.5,59.9 L365.9,59.1 L366.3,58.2 L366.6,57.4 L367.0,56.5 L367.4,55.6 L367.7,54.6 L368.1,53.7 L368.5,52.7 L368.9,51.7 L369.2,50.7 L369.6,49.7 L370.0,48.6 L370.3,47.6 L370.7,46.7 L371.1,45.9 L371.5,45.1 L371.8,44.4 L372.2,43.8 L372.6,43.2 L372.9,42.7 L373.3,42.1 L373.7,41.6 L374.0,41.1 L374.4,40.6 L374.8,40.2 L375.2,39.8 L375.5,39.4 L375.9,39.1 L376.3,38.9 L376.6,38.8 L377.0,38.8 L377.4,38.8 L377.7,38.9 L378.1,39.1 L378.5,39.4 L378.9,39.8 L379.2,40.2 L379.6,40.8 L380.0,41.4 L380.3,42.2 L380.7,43.0 L381.1,43.9 L381.4,45.0 L381.8,46.2 L382.2,47.4 L382.6,48.8 L382.9,50.2 L383.3,51.6 L383.7,53.1 L384.0,54.6 L384.4,56.0 L384.8,57.4 L385.2,58.7 L385.5,60.0 L385.9,61.4 L386.3,62.8 L386.6,64.2 L387.0,65.6 L387.4,67.1 L387.7,68.6 L388.1,70.1 L388.5,71.6 L388.9,73.2 L389.2,74.7 L389.6,76.3 L390.0,78.0 L390.3,79.6 L390.7,81.1 L391.1,82.6 L391.4,84.1 L391.8,85.5 L392.2,86.9 L392.6,88.4 L392.9,89.8 L393.3,91.2 L393.7,92.6 L394.0,94.1 L394.4,95.6 L394.8,97.1 L395.1,98.6 L395.5,100.0 L395.9,101.4 L396.3,102.8 L396.6,104.2 L397.0,105.5 L397.4,107.0 L397.7,108.4 L398.1,109.9 L398.5,111.5 L398.9,113.1 L399.2,114.8 L399.6,116.5 L400.0,118.3 L400.3,120.2 L400.7,122.1 L401.1,124.0 L401.4,125.9 L401.8,127.9 L402.2,129.9 L402.6,131.9 L402.9,133.9 L403.3,136.0 L403.7,138.0 L404.0,140.1 L404.4,142.2 L404.8,144.3 L405.1,146.4 L405.5,148.5 L405.9,150.6 L406.3,152.7 L406.6,154.8 L407.0,157.0 L407.4,159.2 L407.7,161.4 L408.1,163.6 L408.5,165.9 L408.8,168.1 L409.2,170.4 L409.6,172.7 L410.0,175.0 L410.3,177.3 L410.7,179.6 L411.1,181.9 L411.4,184.3 L411.8,186.6 L412.2,188.9 L412.6,191.2 L412.9,193.5 L413.3,195.9 L413.7,198.3 L414.0,200.6 L414.4,203.0 L414.8,205.4 L415.1,207.8 L415.5,210.3 L415.9,212.8 L416.3,215.3 L416.6,217.8 L417.0,220.4 L417.4,223.1 L417.7,225.8 L418.1,228.5 L418.5,231.2 L418.8,234.0 L419.2,236.7 L419.6,239.5 L420.0,242.2 L420.3,245.0 L420.7,247.7 L421.1,250.3 L421.4,253.0 L421.8,255.5 L422.2,258.1 L422.5,260.6 L422.9,263.0 L423.3,265.5 L423.7,268.0 L424.0,270.5 L424.4,272.9 L424.8,275.4 L425.1,277.8 L425.5,280.2 L425.9,282.6 L426.3,285.0 L426.6,287.4 L427.0,289.8 L427.4,292.2 L427.7,294.5 L428.1,296.9 L428.5,299.2 L428.8,301.6 L429.2,303.9 L429.6,306.2 L430.0,308.5 L430.3,310.9 L430.7,313.2 L431.1,315.5 L431.4,317.8 L431.8,320.1 L432.2,322.5 L432.5,324.8 L432.9,327.1 L433.3,329.4 L433.7,331.7 L434.0,334.0 L434.4,336.3 L434.8,338.6 L435.1,340.9 L435.5,343.2 L435.9,345.6 L436.2,348.1 L436.6,350.7 L437.0,353.4 L437.4,356.2 L437.7,359.0 L438.1,361.8 L438.5,364.6 L438.8,367.4 L439.2,370.1 L439.6,372.8 L440.0,375.5 L440.3,378.0 L440.7,380.4 L441.1,382.6 L441.4,384.7 L441.8,386.7 L442.2,388.5 L442.5,390.3 L442.9,392.0 L443.3,393.7 L443.7,395.3 L444.0,396.8 L444.4,398.2 L444.8,399.6 L445.1,401.0 L445.5,402.2 L445.9,403.4 L446.2,404.6 L446.6,405.7 L447.0,406.8 L447.4,407.8 L447.7,408.8 L448.1,409.8 L448.5,410.7 L448.8,411.7 L449.2,412.6 L449.6,413.5 L450.0,414.3 L450.3,415.2 L450.7,416.1 L451.1,417.0 L451.4,417.8 L451.8,418.7 L452.2,419.5 L452.5,420.4 L452.9,421.2 L453.3,422.0 L453.7,422.7 L454.0,423.4 L454.4,424.1 L454.8,424.8 L455.1,425.4 L455.5,426.0 L455.9,426.5 L456.2,427.0 L456.6,427.4 L457.0,427.9 L457.4,428.2 L457.7,428.6 L458.1,429.0 L458.5,429.3 L458.8,429.5 L459.2,429.8 L459.6,430.0 L459.9,430.2 L460.3,430.4 L460.7,430.6 L461.1,430.8 L461.4,431.0 L461.8,431.2 L462.2,431.4 L462.5,431.6 L462.9,431.8 L463.3,432.0 L463.7,432.2 L464.0,432.3 L464.4,432.5 L464.8,432.7 L465.1,432.9 L465.5,433.1 L465.9,433.3 L466.2,433.5 L466.6,433.6 L467.0,433.8 L467.4,434.0 L467.7,434.1 L468.1,434.3 L468.5,434.5 L468.8,434.6 L469.2,434.8 L469.6,435.0 L469.9,435.2 L470.3,435.4 L470.7,435.6 L471.1,435.8 L471.4,436.0 L471.8,436.2 L472.2,436.5 L472.5,436.7 L472.9,437.0 L473.3,437.3 L473.6,437.6 L474.0,437.9 L474.4,438.2 L474.8,438.6 L475.1,439.0 L475.5,439.4 L475.9,439.8 L476.2,440.2 L476.6,440.6 L477.0,441.1 L477.4,441.5 L477.7,442.0 L478.1,442.4 L478.5,442.9 L478.8,443.4 L479.2,443.8 L479.6,444.3 L479.9,444.7 L480.3,445.2 L480.7,445.6 L481.1,446.0 L481.4,446.4 L481.8,446.8 L482.2,447.2 L482.5,447.6 L482.9,447.9 L483.3,448.3 L483.6,448.6 L484.0,448.9 L484.4,449.2 L484.8,449.5 L485.1,449.8 L485.5,450.1 L485.9,450.4 L486.2,450.6 L486.6,450.9 L487.0,451.1 L487.3,451.4 L487.7,451.6 L488.1,451.8 L488.5,452.0 L488.8,452.3 L489.2,452.5 L489.6,452.7 L489.9,452.9 L490.3,453.1 L490.7,453.3 L491.1,453.5 L491.4,453.7 L491.8,453.9 L492.2,454.1 L492.5,454.3 L492.9,454.5 L493.3,454.7 L493.6,454.9 L494.0,455.1 L494.4,455.2 L494.8,455.4 L495.1,455.6 L495.5,455.8 L495.9,456.0 L496.2,456.2 L496.6,456.3 L497.0,456.5 L497.3,456.7 L497.7,456.8 L498.1,457.0 L498.5,457.2 L498.8,457.3 L499.2,457.5 L499.6,457.6 L499.9,457.8 L500.3,457.9 L500.7,458.0 L501.0,458.2 L501.4,458.3 L501.8,458.4 L502.2,458.5 L502.5,458.7 L502.9,458.8 L503.3,458.9 L503.6,459.0 L504.0,459.2 L504.4,459.3 L504.8,459.4 L505.1,459.5 L505.5,459.6 L505.9,459.8 L506.2,459.9 L506.6,460.0 L507.0,460.1 L507.3,460.3 L507.7,460.4 L508.1,460.6 L508.5,460.7 L508.8,460.9 L509.2,461.0 L509.6,461.2 L509.9,461.4 L510.3,461.6 L510.7,461.7 L511.0,461.9 L511.4,462.1 L511.8,462.3 L512.2,462.5 L512.5,462.7 L512.9,462.9 L513.3,463.1 L513.6,463.3 L514.0,463.6 L514.4,463.8 L514.7,464.0 L515.1,464.2 L515.5,464.4 L515.9,464.6 L516.2,464.8 L516.6,465.0 L517.0,465.2 L517.3,465.4 L517.7,465.5 L518.1,465.7 L518.5,465.9 L518.8,466.1 L519.2,466.2 L519.6,466.4 L519.9,466.6 L520.3,466.7 L520.7,466.9 L521.0,467.0 L521.4,467.2 L521.8,467.3 L522.2,467.4 L522.5,467.6 L522.9,467.7 L523.3,467.8 L523.6,468.0 L524.0,468.1 L524.4,468.2 L524.7,468.3 L525.1,468.5 L525.5,468.6 L525.9,468.7 L526.2,468.8 L526.6,468.9 L527.0,469.0 L527.3,469.1 L527.7,469.2 L528.1,469.4 L528.5,469.5 L528.8,469.6 L529.2,469.7 L529.6,469.8 L529.9,469.9 L530.3,470.0 L530.7,470.1 L531.0,470.2 L531.4,470.3 L531.8,470.4 L532.2,470.5 L532.5,470.6 L532.9,470.7 L533.3,470.8 L533.6,470.9 L534.0,471.0 L534.4,471.1 L534.7,471.2 L535.1,471.3 L535.5,471.5 L535.9,471.6 L536.2,471.7 L536.6,471.8 L537.0,471.9 L537.3,472.0 L537.7,472.1 L538.1,472.2 L538.4,472.3 L538.8,472.4 L539.2,472.6 L539.6,472.7 L539.9,472.8 L540.3,472.9 L540.7,473.0 L541.0,473.1 L541.4,473.2 L541.8,473.3 L542.2,473.5 L542.5,473.6 L542.9,473.7 L543.3,473.8 L543.6,473.9 L544.0,474.0 L544.4,474.1 L544.7,474.2 L545.1,474.4 L545.5,474.5 L545.9,474.6 L546.2,474.7 L546.6,474.8 L547.0,474.9 L547.3,475.0 L547.7,475.1 L548.1,475.2 L548.4,475.3 L548.8,475.4 L549.2,475.5 L549.6,475.6 L549.9,475.7 L550.3,475.8 L550.7,475.9 L551.0,476.0 L551.4,476.1 L551.8,476.2 L552.1,476.3 L552.5,476.4 L552.9,476.5 L553.3,476.6 L553.6,476.7 L554.0,476.8" stroke-width="2.6"/>
<path d="M332.2,126.8 L332.6,126.9 L332.9,127.1 L333.3,127.2 L333.7,127.4 L334.1,127.5 L334.4,127.6 L334.8,127.8 L335.2,127.9 L335.5,128.0 L335.9,128.2 L336.3,128.3 L336.6,128.4 L337.0,128.5 L337.4,128.7 L337.8,128.8 L338.1,128.9 L338.5,129.0 L338.9,129.2 L339.2,129.3 L339.6,129.4 L340.0,129.5 L340.3,129.6 L340.7,129.8 L341.1,129.9 L341.5,130.0 L341.8,130.1 L342.2,130.2 L342.6,130.3 L342.9,130.4 L343.3,130.5 L343.7,130.6 L344.0,130.7 L344.4,130.8 L344.8,130.9 L345.2,131.0 L345.5,131.1 L345.9,131.2 L346.3,131.3 L346.6,131.4 L347.0,131.5 L347.4,131.6 L347.8,131.7 L348.1,131.8 L348.5,131.8 L348.9,131.9 L349.2,132.0 L349.6,132.1 L350.0,132.2 L350.3,132.3 L350.7,132.3 L351.1,132.4 L351.5,132.5 L351.8,132.6 L352.2,132.7 L352.6,132.8 L352.9,132.9 L353.3,133.0 L353.7,133.1 L354.0,133.2 L354.4,133.3 L354.8,133.4 L355.2,133.5 L355.5,133.6 L355.9,133.7 L356.3,133.8 L356.6,133.9 L357.0,134.0 L357.4,134.1 L357.7,134.3 L358.1,134.4 L358.5,134.5 L358.9,134.6 L359.2,134.7 L359.6,134.8 L360.0,135.0 L360.3,135.1 L360.7,135.2 L361.1,135.3 L361.5,135.5 L361.8,135.6 L362.2,135.8 L362.6,135.9 L362.9,136.0 L363.3,136.2 L363.7,136.4 L364.0,136.5 L364.4,136.7 L364.8,136.8 L365.2,137.0 L365.5,137.2 L365.9,137.4 L366.3,137.6 L366.6,137.8 L367.0,138.0 L367.4,138.2 L367.7,138.4 L368.1,138.6 L368.5,138.9 L368.9,139.1 L369.2,139.4 L369.6,139.7 L370.0,140.0 L370.3,140.3 L370.7,140.6 L371.1,140.9 L371.5,141.3 L371.8,141.7 L372.2,142.1 L372.6,142.5 L372.9,142.9 L373.3,143.4 L373.7,143.8 L374.0,144.4 L374.4,144.9 L374.8,145.4 L375.2,146.0 L375.5,146.6 L375.9,147.3 L376.3,147.9 L376.6,148.6 L377.0,149.3 L377.4,150.0 L377.7,150.8 L378.1,151.5 L378.5,152.3 L378.9,153.1 L379.2,153.9 L379.6,154.7 L380.0,155.6 L380.3,156.5 L380.7,157.4 L381.1,158.3 L381.4,159.2 L381.8,160.2 L382.2,161.2 L382.6,162.2 L382.9,163.3 L383.3,164.3 L383.7,165.4 L384.0,166.5 L384.4,167.7 L384.8,168.8 L385.2,170.0 L385.5,171.2 L385.9,172.5 L386.3,173.7 L386.6,175.0 L387.0,176.3 L387.4,177.5 L387.7,178.8 L388.1,180.1 L388.5,181.4 L388.9,182.7 L389.2,184.0 L389.6,185.4 L390.0,186.7 L390.3,188.0 L390.7,189.3 L391.1,190.6 L391.4,191.9 L391.8,193.2 L392.2,194.5 L392.6,195.8 L392.9,197.1 L393.3,198.4 L393.7,199.6 L394.0,200.9 L394.4,202.2 L394.8,203.4 L395.1,204.7 L395.5,205.9 L395.9,207.1 L396.3,208.4 L396.6,209.6 L397.0,210.8 L397.4,212.0 L397.7,213.2 L398.1,214.4 L398.5,215.6 L398.9,216.8 L399.2,218.0 L399.6,219.2 L400.0,220.5 L400.3,221.7 L400.7,222.9 L401.1,224.2 L401.4,225.4 L401.8,226.7 L402.2,228.0 L402.6,229.3 L402.9,230.6 L403.3,231.9 L403.7,233.3 L404.0,234.6 L404.4,236.0 L404.8,237.4 L405.1,238.8 L405.5,240.2 L405.9,241.6 L406.3,243.0 L406.6,244.5 L407.0,246.0 L407.4,247.4 L407.7,248.9 L408.1,250.4 L408.5,251.9 L408.8,253.5 L409.2,255.0 L409.6,256.5 L410.0,258.1 L410.3,259.6 L410.7,261.2 L411.1,262.7 L411.4,264.3 L411.8,265.9 L412.2,267.5 L412.6,269.1 L412.9,270.7 L413.3,272.3 L413.7,273.9 L414.0,275.5 L414.4,277.2 L414.8,278.8 L415.1,280.4 L415.5,282.1 L415.9,283.7 L416.3,285.4 L416.6,287.0 L417.0,288.7 L417.4,290.3 L417.7,292.0 L418.1,293.7 L418.5,295.3 L418.8,297.0 L419.2,298.7 L419.6,300.3 L420.0,302.0 L420.3,303.7 L420.7,305.4 L421.1,307.1 L421.4,308.7 L421.8,310.4 L422.2,312.1 L422.5,313.8 L422.9,315.5 L423.3,317.2 L423.7,318.9 L424.0,320.5 L424.4,322.2 L424.8,323.9 L425.1,325.6 L425.5,327.3 L425.9,328.9 L426.3,330.6 L426.6,332.3 L427.0,333.9 L427.4,335.6 L427.7,337.2 L428.1,338.9 L428.5,340.5 L428.8,342.1 L429.2,343.8 L429.6,345.4 L430.0,347.0 L430.3,348.7 L430.7,350.5 L431.1,352.2 L431.4,354.0 L431.8,355.8 L432.2,357.6 L432.5,359.5 L432.9,361.3 L433.3,363.1 L433.7,365.0 L434.0,366.8 L434.4,368.6 L434.8,370.4 L435.1,372.2 L435.5,373.9 L435.9,375.6 L436.2,377.3 L436.6,378.9 L437.0,380.5 L437.4,382.0 L437.7,383.4 L438.1,384.8 L438.5,386.1 L438.8,387.3 L439.2,388.6 L439.6,389.8 L440.0,391.0 L440.3,392.2 L440.7,393.3 L441.1,394.5 L441.4,395.6 L441.8,396.7 L442.2,397.7 L442.5,398.8 L442.9,399.8 L443.3,400.8 L443.7,401.8 L444.0,402.7 L444.4,403.7 L444.8,404.6 L445.1,405.5 L445.5,406.4 L445.9,407.3 L446.2,408.1 L446.6,409.0 L447.0,409.8 L447.4,410.6 L447.7,411.4 L448.1,412.1 L448.5,412.9 L448.8,413.7 L449.2,414.4 L449.6,415.1 L450.0,415.8 L450.3,416.5 L450.7,417.2 L451.1,417.9 L451.4,418.5 L451.8,419.2 L452.2,419.8 L452.5,420.4 L452.9,421.0 L453.3,421.6 L453.7,422.1 L454.0,422.7 L454.4,423.2 L454.8,423.8 L455.1,424.3 L455.5,424.7 L455.9,425.2 L456.2,425.7 L456.6,426.1 L457.0,426.6 L457.4,427.0 L457.7,427.4 L458.1,427.9 L458.5,428.3 L458.8,428.6 L459.2,429.0 L459.6,429.4 L459.9,429.7 L460.3,430.0 L460.7,430.3 L461.1,430.6 L461.4,430.9 L461.8,431.2 L462.2,431.5 L462.5,431.8 L462.9,432.0 L463.3,432.3 L463.7,432.5 L464.0,432.8 L464.4,433.0 L464.8,433.3 L465.1,433.5 L465.5,433.7 L465.9,434.0 L466.2,434.2 L466.6,434.5 L467.0,434.7 L467.4,434.9 L467.7,435.2 L468.1,435.4 L468.5,435.7 L468.8,435.9 L469.2,436.2 L469.6,436.4 L469.9,436.7 L470.3,436.9 L470.7,437.2 L471.1,437.5 L471.4,437.7 L471.8,438.0 L472.2,438.3 L472.5,438.6 L472.9,438.9 L473.3,439.2 L473.6,439.5 L474.0,439.8 L474.4,440.1 L474.8,440.5 L475.1,440.8 L475.5,441.1 L475.9,441.5 L476.2,441.8 L476.6,442.2 L477.0,442.5 L477.4,442.9 L477.7,443.2 L478.1,443.6 L478.5,443.9 L478.8,444.3 L479.2,444.6 L479.6,445.0 L479.9,445.3 L480.3,445.7 L480.7,446.0 L481.1,446.3 L481.4,446.7 L481.8,447.0 L482.2,447.3 L482.5,447.6 L482.9,447.9 L483.3,448.2 L483.6,448.5 L484.0,448.8 L484.4,449.1 L484.8,449.4 L485.1,449.6 L485.5,449.9 L485.9,450.2 L486.2,450.4 L486.6,450.7 L487.0,450.9 L487.3,451.2 L487.7,451.4 L488.1,451.7 L488.5,451.9 L488.8,452.1 L489.2,452.4 L489.6,452.6 L489.9,452.8 L490.3,453.0 L490.7,453.2 L491.1,453.4 L491.4,453.7 L491.8,453.9 L492.2,454.1 L492.5,454.3 L492.9,454.5 L493.3,454.7 L493.6,454.9 L494.0,455.1 L494.4,455.2 L494.8,455.4 L495.1,455.6 L495.5,455.8 L495.9,456.0 L496.2,456.2 L496.6,456.3 L497.0,456.5 L497.3,456.7 L497.7,456.8 L498.1,457.0 L498.5,457.2 L498.8,457.3 L499.2,457.5 L499.6,457.6 L499.9,457.8 L500.3,457.9 L500.7,458.1 L501.0,458.2 L501.4,458.4 L501.8,458.5 L502.2,458.6 L502.5,458.8 L502.9,458.9 L503.3,459.0 L503.6,459.2 L504.0,459.3 L504.4,459.5 L504.8,459.6 L505.1,459.7 L505.5,459.9 L505.9,460.0 L506.2,460.1 L506.6,460.3 L507.0,460.4 L507.3,460.6 L507.7,460.7 L508.1,460.9 L508.5,461.0 L508.8,461.2 L509.2,461.3 L509.6,461.5 L509.9,461.6 L510.3,461.8 L510.7,461.9 L511.0,462.1 L511.4,462.3 L511.8,462.4 L512.2,462.6 L512.5,462.8 L512.9,462.9 L513.3,463.1 L513.6,463.3 L514.0,463.5 L514.4,463.6 L514.7,463.8 L515.1,464.0 L515.5,464.2 L515.9,464.3 L516.2,464.5 L516.6,464.7 L517.0,464.9 L517.3,465.0 L517.7,465.2 L518.1,465.4 L518.5,465.5 L518.8,465.7 L519.2,465.9 L519.6,466.0 L519.9,466.2 L520.3,466.3 L520.7,466.5 L521.0,466.6 L521.4,466.8 L521.8,466.9 L522.2,467.1 L522.5,467.2 L522.9,467.4 L523.3,467.5 L523.6,467.6 L524.0,467.8 L524.4,467.9 L524.7,468.0 L525.1,468.2 L525.5,468.3 L525.9,468.4 L526.2,468.5 L526.6,468.7 L527.0,468.8 L527.3,468.9 L527.7,469.0 L528.1,469.1 L528.5,469.3 L528.8,469.4 L529.2,469.5 L529.6,469.6 L529.9,469.7 L530.3,469.8 L530.7,469.9 L531.0,470.1 L531.4,470.2 L531.8,470.3 L532.2,470.4 L532.5,470.5 L532.9,470.6 L533.3,470.7 L533.6,470.8 L534.0,471.0 L534.4,471.1 L534.7,471.2 L535.1,471.3 L535.5,471.4 L535.9,471.5 L536.2,471.6 L536.6,471.7 L537.0,471.8 L537.3,471.9 L537.7,472.1 L538.1,472.2 L538.4,472.3 L538.8,472.4 L539.2,472.5 L539.6,472.6 L539.9,472.7 L540.3,472.8 L540.7,472.9 L541.0,473.0 L541.4,473.2 L541.8,473.3 L542.2,473.4 L542.5,473.5 L542.9,473.6 L543.3,473.7 L543.6,473.8 L544.0,473.9 L544.4,474.0 L544.7,474.1 L545.1,474.2 L545.5,474.4 L545.9,474.5 L546.2,474.6 L546.6,474.7 L547.0,474.8 L547.3,474.9 L547.7,475.0 L548.1,475.1 L548.4,475.2 L548.8,475.3 L549.2,475.4 L549.6,475.5 L549.9,475.6 L550.3,475.7 L550.7,475.8 L551.0,475.9 L551.4,476.0 L551.8,476.1 L552.1,476.1 L552.5,476.2 L552.9,476.3 L553.3,476.4 L553.6,476.5 L554.0,476.6" stroke-width="2.6"/>
<path d="M332.2,216.1 L332.6,216.1 L332.9,216.1 L333.3,216.1 L333.7,216.2 L334.1,216.2 L334.4,216.2 L334.8,216.2 L335.2,216.2 L335.5,216.2 L335.9,216.2 L336.3,216.2 L336.6,216.3 L337.0,216.3 L337.4,216.3 L337.8,216.3 L338.1,216.3 L338.5,216.3 L338.9,216.3 L339.2,216.3 L339.6,216.4 L340.0,216.4 L340.3,216.4 L340.7,216.4 L341.1,216.4 L341.5,216.4 L341.8,216.4 L342.2,216.4 L342.6,216.5 L342.9,216.5 L343.3,216.5 L343.7,216.5 L344.0,216.5 L344.4,216.5 L344.8,216.5 L345.2,216.6 L345.5,216.6 L345.9,216.6 L346.3,216.6 L346.6,216.6 L347.0,216.6 L347.4,216.7 L347.8,216.7 L348.1,216.7 L348.5,216.7 L348.9,216.7 L349.2,216.8 L349.6,216.8 L350.0,216.8 L350.3,216.8 L350.7,216.9 L351.1,216.9 L351.5,216.9 L351.8,216.9 L352.2,217.0 L352.6,217.0 L352.9,217.0 L353.3,217.1 L353.7,217.1 L354.0,217.1 L354.4,217.2 L354.8,217.2 L355.2,217.3 L355.5,217.3 L355.9,217.4 L356.3,217.4 L356.6,217.5 L357.0,217.5 L357.4,217.6 L357.7,217.6 L358.1,217.7 L358.5,217.8 L358.9,217.8 L359.2,217.9 L359.6,218.0 L360.0,218.1 L360.3,218.1 L360.7,218.2 L361.1,218.3 L361.5,218.4 L361.8,218.5 L362.2,218.6 L362.6,218.7 L362.9,218.9 L363.3,219.0 L363.7,219.1 L364.0,219.2 L364.4,219.4 L364.8,219.5 L365.2,219.7 L365.5,219.8 L365.9,220.0 L366.3,220.2 L366.6,220.3 L367.0,220.5 L367.4,220.7 L367.7,220.9 L368.1,221.1 L368.5,221.3 L368.9,221.5 L369.2,221.7 L369.6,222.0 L370.0,222.2 L370.3,222.4 L370.7,222.7 L371.1,223.0 L371.5,223.3 L371.8,223.6 L372.2,223.9 L372.6,224.2 L372.9,224.5 L373.3,224.9 L373.7,225.3 L374.0,225.6 L374.4,226.0 L374.8,226.4 L375.2,226.9 L375.5,227.3 L375.9,227.8 L376.3,228.3 L376.6,228.8 L377.0,229.3 L377.4,229.8 L377.7,230.4 L378.1,230.9 L378.5,231.5 L378.9,232.1 L379.2,232.7 L379.6,233.3 L380.0,234.0 L380.3,234.6 L380.7,235.3 L381.1,236.0 L381.4,236.7 L381.8,237.4 L382.2,238.1 L382.6,238.8 L382.9,239.5 L383.3,240.3 L383.7,241.1 L384.0,241.8 L384.4,242.6 L384.8,243.4 L385.2,244.2 L385.5,245.0 L385.9,245.8 L386.3,246.6 L386.6,247.4 L387.0,248.3 L387.4,249.1 L387.7,249.9 L388.1,250.8 L388.5,251.6 L388.9,252.5 L389.2,253.3 L389.6,254.2 L390.0,255.0 L390.3,255.9 L390.7,256.8 L391.1,257.6 L391.4,258.5 L391.8,259.4 L392.2,260.2 L392.6,261.1 L392.9,261.9 L393.3,262.8 L393.7,263.7 L394.0,264.5 L394.4,265.4 L394.8,266.2 L395.1,267.1 L395.5,268.0 L395.9,268.8 L396.3,269.7 L396.6,270.5 L397.0,271.4 L397.4,272.2 L397.7,273.1 L398.1,274.0 L398.5,274.8 L398.9,275.7 L399.2,276.6 L399.6,277.4 L400.0,278.3 L400.3,279.2 L400.7,280.1 L401.1,281.0 L401.4,281.9 L401.8,282.8 L402.2,283.7 L402.6,284.6 L402.9,285.5 L403.3,286.5 L403.7,287.4 L404.0,288.4 L404.4,289.3 L404.8,290.3 L405.1,291.3 L405.5,292.2 L405.9,293.2 L406.3,294.2 L406.6,295.2 L407.0,296.3 L407.4,297.3 L407.7,298.3 L408.1,299.4 L408.5,300.4 L408.8,301.5 L409.2,302.6 L409.6,303.7 L410.0,304.8 L410.3,305.9 L410.7,307.0 L411.1,308.1 L411.4,309.3 L411.8,310.4 L412.2,311.6 L412.6,312.8 L412.9,313.9 L413.3,315.1 L413.7,316.3 L414.0,317.5 L414.4,318.7 L414.8,319.9 L415.1,321.1 L415.5,322.3 L415.9,323.6 L416.3,324.8 L416.6,326.0 L417.0,327.2 L417.4,328.5 L417.7,329.7 L418.1,331.0 L418.5,332.2 L418.8,333.4 L419.2,334.7 L419.6,335.9 L420.0,337.2 L420.3,338.4 L420.7,339.7 L421.1,340.9 L421.4,342.1 L421.8,343.4 L422.2,344.6 L422.5,345.9 L422.9,347.1 L423.3,348.4 L423.7,349.7 L424.0,351.0 L424.4,352.3 L424.8,353.7 L425.1,355.0 L425.5,356.4 L425.9,357.7 L426.3,359.1 L426.6,360.5 L427.0,361.8 L427.4,363.2 L427.7,364.6 L428.1,365.9 L428.5,367.3 L428.8,368.6 L429.2,369.9 L429.6,371.2 L430.0,372.5 L430.3,373.8 L430.7,375.1 L431.1,376.3 L431.4,377.5 L431.8,378.7 L432.2,379.9 L432.5,381.0 L432.9,382.1 L433.3,383.2 L433.7,384.2 L434.0,385.2 L434.4,386.2 L434.8,387.1 L435.1,388.1 L435.5,389.0 L435.9,389.9 L436.2,390.8 L436.6,391.7 L437.0,392.6 L437.4,393.4 L437.7,394.3 L438.1,395.1 L438.5,396.0 L438.8,396.8 L439.2,397.6 L439.6,398.4 L440.0,399.2 L440.3,400.0 L440.7,400.8 L441.1,401.5 L441.4,402.3 L441.8,403.1 L442.2,403.8 L442.5,404.5 L442.9,405.3 L443.3,406.0 L443.7,406.7 L444.0,407.4 L444.4,408.1 L444.8,408.8 L445.1,409.4 L445.5,410.1 L445.9,410.8 L446.2,411.4 L446.6,412.1 L447.0,412.7 L447.4,413.3 L447.7,413.9 L448.1,414.6 L448.5,415.2 L448.8,415.8 L449.2,416.3 L449.6,416.9 L450.0,417.5 L450.3,418.1 L450.7,418.6 L451.1,419.2 L451.4,419.7 L451.8,420.2 L452.2,420.7 L452.5,421.3 L452.9,421.8 L453.3,422.3 L453.7,422.7 L454.0,423.2 L454.4,423.7 L454.8,424.2 L455.1,424.6 L455.5,425.1 L455.9,425.5 L456.2,426.0 L456.6,426.4 L457.0,426.8 L457.4,427.2 L457.7,427.7 L458.1,428.1 L458.5,428.5 L458.8,428.9 L459.2,429.3 L459.6,429.7 L459.9,430.0 L460.3,430.4 L460.7,430.7 L461.1,431.1 L461.4,431.4 L461.8,431.8 L462.2,432.1 L462.5,432.4 L462.9,432.7 L463.3,433.0 L463.7,433.3 L464.0,433.6 L464.4,433.9 L464.8,434.2 L465.1,434.5 L465.5,434.8 L465.9,435.1 L466.2,435.3 L466.6,435.6 L467.0,435.9 L467.4,436.2 L467.7,436.5 L468.1,436.7 L468.5,437.0 L468.8,437.3 L469.2,437.6 L469.6,437.9 L469.9,438.1 L470.3,438.4 L470.7,438.7 L471.1,439.0 L471.4,439.3 L471.8,439.6 L472.2,439.8 L472.5,440.1 L472.9,440.4 L473.3,440.7 L473.6,441.0 L474.0,441.3 L474.4,441.6 L474.8,441.9 L475.1,442.2 L475.5,442.5 L475.9,442.8 L476.2,443.1 L476.6,443.4 L477.0,443.7 L477.4,444.0 L477.7,444.3 L478.1,444.6 L478.5,444.8 L478.8,445.1 L479.2,445.4 L479.6,445.7 L479.9,446.0 L480.3,446.3 L480.7,446.6 L481.1,446.9 L481.4,447.2 L481.8,447.4 L482.2,447.7 L482.5,448.0 L482.9,448.3 L483.3,448.5 L483.6,448.8 L484.0,449.0 L484.4,449.3 L484.8,449.6 L485.1,449.8 L485.5,450.1 L485.9,450.3 L486.2,450.6 L486.6,450.8 L487.0,451.0 L487.3,451.3 L487.7,451.5 L488.1,451.7 L488.5,452.0 L488.8,452.2 L489.2,452.4 L489.6,452.6 L489.9,452.8 L490.3,453.1 L490.7,453.3 L491.1,453.5 L491.4,453.7 L491.8,453.9 L492.2,454.1 L492.5,454.3 L492.9,454.5 L493.3,454.7 L493.6,454.9 L494.0,455.1 L494.4,455.3 L494.8,455.4 L495.1,455.6 L495.5,455.8 L495.9,456.0 L496.2,456.2 L496.6,456.3 L497.0,456.5 L497.3,456.7 L497.7,456.8 L498.1,457.0 L498.5,457.2 L498.8,457.3 L499.2,457.5 L499.6,457.7 L499.9,457.8 L500.3,458.0 L500.7,458.1 L501.0,458.3 L501.4,458.4 L501.8,458.6 L502.2,458.7 L502.5,458.9 L502.9,459.0 L503.3,459.1 L503.6,459.3 L504.0,459.4 L504.4,459.6 L504.8,459.7 L505.1,459.9 L505.5,460.0 L505.9,460.1 L506.2,460.3 L506.6,460.4 L507.0,460.6 L507.3,460.7 L507.7,460.9 L508.1,461.0 L508.5,461.1 L508.8,461.3 L509.2,461.4 L509.6,461.6 L509.9,461.7 L510.3,461.9 L510.7,462.0 L511.0,462.2 L511.4,462.3 L511.8,462.5 L512.2,462.6 L512.5,462.8 L512.9,462.9 L513.3,463.1 L513.6,463.3 L514.0,463.4 L514.4,463.6 L514.7,463.7 L515.1,463.9 L515.5,464.0 L515.9,464.2 L516.2,464.3 L516.6,464.5 L517.0,464.7 L517.3,464.8 L517.7,465.0 L518.1,465.1 L518.5,465.3 L518.8,465.4 L519.2,465.6 L519.6,465.7 L519.9,465.9 L520.3,466.0 L520.7,466.2 L521.0,466.3 L521.4,466.5 L521.8,466.6 L522.2,466.7 L522.5,466.9 L522.9,467.0 L523.3,467.2 L523.6,467.3 L524.0,467.4 L524.4,467.6 L524.7,467.7 L525.1,467.8 L525.5,468.0 L525.9,468.1 L526.2,468.2 L526.6,468.4 L527.0,468.5 L527.3,468.6 L527.7,468.7 L528.1,468.9 L528.5,469.0 L528.8,469.1 L529.2,469.2 L529.6,469.4 L529.9,469.5 L530.3,469.6 L530.7,469.7 L531.0,469.8 L531.4,470.0 L531.8,470.1 L532.2,470.2 L532.5,470.3 L532.9,470.4 L533.3,470.5 L533.6,470.7 L534.0,470.8 L534.4,470.9 L534.7,471.0 L535.1,471.1 L535.5,471.2 L535.9,471.3 L536.2,471.5 L536.6,471.6 L537.0,471.7 L537.3,471.8 L537.7,471.9 L538.1,472.0 L538.4,472.1 L538.8,472.2 L539.2,472.4 L539.6,472.5 L539.9,472.6 L540.3,472.7 L540.7,472.8 L541.0,472.9 L541.4,473.0 L541.8,473.1 L542.2,473.2 L542.5,473.3 L542.9,473.4 L543.3,473.5 L543.6,473.7 L544.0,473.8 L544.4,473.9 L544.7,474.0 L545.1,474.1 L545.5,474.2 L545.9,474.3 L546.2,474.4 L546.6,474.5 L547.0,474.6 L547.3,474.7 L547.7,474.8 L548.1,474.9 L548.4,475.0 L548.8,475.1 L549.2,475.2 L549.6,475.3 L549.9,475.4 L550.3,475.5 L550.7,475.6 L551.0,475.7 L551.4,475.8 L551.8,475.8 L552.1,475.9 L552.5,476.0 L552.9,476.1 L553.3,476.2 L553.6,476.3 L554.0,476.4" stroke-width="2.6"/>
<path d="M332.2,268.1 L332.6,268.1 L332.9,268.1 L333.3,268.1 L333.7,268.1 L334.1,268.1 L334.4,268.1 L334.8,268.1 L335.2,268.1 L335.5,268.1 L335.9,268.1 L336.3,268.1 L336.6,268.1 L337.0,268.2 L337.4,268.2 L337.8,268.2 L338.1,268.2 L338.5,268.2 L338.9,268.2 L339.2,268.2 L339.6,268.2 L340.0,268.2 L340.3,268.2 L340.7,268.2 L341.1,268.2 L341.5,268.2 L341.8,268.3 L342.2,268.3 L342.6,268.3 L342.9,268.3 L343.3,268.3 L343.7,268.3 L344.0,268.3 L344.4,268.3 L344.8,268.3 L345.2,268.4 L345.5,268.4 L345.9,268.4 L346.3,268.4 L346.6,268.4 L347.0,268.4 L347.4,268.5 L347.8,268.5 L348.1,268.5 L348.5,268.5 L348.9,268.5 L349.2,268.6 L349.6,268.6 L350.0,268.6 L350.3,268.6 L350.7,268.7 L351.1,268.7 L351.5,268.7 L351.8,268.8 L352.2,268.8 L352.6,268.8 L352.9,268.9 L353.3,268.9 L353.7,268.9 L354.0,269.0 L354.4,269.0 L354.8,269.1 L355.2,269.1 L355.5,269.2 L355.9,269.2 L356.3,269.3 L356.6,269.3 L357.0,269.4 L357.4,269.4 L357.7,269.5 L358.1,269.6 L358.5,269.6 L358.9,269.7 L359.2,269.8 L359.6,269.9 L360.0,270.0 L360.3,270.0 L360.7,270.1 L361.1,270.2 L361.5,270.3 L361.8,270.4 L362.2,270.5 L362.6,270.6 L362.9,270.7 L363.3,270.9 L363.7,271.0 L364.0,271.1 L364.4,271.2 L364.8,271.4 L365.2,271.5 L365.5,271.7 L365.9,271.8 L366.3,272.0 L366.6,272.2 L367.0,272.3 L367.4,272.5 L367.7,272.7 L368.1,272.9 L368.5,273.1 L368.9,273.3 L369.2,273.5 L369.6,273.8 L370.0,274.0 L370.3,274.2 L370.7,274.5 L371.1,274.7 L371.5,275.0 L371.8,275.3 L372.2,275.6 L372.6,275.9 L372.9,276.2 L373.3,276.5 L373.7,276.8 L374.0,277.1 L374.4,277.5 L374.8,277.8 L375.2,278.1 L375.5,278.5 L375.9,278.9 L376.3,279.3 L376.6,279.7 L377.0,280.0 L377.4,280.5 L377.7,280.9 L378.1,281.3 L378.5,281.7 L378.9,282.2 L379.2,282.6 L379.6,283.1 L380.0,283.5 L380.3,284.0 L380.7,284.4 L381.1,284.9 L381.4,285.4 L381.8,285.9 L382.2,286.3 L382.6,286.8 L382.9,287.3 L383.3,287.8 L383.7,288.3 L384.0,288.8 L384.4,289.4 L384.8,289.9 L385.2,290.4 L385.5,290.9 L385.9,291.5 L386.3,292.0 L386.6,292.6 L387.0,293.1 L387.4,293.7 L387.7,294.2 L388.1,294.8 L388.5,295.3 L388.9,295.9 L389.2,296.5 L389.6,297.1 L390.0,297.7 L390.3,298.3 L390.7,298.9 L391.1,299.5 L391.4,300.1 L391.8,300.7 L392.2,301.3 L392.6,301.9 L392.9,302.5 L393.3,303.2 L393.7,303.8 L394.0,304.4 L394.4,305.1 L394.8,305.7 L395.1,306.3 L395.5,307.0 L395.9,307.6 L396.3,308.3 L396.6,308.9 L397.0,309.6 L397.4,310.2 L397.7,310.9 L398.1,311.6 L398.5,312.2 L398.9,312.9 L399.2,313.6 L399.6,314.2 L400.0,314.9 L400.3,315.6 L400.7,316.3 L401.1,317.0 L401.4,317.7 L401.8,318.4 L402.2,319.2 L402.6,319.9 L402.9,320.6 L403.3,321.3 L403.7,322.1 L404.0,322.8 L404.4,323.6 L404.8,324.3 L405.1,325.1 L405.5,325.9 L405.9,326.7 L406.3,327.4 L406.6,328.2 L407.0,329.0 L407.4,329.8 L407.7,330.7 L408.1,331.5 L408.5,332.3 L408.8,333.1 L409.2,334.0 L409.6,334.8 L410.0,335.6 L410.3,336.5 L410.7,337.4 L411.1,338.2 L411.4,339.1 L411.8,340.0 L412.2,340.8 L412.6,341.7 L412.9,342.6 L413.3,343.5 L413.7,344.4 L414.0,345.3 L414.4,346.2 L414.8,347.1 L415.1,348.1 L415.5,349.0 L415.9,350.0 L416.3,351.0 L416.6,352.0 L417.0,353.0 L417.4,354.1 L417.7,355.1 L418.1,356.1 L418.5,357.2 L418.8,358.3 L419.2,359.3 L419.6,360.4 L420.0,361.5 L420.3,362.6 L420.7,363.7 L421.1,364.7 L421.4,365.8 L421.8,366.9 L422.2,368.0 L422.5,369.0 L422.9,370.1 L423.3,371.1 L423.7,372.2 L424.0,373.2 L424.4,374.2 L424.8,375.2 L425.1,376.2 L425.5,377.2 L425.9,378.2 L426.3,379.1 L426.6,380.1 L427.0,381.0 L427.4,381.9 L427.7,382.8 L428.1,383.6 L428.5,384.5 L428.8,385.3 L429.2,386.1 L429.6,386.8 L430.0,387.6 L430.3,388.4 L430.7,389.1 L431.1,389.9 L431.4,390.6 L431.8,391.3 L432.2,392.1 L432.5,392.8 L432.9,393.5 L433.3,394.2 L433.7,394.9 L434.0,395.5 L434.4,396.2 L434.8,396.9 L435.1,397.5 L435.5,398.2 L435.9,398.8 L436.2,399.5 L436.6,400.1 L437.0,400.7 L437.4,401.4 L437.7,402.0 L438.1,402.6 L438.5,403.2 L438.8,403.8 L439.2,404.4 L439.6,405.0 L440.0,405.6 L440.3,406.2 L440.7,406.8 L441.1,407.3 L441.4,407.9 L441.8,408.5 L442.2,409.0 L442.5,409.6 L442.9,410.1 L443.3,410.7 L443.7,411.2 L444.0,411.8 L444.4,412.3 L444.8,412.8 L445.1,413.4 L445.5,413.9 L445.9,414.4 L446.2,414.9 L446.6,415.4 L447.0,415.9 L447.4,416.4 L447.7,416.9 L448.1,417.4 L448.5,417.9 L448.8,418.4 L449.2,418.9 L449.6,419.4 L450.0,419.8 L450.3,420.3 L450.7,420.8 L451.1,421.2 L451.4,421.7 L451.8,422.1 L452.2,422.6 L452.5,423.0 L452.9,423.4 L453.3,423.9 L453.7,424.3 L454.0,424.7 L454.4,425.1 L454.8,425.6 L455.1,426.0 L455.5,426.4 L455.9,426.8 L456.2,427.2 L456.6,427.6 L457.0,428.0 L457.4,428.4 L457.7,428.8 L458.1,429.2 L458.5,429.6 L458.8,430.0 L459.2,430.4 L459.6,430.7 L459.9,431.1 L460.3,431.5 L460.7,431.8 L461.1,432.2 L461.4,432.5 L461.8,432.8 L462.2,433.2 L462.5,433.5 L462.9,433.8 L463.3,434.2 L463.7,434.5 L464.0,434.8 L464.4,435.1 L464.8,435.4 L465.1,435.7 L465.5,436.0 L465.9,436.3 L466.2,436.6 L466.6,436.9 L467.0,437.2 L467.4,437.5 L467.7,437.8 L468.1,438.1 L468.5,438.3 L468.8,438.6 L469.2,438.9 L469.6,439.2 L469.9,439.5 L470.3,439.7 L470.7,440.0 L471.1,440.3 L471.4,440.6 L471.8,440.9 L472.2,441.1 L472.5,441.4 L472.9,441.7 L473.3,442.0 L473.6,442.2 L474.0,442.5 L474.4,442.8 L474.8,443.0 L475.1,443.3 L475.5,443.6 L475.9,443.9 L476.2,444.1 L476.6,444.4 L477.0,444.7 L477.4,444.9 L477.7,445.2 L478.1,445.4 L478.5,445.7 L478.8,446.0 L479.2,446.2 L479.6,446.5 L479.9,446.7 L480.3,447.0 L480.7,447.3 L481.1,447.5 L481.4,447.8 L481.8,448.0 L482.2,448.3 L482.5,448.5 L482.9,448.7 L483.3,449.0 L483.6,449.2 L484.0,449.5 L484.4,449.7 L484.8,449.9 L485.1,450.2 L485.5,450.4 L485.9,450.6 L486.2,450.9 L486.6,451.1 L487.0,451.3 L487.3,451.5 L487.7,451.7 L488.1,452.0 L488.5,452.2 L488.8,452.4 L489.2,452.6 L489.6,452.8 L489.9,453.0 L490.3,453.2 L490.7,453.4 L491.1,453.6 L491.4,453.8 L491.8,454.0 L492.2,454.2 L492.5,454.4 L492.9,454.6 L493.3,454.8 L493.6,455.0 L494.0,455.2 L494.4,455.3 L494.8,455.5 L495.1,455.7 L495.5,455.9 L495.9,456.0 L496.2,456.2 L496.6,456.4 L497.0,456.6 L497.3,456.7 L497.7,456.9 L498.1,457.1 L498.5,457.2 L498.8,457.4 L499.2,457.5 L499.6,457.7 L499.9,457.9 L500.3,458.0 L500.7,458.2 L501.0,458.3 L501.4,458.5 L501.8,458.6 L502.2,458.8 L502.5,458.9 L502.9,459.1 L503.3,459.2 L503.6,459.4 L504.0,459.5 L504.4,459.6 L504.8,459.8 L505.1,459.9 L505.5,460.1 L505.9,460.2 L506.2,460.4 L506.6,460.5 L507.0,460.6 L507.3,460.8 L507.7,460.9 L508.1,461.1 L508.5,461.2 L508.8,461.4 L509.2,461.5 L509.6,461.6 L509.9,461.8 L510.3,461.9 L510.7,462.1 L511.0,462.2 L511.4,462.4 L511.8,462.5 L512.2,462.6 L512.5,462.8 L512.9,462.9 L513.3,463.1 L513.6,463.2 L514.0,463.4 L514.4,463.5 L514.7,463.6 L515.1,463.8 L515.5,463.9 L515.9,464.1 L516.2,464.2 L516.6,464.4 L517.0,464.5 L517.3,464.7 L517.7,464.8 L518.1,464.9 L518.5,465.1 L518.8,465.2 L519.2,465.4 L519.6,465.5 L519.9,465.6 L520.3,465.8 L520.7,465.9 L521.0,466.1 L521.4,466.2 L521.8,466.3 L522.2,466.5 L522.5,466.6 L522.9,466.8 L523.3,466.9 L523.6,467.0 L524.0,467.2 L524.4,467.3 L524.7,467.4 L525.1,467.6 L525.5,467.7 L525.9,467.8 L526.2,467.9 L526.6,468.1 L527.0,468.2 L527.3,468.3 L527.7,468.5 L528.1,468.6 L528.5,468.7 L528.8,468.8 L529.2,469.0 L529.6,469.1 L529.9,469.2 L530.3,469.3 L530.7,469.5 L531.0,469.6 L531.4,469.7 L531.8,469.8 L532.2,469.9 L532.5,470.1 L532.9,470.2 L533.3,470.3 L533.6,470.4 L534.0,470.5 L534.4,470.7 L534.7,470.8 L535.1,470.9 L535.5,471.0 L535.9,471.1 L536.2,471.2 L536.6,471.3 L537.0,471.5 L537.3,471.6 L537.7,471.7 L538.1,471.8 L538.4,471.9 L538.8,472.0 L539.2,472.1 L539.6,472.2 L539.9,472.4 L540.3,472.5 L540.7,472.6 L541.0,472.7 L541.4,472.8 L541.8,472.9 L542.2,473.0 L542.5,473.1 L542.9,473.2 L543.3,473.3 L543.6,473.4 L544.0,473.5 L544.4,473.6 L544.7,473.8 L545.1,473.9 L545.5,474.0 L545.9,474.1 L546.2,474.2 L546.6,474.3 L547.0,474.4 L547.3,474.5 L547.7,474.6 L548.1,474.7 L548.4,474.8 L548.8,474.9 L549.2,475.0 L549.6,475.1 L549.9,475.1 L550.3,475.2 L550.7,475.3 L551.0,475.4 L551.4,475.5 L551.8,475.6 L552.1,475.7 L552.5,475.8 L552.9,475.9 L553.3,476.0 L553.6,476.1 L554.0,476.1" stroke-width="2.6"/>
<path d="M332.2,300.9 L332.6,300.9 L332.9,300.9 L333.3,300.9 L333.7,301.0 L334.1,301.0 L334.4,301.0 L334.8,301.0 L335.2,301.0 L335.5,301.0 L335.9,301.0 L336.3,301.0 L336.6,301.1 L337.0,301.1 L337.4,301.1 L337.8,301.1 L338.1,301.1 L338.5,301.1 L338.9,301.1 L339.2,301.2 L339.6,301.2 L340.0,301.2 L340.3,301.2 L340.7,301.2 L341.1,301.3 L341.5,301.3 L341.8,301.3 L342.2,301.3 L342.6,301.3 L342.9,301.4 L343.3,301.4 L343.7,301.4 L344.0,301.4 L344.4,301.5 L344.8,301.5 L345.2,301.5 L345.5,301.5 L345.9,301.6 L346.3,301.6 L346.6,301.6 L347.0,301.7 L347.4,301.7 L347.8,301.7 L348.1,301.8 L348.5,301.8 L348.9,301.8 L349.2,301.9 L349.6,301.9 L350.0,301.9 L350.3,302.0 L350.7,302.0 L351.1,302.1 L351.5,302.1 L351.8,302.2 L352.2,302.2 L352.6,302.3 L352.9,302.3 L353.3,302.4 L353.7,302.4 L354.0,302.5 L354.4,302.5 L354.8,302.6 L355.2,302.7 L355.5,302.7 L355.9,302.8 L356.3,302.8 L356.6,302.9 L357.0,303.0 L357.4,303.1 L357.7,303.1 L358.1,303.2 L358.5,303.3 L358.9,303.4 L359.2,303.5 L359.6,303.6 L360.0,303.7 L360.3,303.8 L360.7,303.9 L361.1,304.0 L361.5,304.1 L361.8,304.2 L362.2,304.3 L362.6,304.4 L362.9,304.5 L363.3,304.6 L363.7,304.8 L364.0,304.9 L364.4,305.0 L364.8,305.2 L365.2,305.3 L365.5,305.5 L365.9,305.6 L366.3,305.8 L366.6,305.9 L367.0,306.1 L367.4,306.3 L367.7,306.5 L368.1,306.7 L368.5,306.8 L368.9,307.0 L369.2,307.2 L369.6,307.4 L370.0,307.7 L370.3,307.9 L370.7,308.1 L371.1,308.3 L371.5,308.6 L371.8,308.8 L372.2,309.1 L372.6,309.3 L372.9,309.6 L373.3,309.8 L373.7,310.1 L374.0,310.4 L374.4,310.7 L374.8,311.0 L375.2,311.3 L375.5,311.6 L375.9,311.9 L376.3,312.2 L376.6,312.5 L377.0,312.8 L377.4,313.1 L377.7,313.5 L378.1,313.8 L378.5,314.2 L378.9,314.5 L379.2,314.9 L379.6,315.2 L380.0,315.6 L380.3,316.0 L380.7,316.4 L381.1,316.7 L381.4,317.1 L381.8,317.5 L382.2,317.9 L382.6,318.3 L382.9,318.7 L383.3,319.1 L383.7,319.5 L384.0,320.0 L384.4,320.4 L384.8,320.8 L385.2,321.2 L385.5,321.7 L385.9,322.1 L386.3,322.5 L386.6,323.0 L387.0,323.4 L387.4,323.9 L387.7,324.3 L388.1,324.8 L388.5,325.3 L388.9,325.7 L389.2,326.2 L389.6,326.7 L390.0,327.1 L390.3,327.6 L390.7,328.1 L391.1,328.6 L391.4,329.0 L391.8,329.5 L392.2,330.0 L392.6,330.5 L392.9,331.0 L393.3,331.5 L393.7,332.0 L394.0,332.5 L394.4,333.0 L394.8,333.5 L395.1,334.0 L395.5,334.5 L395.9,335.0 L396.3,335.6 L396.6,336.1 L397.0,336.6 L397.4,337.1 L397.7,337.7 L398.1,338.2 L398.5,338.7 L398.9,339.3 L399.2,339.8 L399.6,340.4 L400.0,340.9 L400.3,341.5 L400.7,342.1 L401.1,342.6 L401.4,343.2 L401.8,343.8 L402.2,344.4 L402.6,345.0 L402.9,345.6 L403.3,346.2 L403.7,346.8 L404.0,347.4 L404.4,348.0 L404.8,348.7 L405.1,349.3 L405.5,350.0 L405.9,350.7 L406.3,351.3 L406.6,352.0 L407.0,352.7 L407.4,353.5 L407.7,354.2 L408.1,354.9 L408.5,355.6 L408.8,356.4 L409.2,357.1 L409.6,357.9 L410.0,358.7 L410.3,359.4 L410.7,360.2 L411.1,361.0 L411.4,361.8 L411.8,362.5 L412.2,363.3 L412.6,364.1 L412.9,364.9 L413.3,365.7 L413.7,366.5 L414.0,367.3 L414.4,368.1 L414.8,368.9 L415.1,369.7 L415.5,370.5 L415.9,371.3 L416.3,372.1 L416.6,372.9 L417.0,373.6 L417.4,374.4 L417.7,375.2 L418.1,376.0 L418.5,376.7 L418.8,377.5 L419.2,378.3 L419.6,379.0 L420.0,379.8 L420.3,380.5 L420.7,381.2 L421.1,381.9 L421.4,382.6 L421.8,383.3 L422.2,384.0 L422.5,384.7 L422.9,385.4 L423.3,386.0 L423.7,386.7 L424.0,387.4 L424.4,388.0 L424.8,388.6 L425.1,389.3 L425.5,389.9 L425.9,390.5 L426.3,391.1 L426.6,391.7 L427.0,392.3 L427.4,392.9 L427.7,393.5 L428.1,394.1 L428.5,394.7 L428.8,395.3 L429.2,395.9 L429.6,396.4 L430.0,397.0 L430.3,397.5 L430.7,398.1 L431.1,398.7 L431.4,399.2 L431.8,399.7 L432.2,400.3 L432.5,400.8 L432.9,401.3 L433.3,401.9 L433.7,402.4 L434.0,402.9 L434.4,403.4 L434.8,403.9 L435.1,404.4 L435.5,404.9 L435.9,405.4 L436.2,405.9 L436.6,406.4 L437.0,406.9 L437.4,407.4 L437.7,407.9 L438.1,408.4 L438.5,408.8 L438.8,409.3 L439.2,409.8 L439.6,410.2 L440.0,410.7 L440.3,411.2 L440.7,411.6 L441.1,412.1 L441.4,412.6 L441.8,413.0 L442.2,413.5 L442.5,413.9 L442.9,414.4 L443.3,414.8 L443.7,415.3 L444.0,415.7 L444.4,416.1 L444.8,416.6 L445.1,417.0 L445.5,417.4 L445.9,417.9 L446.2,418.3 L446.6,418.7 L447.0,419.1 L447.4,419.6 L447.7,420.0 L448.1,420.4 L448.5,420.8 L448.8,421.2 L449.2,421.6 L449.6,422.0 L450.0,422.4 L450.3,422.8 L450.7,423.2 L451.1,423.6 L451.4,424.0 L451.8,424.4 L452.2,424.8 L452.5,425.2 L452.9,425.6 L453.3,426.0 L453.7,426.3 L454.0,426.7 L454.4,427.1 L454.8,427.5 L455.1,427.9 L455.5,428.2 L455.9,428.6 L456.2,429.0 L456.6,429.3 L457.0,429.7 L457.4,430.1 L457.7,430.4 L458.1,430.8 L458.5,431.2 L458.8,431.5 L459.2,431.9 L459.6,432.2 L459.9,432.6 L460.3,432.9 L460.7,433.3 L461.1,433.6 L461.4,433.9 L461.8,434.2 L462.2,434.6 L462.5,434.9 L462.9,435.2 L463.3,435.5 L463.7,435.8 L464.0,436.1 L464.4,436.4 L464.8,436.7 L465.1,437.0 L465.5,437.3 L465.9,437.6 L466.2,437.9 L466.6,438.2 L467.0,438.5 L467.4,438.8 L467.7,439.0 L468.1,439.3 L468.5,439.6 L468.8,439.9 L469.2,440.1 L469.6,440.4 L469.9,440.7 L470.3,441.0 L470.7,441.2 L471.1,441.5 L471.4,441.7 L471.8,442.0 L472.2,442.3 L472.5,442.5 L472.9,442.8 L473.3,443.0 L473.6,443.3 L474.0,443.6 L474.4,443.8 L474.8,444.1 L475.1,444.3 L475.5,444.6 L475.9,444.8 L476.2,445.1 L476.6,445.3 L477.0,445.6 L477.4,445.8 L477.7,446.0 L478.1,446.3 L478.5,446.5 L478.8,446.8 L479.2,447.0 L479.6,447.2 L479.9,447.5 L480.3,447.7 L480.7,447.9 L481.1,448.2 L481.4,448.4 L481.8,448.6 L482.2,448.8 L482.5,449.1 L482.9,449.3 L483.3,449.5 L483.6,449.7 L484.0,450.0 L484.4,450.2 L484.8,450.4 L485.1,450.6 L485.5,450.8 L485.9,451.0 L486.2,451.2 L486.6,451.4 L487.0,451.7 L487.3,451.9 L487.7,452.1 L488.1,452.3 L488.5,452.5 L488.8,452.7 L489.2,452.9 L489.6,453.1 L489.9,453.3 L490.3,453.4 L490.7,453.6 L491.1,453.8 L491.4,454.0 L491.8,454.2 L492.2,454.4 L492.5,454.6 L492.9,454.7 L493.3,454.9 L493.6,455.1 L494.0,455.3 L494.4,455.5 L494.8,455.6 L495.1,455.8 L495.5,456.0 L495.9,456.1 L496.2,456.3 L496.6,456.5 L497.0,456.6 L497.3,456.8 L497.7,457.0 L498.1,457.1 L498.5,457.3 L498.8,457.4 L499.2,457.6 L499.6,457.8 L499.9,457.9 L500.3,458.1 L500.7,458.2 L501.0,458.4 L501.4,458.5 L501.8,458.7 L502.2,458.8 L502.5,459.0 L502.9,459.1 L503.3,459.3 L503.6,459.4 L504.0,459.5 L504.4,459.7 L504.8,459.8 L505.1,460.0 L505.5,460.1 L505.9,460.3 L506.2,460.4 L506.6,460.5 L507.0,460.7 L507.3,460.8 L507.7,461.0 L508.1,461.1 L508.5,461.2 L508.8,461.4 L509.2,461.5 L509.6,461.6 L509.9,461.8 L510.3,461.9 L510.7,462.1 L511.0,462.2 L511.4,462.3 L511.8,462.5 L512.2,462.6 L512.5,462.7 L512.9,462.9 L513.3,463.0 L513.6,463.2 L514.0,463.3 L514.4,463.4 L514.7,463.6 L515.1,463.7 L515.5,463.8 L515.9,464.0 L516.2,464.1 L516.6,464.3 L517.0,464.4 L517.3,464.5 L517.7,464.7 L518.1,464.8 L518.5,464.9 L518.8,465.1 L519.2,465.2 L519.6,465.3 L519.9,465.5 L520.3,465.6 L520.7,465.7 L521.0,465.9 L521.4,466.0 L521.8,466.1 L522.2,466.3 L522.5,466.4 L522.9,466.5 L523.3,466.7 L523.6,466.8 L524.0,466.9 L524.4,467.1 L524.7,467.2 L525.1,467.3 L525.5,467.4 L525.9,467.6 L526.2,467.7 L526.6,467.8 L527.0,468.0 L527.3,468.1 L527.7,468.2 L528.1,468.3 L528.5,468.5 L528.8,468.6 L529.2,468.7 L529.6,468.8 L529.9,468.9 L530.3,469.1 L530.7,469.2 L531.0,469.3 L531.4,469.4 L531.8,469.6 L532.2,469.7 L532.5,469.8 L532.9,469.9 L533.3,470.0 L533.6,470.2 L534.0,470.3 L534.4,470.4 L534.7,470.5 L535.1,470.6 L535.5,470.7 L535.9,470.9 L536.2,471.0 L536.6,471.1 L537.0,471.2 L537.3,471.3 L537.7,471.4 L538.1,471.5 L538.4,471.6 L538.8,471.8 L539.2,471.9 L539.6,472.0 L539.9,472.1 L540.3,472.2 L540.7,472.3 L541.0,472.4 L541.4,472.5 L541.8,472.6 L542.2,472.7 L542.5,472.9 L542.9,473.0 L543.3,473.1 L543.6,473.2 L544.0,473.3 L544.4,473.4 L544.7,473.5 L545.1,473.6 L545.5,473.7 L545.9,473.8 L546.2,473.9 L546.6,474.0 L547.0,474.1 L547.3,474.2 L547.7,474.3 L548.1,474.4 L548.4,474.5 L548.8,474.6 L549.2,474.7 L549.6,474.8 L549.9,474.9 L550.3,475.0 L550.7,475.1 L551.0,475.2 L551.4,475.2 L551.8,475.3 L552.1,475.4 L552.5,475.5 L552.9,475.6 L553.3,475.7 L553.6,475.8 L554.0,475.9" stroke-width="2.6"/>
<path d="M332.2,325.3 L332.6,325.3 L332.9,325.3 L333.3,325.3 L333.7,325.3 L334.1,325.3 L334.4,325.3 L334.8,325.3 L335.2,325.3 L335.5,325.3 L335.9,325.3 L336.3,325.3 L336.6,325.4 L337.0,325.4 L337.4,325.4 L337.8,325.4 L338.1,325.4 L338.5,325.4 L338.9,325.4 L339.2,325.4 L339.6,325.4 L340.0,325.4 L340.3,325.5 L340.7,325.5 L341.1,325.5 L341.5,325.5 L341.8,325.5 L342.2,325.5 L342.6,325.5 L342.9,325.6 L343.3,325.6 L343.7,325.6 L344.0,325.6 L344.4,325.6 L344.8,325.6 L345.2,325.7 L345.5,325.7 L345.9,325.7 L346.3,325.7 L346.6,325.8 L347.0,325.8 L347.4,325.8 L347.8,325.8 L348.1,325.9 L348.5,325.9 L348.9,325.9 L349.2,325.9 L349.6,326.0 L350.0,326.0 L350.3,326.0 L350.7,326.1 L351.1,326.1 L351.5,326.1 L351.8,326.2 L352.2,326.2 L352.6,326.3 L352.9,326.3 L353.3,326.3 L353.7,326.4 L354.0,326.4 L354.4,326.5 L354.8,326.5 L355.2,326.6 L355.5,326.6 L355.9,326.7 L356.3,326.8 L356.6,326.8 L357.0,326.9 L357.4,326.9 L357.7,327.0 L358.1,327.1 L358.5,327.1 L358.9,327.2 L359.2,327.3 L359.6,327.4 L360.0,327.4 L360.3,327.5 L360.7,327.6 L361.1,327.7 L361.5,327.8 L361.8,327.9 L362.2,328.0 L362.6,328.1 L362.9,328.2 L363.3,328.3 L363.7,328.4 L364.0,328.5 L364.4,328.6 L364.8,328.7 L365.2,328.8 L365.5,328.9 L365.9,329.1 L366.3,329.2 L366.6,329.3 L367.0,329.5 L367.4,329.6 L367.7,329.8 L368.1,329.9 L368.5,330.1 L368.9,330.2 L369.2,330.4 L369.6,330.6 L370.0,330.8 L370.3,330.9 L370.7,331.1 L371.1,331.3 L371.5,331.6 L371.8,331.8 L372.2,332.0 L372.6,332.2 L372.9,332.4 L373.3,332.7 L373.7,332.9 L374.0,333.2 L374.4,333.4 L374.8,333.7 L375.2,334.0 L375.5,334.2 L375.9,334.5 L376.3,334.8 L376.6,335.1 L377.0,335.4 L377.4,335.7 L377.7,336.0 L378.1,336.3 L378.5,336.6 L378.9,336.9 L379.2,337.2 L379.6,337.5 L380.0,337.9 L380.3,338.2 L380.7,338.5 L381.1,338.9 L381.4,339.2 L381.8,339.6 L382.2,339.9 L382.6,340.3 L382.9,340.6 L383.3,341.0 L383.7,341.4 L384.0,341.7 L384.4,342.1 L384.8,342.5 L385.2,342.9 L385.5,343.3 L385.9,343.6 L386.3,344.0 L386.6,344.4 L387.0,344.8 L387.4,345.2 L387.7,345.6 L388.1,346.0 L388.5,346.4 L388.9,346.8 L389.2,347.3 L389.6,347.7 L390.0,348.1 L390.3,348.5 L390.7,349.0 L391.1,349.4 L391.4,349.9 L391.8,350.3 L392.2,350.8 L392.6,351.2 L392.9,351.7 L393.3,352.2 L393.7,352.7 L394.0,353.1 L394.4,353.6 L394.8,354.1 L395.1,354.6 L395.5,355.1 L395.9,355.6 L396.3,356.1 L396.6,356.6 L397.0,357.1 L397.4,357.6 L397.7,358.1 L398.1,358.6 L398.5,359.1 L398.9,359.6 L399.2,360.1 L399.6,360.7 L400.0,361.2 L400.3,361.7 L400.7,362.2 L401.1,362.8 L401.4,363.3 L401.8,363.8 L402.2,364.4 L402.6,364.9 L402.9,365.5 L403.3,366.0 L403.7,366.6 L404.0,367.1 L404.4,367.7 L404.8,368.2 L405.1,368.8 L405.5,369.3 L405.9,369.9 L406.3,370.4 L406.6,371.0 L407.0,371.6 L407.4,372.1 L407.7,372.7 L408.1,373.3 L408.5,373.8 L408.8,374.4 L409.2,374.9 L409.6,375.5 L410.0,376.1 L410.3,376.6 L410.7,377.2 L411.1,377.8 L411.4,378.3 L411.8,378.9 L412.2,379.4 L412.6,380.0 L412.9,380.6 L413.3,381.1 L413.7,381.7 L414.0,382.2 L414.4,382.8 L414.8,383.3 L415.1,383.9 L415.5,384.4 L415.9,385.0 L416.3,385.5 L416.6,386.0 L417.0,386.6 L417.4,387.1 L417.7,387.6 L418.1,388.2 L418.5,388.7 L418.8,389.2 L419.2,389.7 L419.6,390.2 L420.0,390.8 L420.3,391.3 L420.7,391.8 L421.1,392.3 L421.4,392.8 L421.8,393.3 L422.2,393.8 L422.5,394.3 L422.9,394.8 L423.3,395.3 L423.7,395.8 L424.0,396.3 L424.4,396.7 L424.8,397.2 L425.1,397.7 L425.5,398.2 L425.9,398.7 L426.3,399.1 L426.6,399.6 L427.0,400.1 L427.4,400.5 L427.7,401.0 L428.1,401.4 L428.5,401.9 L428.8,402.3 L429.2,402.8 L429.6,403.2 L430.0,403.7 L430.3,404.1 L430.7,404.6 L431.1,405.0 L431.4,405.4 L431.8,405.9 L432.2,406.3 L432.5,406.7 L432.9,407.2 L433.3,407.6 L433.7,408.0 L434.0,408.4 L434.4,408.9 L434.8,409.3 L435.1,409.7 L435.5,410.1 L435.9,410.5 L436.2,410.9 L436.6,411.3 L437.0,411.7 L437.4,412.1 L437.7,412.5 L438.1,413.0 L438.5,413.4 L438.8,413.8 L439.2,414.1 L439.6,414.5 L440.0,414.9 L440.3,415.3 L440.7,415.7 L441.1,416.1 L441.4,416.5 L441.8,416.9 L442.2,417.3 L442.5,417.7 L442.9,418.0 L443.3,418.4 L443.7,418.8 L444.0,419.2 L444.4,419.6 L444.8,419.9 L445.1,420.3 L445.5,420.7 L445.9,421.1 L446.2,421.4 L446.6,421.8 L447.0,422.2 L447.4,422.5 L447.7,422.9 L448.1,423.3 L448.5,423.6 L448.8,424.0 L449.2,424.3 L449.6,424.7 L450.0,425.1 L450.3,425.4 L450.7,425.8 L451.1,426.1 L451.4,426.5 L451.8,426.8 L452.2,427.2 L452.5,427.5 L452.9,427.9 L453.3,428.2 L453.7,428.6 L454.0,428.9 L454.4,429.2 L454.8,429.6 L455.1,429.9 L455.5,430.3 L455.9,430.6 L456.2,430.9 L456.6,431.3 L457.0,431.6 L457.4,431.9 L457.7,432.3 L458.1,432.6 L458.5,432.9 L458.8,433.3 L459.2,433.6 L459.6,433.9 L459.9,434.2 L460.3,434.5 L460.7,434.8 L461.1,435.2 L461.4,435.5 L461.8,435.8 L462.2,436.1 L462.5,436.4 L462.9,436.7 L463.3,436.9 L463.7,437.2 L464.0,437.5 L464.4,437.8 L464.8,438.1 L465.1,438.4 L465.5,438.7 L465.9,438.9 L466.2,439.2 L466.6,439.5 L467.0,439.7 L467.4,440.0 L467.7,440.3 L468.1,440.5 L468.5,440.8 L468.8,441.1 L469.2,441.3 L469.6,441.6 L469.9,441.8 L470.3,442.1 L470.7,442.3 L471.1,442.6 L471.4,442.8 L471.8,443.1 L472.2,443.3 L472.5,443.6 L472.9,443.8 L473.3,444.0 L473.6,444.3 L474.0,444.5 L474.4,444.8 L474.8,445.0 L475.1,445.2 L475.5,445.5 L475.9,445.7 L476.2,445.9 L476.6,446.2 L477.0,446.4 L477.4,446.6 L477.7,446.8 L478.1,447.1 L478.5,447.3 L478.8,447.5 L479.2,447.7 L479.6,447.9 L479.9,448.2 L480.3,448.4 L480.7,448.6 L481.1,448.8 L481.4,449.0 L481.8,449.2 L482.2,449.4 L482.5,449.6 L482.9,449.8 L483.3,450.0 L483.6,450.3 L484.0,450.5 L484.4,450.7 L484.8,450.9 L485.1,451.1 L485.5,451.3 L485.9,451.5 L486.2,451.6 L486.6,451.8 L487.0,452.0 L487.3,452.2 L487.7,452.4 L488.1,452.6 L488.5,452.8 L488.8,453.0 L489.2,453.2 L489.6,453.3 L489.9,453.5 L490.3,453.7 L490.7,453.9 L491.1,454.1 L491.4,454.2 L491.8,454.4 L492.2,454.6 L492.5,454.8 L492.9,454.9 L493.3,455.1 L493.6,455.3 L494.0,455.4 L494.4,455.6 L494.8,455.8 L495.1,455.9 L495.5,456.1 L495.9,456.3 L496.2,456.4 L496.6,456.6 L497.0,456.8 L497.3,456.9 L497.7,457.1 L498.1,457.2 L498.5,457.4 L498.8,457.5 L499.2,457.7 L499.6,457.8 L499.9,458.0 L500.3,458.1 L500.7,458.3 L501.0,458.4 L501.4,458.6 L501.8,458.7 L502.2,458.9 L502.5,459.0 L502.9,459.2 L503.3,459.3 L503.6,459.4 L504.0,459.6 L504.4,459.7 L504.8,459.9 L505.1,460.0 L505.5,460.1 L505.9,460.3 L506.2,460.4 L506.6,460.6 L507.0,460.7 L507.3,460.8 L507.7,461.0 L508.1,461.1 L508.5,461.2 L508.8,461.4 L509.2,461.5 L509.6,461.6 L509.9,461.8 L510.3,461.9 L510.7,462.0 L511.0,462.2 L511.4,462.3 L511.8,462.4 L512.2,462.6 L512.5,462.7 L512.9,462.8 L513.3,463.0 L513.6,463.1 L514.0,463.2 L514.4,463.4 L514.7,463.5 L515.1,463.6 L515.5,463.8 L515.9,463.9 L516.2,464.0 L516.6,464.2 L517.0,464.3 L517.3,464.4 L517.7,464.5 L518.1,464.7 L518.5,464.8 L518.8,464.9 L519.2,465.1 L519.6,465.2 L519.9,465.3 L520.3,465.4 L520.7,465.6 L521.0,465.7 L521.4,465.8 L521.8,466.0 L522.2,466.1 L522.5,466.2 L522.9,466.3 L523.3,466.5 L523.6,466.6 L524.0,466.7 L524.4,466.8 L524.7,467.0 L525.1,467.1 L525.5,467.2 L525.9,467.3 L526.2,467.5 L526.6,467.6 L527.0,467.7 L527.3,467.8 L527.7,468.0 L528.1,468.1 L528.5,468.2 L528.8,468.3 L529.2,468.5 L529.6,468.6 L529.9,468.7 L530.3,468.8 L530.7,468.9 L531.0,469.1 L531.4,469.2 L531.8,469.3 L532.2,469.4 L532.5,469.5 L532.9,469.7 L533.3,469.8 L533.6,469.9 L534.0,470.0 L534.4,470.1 L534.7,470.2 L535.1,470.3 L535.5,470.5 L535.9,470.6 L536.2,470.7 L536.6,470.8 L537.0,470.9 L537.3,471.0 L537.7,471.1 L538.1,471.3 L538.4,471.4 L538.8,471.5 L539.2,471.6 L539.6,471.7 L539.9,471.8 L540.3,471.9 L540.7,472.0 L541.0,472.1 L541.4,472.2 L541.8,472.4 L542.2,472.5 L542.5,472.6 L542.9,472.7 L543.3,472.8 L543.6,472.9 L544.0,473.0 L544.4,473.1 L544.7,473.2 L545.1,473.3 L545.5,473.4 L545.9,473.5 L546.2,473.6 L546.6,473.7 L547.0,473.8 L547.3,473.9 L547.7,474.0 L548.1,474.1 L548.4,474.2 L548.8,474.3 L549.2,474.4 L549.6,474.5 L549.9,474.6 L550.3,474.7 L550.7,474.8 L551.0,474.9 L551.4,475.0 L551.8,475.0 L552.1,475.1 L552.5,475.2 L552.9,475.3 L553.3,475.4 L553.6,475.5 L554.0,475.6" stroke-width="2.6"/>
<path d="M332.2,344.3 L332.6,344.3 L332.9,344.3 L333.3,344.3 L333.7,344.3 L334.1,344.3 L334.4,344.3 L334.8,344.3 L335.2,344.4 L335.5,344.4 L335.9,344.4 L336.3,344.4 L336.6,344.4 L337.0,344.4 L337.4,344.4 L337.8,344.5 L338.1,344.5 L338.5,344.5 L338.9,344.5 L339.2,344.5 L339.6,344.6 L340.0,344.6 L340.3,344.6 L340.7,344.6 L341.1,344.7 L341.5,344.7 L341.8,344.7 L342.2,344.7 L342.6,344.8 L342.9,344.8 L343.3,344.8 L343.7,344.8 L344.0,344.9 L344.4,344.9 L344.8,344.9 L345.2,345.0 L345.5,345.0 L345.9,345.0 L346.3,345.1 L346.6,345.1 L347.0,345.2 L347.4,345.2 L347.8,345.2 L348.1,345.3 L348.5,345.3 L348.9,345.4 L349.2,345.4 L349.6,345.5 L350.0,345.5 L350.3,345.6 L350.7,345.6 L351.1,345.7 L351.5,345.7 L351.8,345.8 L352.2,345.8 L352.6,345.9 L352.9,345.9 L353.3,346.0 L353.7,346.1 L354.0,346.1 L354.4,346.2 L354.8,346.3 L355.2,346.3 L355.5,346.4 L355.9,346.5 L356.3,346.6 L356.6,346.6 L357.0,346.7 L357.4,346.8 L357.7,346.9 L358.1,347.0 L358.5,347.0 L358.9,347.1 L359.2,347.2 L359.6,347.3 L360.0,347.4 L360.3,347.5 L360.7,347.6 L361.1,347.7 L361.5,347.8 L361.8,347.9 L362.2,348.0 L362.6,348.1 L362.9,348.2 L363.3,348.3 L363.7,348.5 L364.0,348.6 L364.4,348.7 L364.8,348.8 L365.2,349.0 L365.5,349.1 L365.9,349.2 L366.3,349.4 L366.6,349.5 L367.0,349.6 L367.4,349.8 L367.7,349.9 L368.1,350.1 L368.5,350.2 L368.9,350.4 L369.2,350.6 L369.6,350.7 L370.0,350.9 L370.3,351.1 L370.7,351.3 L371.1,351.5 L371.5,351.7 L371.8,351.9 L372.2,352.1 L372.6,352.3 L372.9,352.5 L373.3,352.7 L373.7,352.9 L374.0,353.1 L374.4,353.4 L374.8,353.6 L375.2,353.8 L375.5,354.1 L375.9,354.3 L376.3,354.5 L376.6,354.8 L377.0,355.1 L377.4,355.3 L377.7,355.6 L378.1,355.8 L378.5,356.1 L378.9,356.4 L379.2,356.6 L379.6,356.9 L380.0,357.2 L380.3,357.5 L380.7,357.8 L381.1,358.1 L381.4,358.4 L381.8,358.7 L382.2,359.0 L382.6,359.3 L382.9,359.6 L383.3,359.9 L383.7,360.2 L384.0,360.5 L384.4,360.8 L384.8,361.1 L385.2,361.5 L385.5,361.8 L385.9,362.1 L386.3,362.4 L386.6,362.8 L387.0,363.1 L387.4,363.4 L387.7,363.7 L388.1,364.1 L388.5,364.4 L388.9,364.8 L389.2,365.1 L389.6,365.4 L390.0,365.8 L390.3,366.1 L390.7,366.5 L391.1,366.9 L391.4,367.2 L391.8,367.6 L392.2,368.0 L392.6,368.3 L392.9,368.7 L393.3,369.1 L393.7,369.5 L394.0,369.8 L394.4,370.2 L394.8,370.6 L395.1,371.0 L395.5,371.4 L395.9,371.8 L396.3,372.2 L396.6,372.6 L397.0,373.0 L397.4,373.4 L397.7,373.8 L398.1,374.2 L398.5,374.7 L398.9,375.1 L399.2,375.5 L399.6,375.9 L400.0,376.3 L400.3,376.7 L400.7,377.2 L401.1,377.6 L401.4,378.0 L401.8,378.4 L402.2,378.8 L402.6,379.3 L402.9,379.7 L403.3,380.1 L403.7,380.5 L404.0,381.0 L404.4,381.4 L404.8,381.8 L405.1,382.2 L405.5,382.7 L405.9,383.1 L406.3,383.5 L406.6,383.9 L407.0,384.3 L407.4,384.7 L407.7,385.2 L408.1,385.6 L408.5,386.0 L408.8,386.4 L409.2,386.8 L409.6,387.2 L410.0,387.6 L410.3,388.0 L410.7,388.5 L411.1,388.9 L411.4,389.3 L411.8,389.7 L412.2,390.1 L412.6,390.5 L412.9,390.9 L413.3,391.3 L413.7,391.8 L414.0,392.2 L414.4,392.6 L414.8,393.0 L415.1,393.4 L415.5,393.8 L415.9,394.2 L416.3,394.6 L416.6,395.0 L417.0,395.4 L417.4,395.8 L417.7,396.2 L418.1,396.7 L418.5,397.1 L418.8,397.5 L419.2,397.9 L419.6,398.3 L420.0,398.7 L420.3,399.1 L420.7,399.5 L421.1,399.9 L421.4,400.3 L421.8,400.7 L422.2,401.0 L422.5,401.4 L422.9,401.8 L423.3,402.2 L423.7,402.6 L424.0,403.0 L424.4,403.4 L424.8,403.8 L425.1,404.2 L425.5,404.6 L425.9,404.9 L426.3,405.3 L426.6,405.7 L427.0,406.1 L427.4,406.5 L427.7,406.8 L428.1,407.2 L428.5,407.6 L428.8,408.0 L429.2,408.3 L429.6,408.7 L430.0,409.1 L430.3,409.4 L430.7,409.8 L431.1,410.2 L431.4,410.5 L431.8,410.9 L432.2,411.3 L432.5,411.6 L432.9,412.0 L433.3,412.4 L433.7,412.7 L434.0,413.1 L434.4,413.4 L434.8,413.8 L435.1,414.1 L435.5,414.5 L435.9,414.8 L436.2,415.2 L436.6,415.6 L437.0,415.9 L437.4,416.3 L437.7,416.6 L438.1,416.9 L438.5,417.3 L438.8,417.6 L439.2,418.0 L439.6,418.3 L440.0,418.7 L440.3,419.0 L440.7,419.4 L441.1,419.7 L441.4,420.0 L441.8,420.4 L442.2,420.7 L442.5,421.1 L442.9,421.4 L443.3,421.7 L443.7,422.1 L444.0,422.4 L444.4,422.7 L444.8,423.1 L445.1,423.4 L445.5,423.7 L445.9,424.0 L446.2,424.4 L446.6,424.7 L447.0,425.0 L447.4,425.4 L447.7,425.7 L448.1,426.0 L448.5,426.3 L448.8,426.7 L449.2,427.0 L449.6,427.3 L450.0,427.6 L450.3,427.9 L450.7,428.2 L451.1,428.6 L451.4,428.9 L451.8,429.2 L452.2,429.5 L452.5,429.8 L452.9,430.1 L453.3,430.4 L453.7,430.8 L454.0,431.1 L454.4,431.4 L454.8,431.7 L455.1,432.0 L455.5,432.3 L455.9,432.6 L456.2,432.9 L456.6,433.2 L457.0,433.5 L457.4,433.8 L457.7,434.1 L458.1,434.4 L458.5,434.7 L458.8,435.0 L459.2,435.3 L459.6,435.6 L459.9,435.9 L460.3,436.2 L460.7,436.4 L461.1,436.7 L461.4,437.0 L461.8,437.3 L462.2,437.6 L462.5,437.8 L462.9,438.1 L463.3,438.4 L463.7,438.6 L464.0,438.9 L464.4,439.2 L464.8,439.4 L465.1,439.7 L465.5,440.0 L465.9,440.2 L466.2,440.5 L466.6,440.7 L467.0,441.0 L467.4,441.2 L467.7,441.5 L468.1,441.7 L468.5,442.0 L468.8,442.2 L469.2,442.4 L469.6,442.7 L469.9,442.9 L470.3,443.2 L470.7,443.4 L471.1,443.6 L471.4,443.8 L471.8,444.1 L472.2,444.3 L472.5,444.5 L472.9,444.8 L473.3,445.0 L473.6,445.2 L474.0,445.4 L474.4,445.6 L474.8,445.9 L475.1,446.1 L475.5,446.3 L475.9,446.5 L476.2,446.7 L476.6,446.9 L477.0,447.2 L477.4,447.4 L477.7,447.6 L478.1,447.8 L478.5,448.0 L478.8,448.2 L479.2,448.4 L479.6,448.6 L479.9,448.8 L480.3,449.0 L480.7,449.2 L481.1,449.4 L481.4,449.6 L481.8,449.8 L482.2,450.0 L482.5,450.2 L482.9,450.4 L483.3,450.6 L483.6,450.8 L484.0,450.9 L484.4,451.1 L484.8,451.3 L485.1,451.5 L485.5,451.7 L485.9,451.9 L486.2,452.1 L486.6,452.2 L487.0,452.4 L487.3,452.6 L487.7,452.8 L488.1,453.0 L488.5,453.1 L488.8,453.3 L489.2,453.5 L489.6,453.7 L489.9,453.8 L490.3,454.0 L490.7,454.2 L491.1,454.3 L491.4,454.5 L491.8,454.7 L492.2,454.8 L492.5,455.0 L492.9,455.2 L493.3,455.3 L493.6,455.5 L494.0,455.6 L494.4,455.8 L494.8,456.0 L495.1,456.1 L495.5,456.3 L495.9,456.4 L496.2,456.6 L496.6,456.7 L497.0,456.9 L497.3,457.0 L497.7,457.2 L498.1,457.3 L498.5,457.5 L498.8,457.6 L499.2,457.8 L499.6,457.9 L499.9,458.1 L500.3,458.2 L500.7,458.4 L501.0,458.5 L501.4,458.6 L501.8,458.8 L502.2,458.9 L502.5,459.1 L502.9,459.2 L503.3,459.3 L503.6,459.5 L504.0,459.6 L504.4,459.8 L504.8,459.9 L505.1,460.0 L505.5,460.2 L505.9,460.3 L506.2,460.4 L506.6,460.6 L507.0,460.7 L507.3,460.8 L507.7,461.0 L508.1,461.1 L508.5,461.2 L508.8,461.4 L509.2,461.5 L509.6,461.6 L509.9,461.8 L510.3,461.9 L510.7,462.0 L511.0,462.1 L511.4,462.3 L511.8,462.4 L512.2,462.5 L512.5,462.7 L512.9,462.8 L513.3,462.9 L513.6,463.0 L514.0,463.2 L514.4,463.3 L514.7,463.4 L515.1,463.6 L515.5,463.7 L515.9,463.8 L516.2,463.9 L516.6,464.1 L517.0,464.2 L517.3,464.3 L517.7,464.4 L518.1,464.6 L518.5,464.7 L518.8,464.8 L519.2,464.9 L519.6,465.1 L519.9,465.2 L520.3,465.3 L520.7,465.4 L521.0,465.6 L521.4,465.7 L521.8,465.8 L522.2,465.9 L522.5,466.1 L522.9,466.2 L523.3,466.3 L523.6,466.4 L524.0,466.5 L524.4,466.7 L524.7,466.8 L525.1,466.9 L525.5,467.0 L525.9,467.2 L526.2,467.3 L526.6,467.4 L527.0,467.5 L527.3,467.6 L527.7,467.8 L528.1,467.9 L528.5,468.0 L528.8,468.1 L529.2,468.2 L529.6,468.3 L529.9,468.5 L530.3,468.6 L530.7,468.7 L531.0,468.8 L531.4,468.9 L531.8,469.1 L532.2,469.2 L532.5,469.3 L532.9,469.4 L533.3,469.5 L533.6,469.6 L534.0,469.7 L534.4,469.9 L534.7,470.0 L535.1,470.1 L535.5,470.2 L535.9,470.3 L536.2,470.4 L536.6,470.5 L537.0,470.6 L537.3,470.8 L537.7,470.9 L538.1,471.0 L538.4,471.1 L538.8,471.2 L539.2,471.3 L539.6,471.4 L539.9,471.5 L540.3,471.6 L540.7,471.7 L541.0,471.8 L541.4,472.0 L541.8,472.1 L542.2,472.2 L542.5,472.3 L542.9,472.4 L543.3,472.5 L543.6,472.6 L544.0,472.7 L544.4,472.8 L544.7,472.9 L545.1,473.0 L545.5,473.1 L545.9,473.2 L546.2,473.3 L546.6,473.4 L547.0,473.5 L547.3,473.6 L547.7,473.7 L548.1,473.8 L548.4,473.9 L548.8,474.0 L549.2,474.1 L549.6,474.2 L549.9,474.3 L550.3,474.4 L550.7,474.5 L551.0,474.6 L551.4,474.6 L551.8,474.7 L552.1,474.8 L552.5,474.9 L552.9,475.0 L553.3,475.1 L553.6,475.2 L554.0,475.3" stroke-width="2.6"/>
<path d="M332.2,358.6 L332.6,358.6 L332.9,358.6 L333.3,358.6 L333.7,358.6 L334.1,358.7 L334.4,358.7 L334.8,358.7 L335.2,358.7 L335.5,358.8 L335.9,358.8 L336.3,358.8 L336.6,358.9 L337.0,358.9 L337.4,358.9 L337.8,358.9 L338.1,359.0 L338.5,359.0 L338.9,359.0 L339.2,359.1 L339.6,359.1 L340.0,359.1 L340.3,359.2 L340.7,359.2 L341.1,359.2 L341.5,359.3 L341.8,359.3 L342.2,359.4 L342.6,359.4 L342.9,359.4 L343.3,359.5 L343.7,359.5 L344.0,359.6 L344.4,359.6 L344.8,359.7 L345.2,359.7 L345.5,359.8 L345.9,359.8 L346.3,359.9 L346.6,359.9 L347.0,360.0 L347.4,360.0 L347.8,360.1 L348.1,360.1 L348.5,360.2 L348.9,360.2 L349.2,360.3 L349.6,360.3 L350.0,360.4 L350.3,360.5 L350.7,360.5 L351.1,360.6 L351.5,360.7 L351.8,360.7 L352.2,360.8 L352.6,360.9 L352.9,360.9 L353.3,361.0 L353.7,361.1 L354.0,361.1 L354.4,361.2 L354.8,361.3 L355.2,361.4 L355.5,361.4 L355.9,361.5 L356.3,361.6 L356.6,361.7 L357.0,361.8 L357.4,361.9 L357.7,362.0 L358.1,362.0 L358.5,362.1 L358.9,362.2 L359.2,362.3 L359.6,362.4 L360.0,362.5 L360.3,362.6 L360.7,362.7 L361.1,362.8 L361.5,362.9 L361.8,363.0 L362.2,363.1 L362.6,363.3 L362.9,363.4 L363.3,363.5 L363.7,363.6 L364.0,363.7 L364.4,363.8 L364.8,364.0 L365.2,364.1 L365.5,364.2 L365.9,364.4 L366.3,364.5 L366.6,364.6 L367.0,364.8 L367.4,364.9 L367.7,365.0 L368.1,365.2 L368.5,365.3 L368.9,365.5 L369.2,365.6 L369.6,365.8 L370.0,366.0 L370.3,366.1 L370.7,366.3 L371.1,366.4 L371.5,366.6 L371.8,366.8 L372.2,367.0 L372.6,367.1 L372.9,367.3 L373.3,367.5 L373.7,367.7 L374.0,367.9 L374.4,368.1 L374.8,368.3 L375.2,368.5 L375.5,368.7 L375.9,368.9 L376.3,369.1 L376.6,369.3 L377.0,369.5 L377.4,369.7 L377.7,370.0 L378.1,370.2 L378.5,370.4 L378.9,370.6 L379.2,370.8 L379.6,371.1 L380.0,371.3 L380.3,371.5 L380.7,371.8 L381.1,372.0 L381.4,372.3 L381.8,372.5 L382.2,372.7 L382.6,373.0 L382.9,373.2 L383.3,373.5 L383.7,373.8 L384.0,374.0 L384.4,374.3 L384.8,374.5 L385.2,374.8 L385.5,375.0 L385.9,375.3 L386.3,375.6 L386.6,375.8 L387.0,376.1 L387.4,376.4 L387.7,376.7 L388.1,376.9 L388.5,377.2 L388.9,377.5 L389.2,377.8 L389.6,378.1 L390.0,378.3 L390.3,378.6 L390.7,378.9 L391.1,379.2 L391.4,379.5 L391.8,379.8 L392.2,380.1 L392.6,380.4 L392.9,380.7 L393.3,381.0 L393.7,381.4 L394.0,381.7 L394.4,382.0 L394.8,382.3 L395.1,382.6 L395.5,382.9 L395.9,383.2 L396.3,383.5 L396.6,383.9 L397.0,384.2 L397.4,384.5 L397.7,384.8 L398.1,385.1 L398.5,385.4 L398.9,385.7 L399.2,386.0 L399.6,386.3 L400.0,386.6 L400.3,386.9 L400.7,387.2 L401.1,387.5 L401.4,387.8 L401.8,388.1 L402.2,388.4 L402.6,388.8 L402.9,389.1 L403.3,389.4 L403.7,389.7 L404.0,390.0 L404.4,390.3 L404.8,390.6 L405.1,391.0 L405.5,391.3 L405.9,391.6 L406.3,391.9 L406.6,392.2 L407.0,392.6 L407.4,392.9 L407.7,393.2 L408.1,393.5 L408.5,393.9 L408.8,394.2 L409.2,394.5 L409.6,394.8 L410.0,395.2 L410.3,395.5 L410.7,395.8 L411.1,396.2 L411.4,396.5 L411.8,396.8 L412.2,397.2 L412.6,397.5 L412.9,397.8 L413.3,398.2 L413.7,398.5 L414.0,398.8 L414.4,399.2 L414.8,399.5 L415.1,399.8 L415.5,400.2 L415.9,400.5 L416.3,400.9 L416.6,401.2 L417.0,401.5 L417.4,401.9 L417.7,402.2 L418.1,402.5 L418.5,402.9 L418.8,403.2 L419.2,403.6 L419.6,403.9 L420.0,404.2 L420.3,404.6 L420.7,404.9 L421.1,405.2 L421.4,405.6 L421.8,405.9 L422.2,406.3 L422.5,406.6 L422.9,406.9 L423.3,407.3 L423.7,407.6 L424.0,407.9 L424.4,408.3 L424.8,408.6 L425.1,408.9 L425.5,409.3 L425.9,409.6 L426.3,409.9 L426.6,410.3 L427.0,410.6 L427.4,410.9 L427.7,411.3 L428.1,411.6 L428.5,411.9 L428.8,412.2 L429.2,412.6 L429.6,412.9 L430.0,413.2 L430.3,413.5 L430.7,413.9 L431.1,414.2 L431.4,414.5 L431.8,414.8 L432.2,415.2 L432.5,415.5 L432.9,415.8 L433.3,416.1 L433.7,416.5 L434.0,416.8 L434.4,417.1 L434.8,417.4 L435.1,417.7 L435.5,418.1 L435.9,418.4 L436.2,418.7 L436.6,419.0 L437.0,419.3 L437.4,419.6 L437.7,420.0 L438.1,420.3 L438.5,420.6 L438.8,420.9 L439.2,421.2 L439.6,421.5 L440.0,421.8 L440.3,422.2 L440.7,422.5 L441.1,422.8 L441.4,423.1 L441.8,423.4 L442.2,423.7 L442.5,424.0 L442.9,424.3 L443.3,424.6 L443.7,424.9 L444.0,425.2 L444.4,425.5 L444.8,425.8 L445.1,426.1 L445.5,426.4 L445.9,426.7 L446.2,427.0 L446.6,427.3 L447.0,427.6 L447.4,427.9 L447.7,428.2 L448.1,428.5 L448.5,428.8 L448.8,429.1 L449.2,429.4 L449.6,429.7 L450.0,430.0 L450.3,430.3 L450.7,430.6 L451.1,430.8 L451.4,431.1 L451.8,431.4 L452.2,431.7 L452.5,432.0 L452.9,432.3 L453.3,432.6 L453.7,432.8 L454.0,433.1 L454.4,433.4 L454.8,433.7 L455.1,434.0 L455.5,434.2 L455.9,434.5 L456.2,434.8 L456.6,435.1 L457.0,435.3 L457.4,435.6 L457.7,435.9 L458.1,436.1 L458.5,436.4 L458.8,436.7 L459.2,436.9 L459.6,437.2 L459.9,437.5 L460.3,437.7 L460.7,438.0 L461.1,438.3 L461.4,438.5 L461.8,438.8 L462.2,439.0 L462.5,439.3 L462.9,439.5 L463.3,439.8 L463.7,440.0 L464.0,440.2 L464.4,440.5 L464.8,440.7 L465.1,441.0 L465.5,441.2 L465.9,441.4 L466.2,441.7 L466.6,441.9 L467.0,442.1 L467.4,442.4 L467.7,442.6 L468.1,442.8 L468.5,443.1 L468.8,443.3 L469.2,443.5 L469.6,443.7 L469.9,443.9 L470.3,444.2 L470.7,444.4 L471.1,444.6 L471.4,444.8 L471.8,445.0 L472.2,445.2 L472.5,445.4 L472.9,445.7 L473.3,445.9 L473.6,446.1 L474.0,446.3 L474.4,446.5 L474.8,446.7 L475.1,446.9 L475.5,447.1 L475.9,447.3 L476.2,447.5 L476.6,447.7 L477.0,447.9 L477.4,448.1 L477.7,448.3 L478.1,448.5 L478.5,448.7 L478.8,448.9 L479.2,449.0 L479.6,449.2 L479.9,449.4 L480.3,449.6 L480.7,449.8 L481.1,450.0 L481.4,450.2 L481.8,450.4 L482.2,450.5 L482.5,450.7 L482.9,450.9 L483.3,451.1 L483.6,451.3 L484.0,451.4 L484.4,451.6 L484.8,451.8 L485.1,452.0 L485.5,452.1 L485.9,452.3 L486.2,452.5 L486.6,452.6 L487.0,452.8 L487.3,453.0 L487.7,453.1 L488.1,453.3 L488.5,453.5 L488.8,453.6 L489.2,453.8 L489.6,454.0 L489.9,454.1 L490.3,454.3 L490.7,454.5 L491.1,454.6 L491.4,454.8 L491.8,454.9 L492.2,455.1 L492.5,455.2 L492.9,455.4 L493.3,455.5 L493.6,455.7 L494.0,455.9 L494.4,456.0 L494.8,456.2 L495.1,456.3 L495.5,456.5 L495.9,456.6 L496.2,456.7 L496.6,456.9 L497.0,457.0 L497.3,457.2 L497.7,457.3 L498.1,457.5 L498.5,457.6 L498.8,457.8 L499.2,457.9 L499.6,458.0 L499.9,458.2 L500.3,458.3 L500.7,458.5 L501.0,458.6 L501.4,458.7 L501.8,458.9 L502.2,459.0 L502.5,459.1 L502.9,459.3 L503.3,459.4 L503.6,459.5 L504.0,459.7 L504.4,459.8 L504.8,459.9 L505.1,460.1 L505.5,460.2 L505.9,460.3 L506.2,460.5 L506.6,460.6 L507.0,460.7 L507.3,460.9 L507.7,461.0 L508.1,461.1 L508.5,461.2 L508.8,461.4 L509.2,461.5 L509.6,461.6 L509.9,461.8 L510.3,461.9 L510.7,462.0 L511.0,462.1 L511.4,462.3 L511.8,462.4 L512.2,462.5 L512.5,462.6 L512.9,462.8 L513.3,462.9 L513.6,463.0 L514.0,463.1 L514.4,463.3 L514.7,463.4 L515.1,463.5 L515.5,463.6 L515.9,463.7 L516.2,463.9 L516.6,464.0 L517.0,464.1 L517.3,464.2 L517.7,464.4 L518.1,464.5 L518.5,464.6 L518.8,464.7 L519.2,464.8 L519.6,465.0 L519.9,465.1 L520.3,465.2 L520.7,465.3 L521.0,465.4 L521.4,465.6 L521.8,465.7 L522.2,465.8 L522.5,465.9 L522.9,466.0 L523.3,466.2 L523.6,466.3 L524.0,466.4 L524.4,466.5 L524.7,466.6 L525.1,466.7 L525.5,466.9 L525.9,467.0 L526.2,467.1 L526.6,467.2 L527.0,467.3 L527.3,467.4 L527.7,467.6 L528.1,467.7 L528.5,467.8 L528.8,467.9 L529.2,468.0 L529.6,468.1 L529.9,468.3 L530.3,468.4 L530.7,468.5 L531.0,468.6 L531.4,468.7 L531.8,468.8 L532.2,468.9 L532.5,469.1 L532.9,469.2 L533.3,469.3 L533.6,469.4 L534.0,469.5 L534.4,469.6 L534.7,469.7 L535.1,469.8 L535.5,469.9 L535.9,470.1 L536.2,470.2 L536.6,470.3 L537.0,470.4 L537.3,470.5 L537.7,470.6 L538.1,470.7 L538.4,470.8 L538.8,470.9 L539.2,471.0 L539.6,471.1 L539.9,471.3 L540.3,471.4 L540.7,471.5 L541.0,471.6 L541.4,471.7 L541.8,471.8 L542.2,471.9 L542.5,472.0 L542.9,472.1 L543.3,472.2 L543.6,472.3 L544.0,472.4 L544.4,472.5 L544.7,472.6 L545.1,472.7 L545.5,472.8 L545.9,472.9 L546.2,473.0 L546.6,473.1 L547.0,473.2 L547.3,473.3 L547.7,473.4 L548.1,473.5 L548.4,473.6 L548.8,473.7 L549.2,473.8 L549.6,473.9 L549.9,474.0 L550.3,474.1 L550.7,474.2 L551.0,474.3 L551.4,474.4 L551.8,474.4 L552.1,474.5 L552.5,474.6 L552.9,474.7 L553.3,474.8 L553.6,474.9 L554.0,475.0" stroke-width="2.6"/>
<path d="M332.2,369.7 L332.6,369.7 L332.9,369.7 L333.3,369.7 L333.7,369.8 L334.1,369.8 L334.4,369.8 L334.8,369.8 L335.2,369.8 L335.5,369.8 L335.9,369.8 L336.3,369.9 L336.6,369.9 L337.0,369.9 L337.4,369.9 L337.8,369.9 L338.1,370.0 L338.5,370.0 L338.9,370.0 L339.2,370.0 L339.6,370.0 L340.0,370.1 L340.3,370.1 L340.7,370.1 L341.1,370.1 L341.5,370.2 L341.8,370.2 L342.2,370.2 L342.6,370.3 L342.9,370.3 L343.3,370.3 L343.7,370.3 L344.0,370.4 L344.4,370.4 L344.8,370.4 L345.2,370.5 L345.5,370.5 L345.9,370.5 L346.3,370.6 L346.6,370.6 L347.0,370.7 L347.4,370.7 L347.8,370.7 L348.1,370.8 L348.5,370.8 L348.9,370.9 L349.2,370.9 L349.6,371.0 L350.0,371.0 L350.3,371.0 L350.7,371.1 L351.1,371.1 L351.5,371.2 L351.8,371.2 L352.2,371.3 L352.6,371.3 L352.9,371.4 L353.3,371.5 L353.7,371.5 L354.0,371.6 L354.4,371.6 L354.8,371.7 L355.2,371.7 L355.5,371.8 L355.9,371.9 L356.3,371.9 L356.6,372.0 L357.0,372.1 L357.4,372.1 L357.7,372.2 L358.1,372.3 L358.5,372.4 L358.9,372.4 L359.2,372.5 L359.6,372.6 L360.0,372.7 L360.3,372.7 L360.7,372.8 L361.1,372.9 L361.5,373.0 L361.8,373.1 L362.2,373.2 L362.6,373.3 L362.9,373.4 L363.3,373.5 L363.7,373.6 L364.0,373.7 L364.4,373.8 L364.8,373.9 L365.2,374.0 L365.5,374.1 L365.9,374.2 L366.3,374.3 L366.6,374.4 L367.0,374.5 L367.4,374.7 L367.7,374.8 L368.1,374.9 L368.5,375.0 L368.9,375.2 L369.2,375.3 L369.6,375.4 L370.0,375.6 L370.3,375.7 L370.7,375.8 L371.1,376.0 L371.5,376.1 L371.8,376.3 L372.2,376.4 L372.6,376.6 L372.9,376.7 L373.3,376.9 L373.7,377.0 L374.0,377.2 L374.4,377.4 L374.8,377.5 L375.2,377.7 L375.5,377.9 L375.9,378.0 L376.3,378.2 L376.6,378.4 L377.0,378.6 L377.4,378.7 L377.7,378.9 L378.1,379.1 L378.5,379.3 L378.9,379.5 L379.2,379.7 L379.6,379.9 L380.0,380.1 L380.3,380.3 L380.7,380.5 L381.1,380.7 L381.4,380.9 L381.8,381.1 L382.2,381.3 L382.6,381.5 L382.9,381.7 L383.3,381.9 L383.7,382.2 L384.0,382.4 L384.4,382.6 L384.8,382.8 L385.2,383.0 L385.5,383.3 L385.9,383.5 L386.3,383.7 L386.6,384.0 L387.0,384.2 L387.4,384.4 L387.7,384.7 L388.1,384.9 L388.5,385.2 L388.9,385.4 L389.2,385.7 L389.6,385.9 L390.0,386.2 L390.3,386.4 L390.7,386.7 L391.1,387.0 L391.4,387.2 L391.8,387.5 L392.2,387.8 L392.6,388.1 L392.9,388.4 L393.3,388.7 L393.7,388.9 L394.0,389.2 L394.4,389.5 L394.8,389.8 L395.1,390.1 L395.5,390.4 L395.9,390.7 L396.3,391.1 L396.6,391.4 L397.0,391.7 L397.4,392.0 L397.7,392.3 L398.1,392.6 L398.5,392.9 L398.9,393.2 L399.2,393.5 L399.6,393.9 L400.0,394.2 L400.3,394.5 L400.7,394.8 L401.1,395.1 L401.4,395.4 L401.8,395.7 L402.2,396.1 L402.6,396.4 L402.9,396.7 L403.3,397.0 L403.7,397.3 L404.0,397.6 L404.4,397.9 L404.8,398.2 L405.1,398.5 L405.5,398.8 L405.9,399.1 L406.3,399.4 L406.6,399.7 L407.0,400.0 L407.4,400.3 L407.7,400.6 L408.1,400.9 L408.5,401.3 L408.8,401.6 L409.2,401.9 L409.6,402.2 L410.0,402.5 L410.3,402.8 L410.7,403.1 L411.1,403.4 L411.4,403.8 L411.8,404.1 L412.2,404.4 L412.6,404.7 L412.9,405.0 L413.3,405.4 L413.7,405.7 L414.0,406.0 L414.4,406.3 L414.8,406.6 L415.1,406.9 L415.5,407.3 L415.9,407.6 L416.3,407.9 L416.6,408.2 L417.0,408.5 L417.4,408.8 L417.7,409.2 L418.1,409.5 L418.5,409.8 L418.8,410.1 L419.2,410.4 L419.6,410.7 L420.0,411.0 L420.3,411.4 L420.7,411.7 L421.1,412.0 L421.4,412.3 L421.8,412.6 L422.2,412.9 L422.5,413.2 L422.9,413.5 L423.3,413.8 L423.7,414.1 L424.0,414.4 L424.4,414.6 L424.8,414.9 L425.1,415.2 L425.5,415.5 L425.9,415.8 L426.3,416.1 L426.6,416.4 L427.0,416.6 L427.4,416.9 L427.7,417.2 L428.1,417.5 L428.5,417.8 L428.8,418.0 L429.2,418.3 L429.6,418.6 L430.0,418.9 L430.3,419.1 L430.7,419.4 L431.1,419.7 L431.4,420.0 L431.8,420.2 L432.2,420.5 L432.5,420.8 L432.9,421.1 L433.3,421.3 L433.7,421.6 L434.0,421.9 L434.4,422.1 L434.8,422.4 L435.1,422.7 L435.5,422.9 L435.9,423.2 L436.2,423.5 L436.6,423.7 L437.0,424.0 L437.4,424.2 L437.7,424.5 L438.1,424.7 L438.5,425.0 L438.8,425.2 L439.2,425.5 L439.6,425.7 L440.0,426.0 L440.3,426.2 L440.7,426.4 L441.1,426.7 L441.4,426.9 L441.8,427.2 L442.2,427.4 L442.5,427.6 L442.9,427.9 L443.3,428.1 L443.7,428.3 L444.0,428.6 L444.4,428.8 L444.8,429.0 L445.1,429.3 L445.5,429.5 L445.9,429.8 L446.2,430.0 L446.6,430.2 L447.0,430.5 L447.4,430.7 L447.7,431.0 L448.1,431.2 L448.5,431.5 L448.8,431.7 L449.2,432.0 L449.6,432.2 L450.0,432.5 L450.3,432.7 L450.7,432.9 L451.1,433.2 L451.4,433.4 L451.8,433.7 L452.2,433.9 L452.5,434.2 L452.9,434.4 L453.3,434.6 L453.7,434.9 L454.0,435.1 L454.4,435.4 L454.8,435.6 L455.1,435.8 L455.5,436.1 L455.9,436.3 L456.2,436.6 L456.6,436.8 L457.0,437.1 L457.4,437.3 L457.7,437.5 L458.1,437.8 L458.5,438.0 L458.8,438.3 L459.2,438.5 L459.6,438.7 L459.9,439.0 L460.3,439.2 L460.7,439.5 L461.1,439.7 L461.4,439.9 L461.8,440.2 L462.2,440.4 L462.5,440.6 L462.9,440.8 L463.3,441.1 L463.7,441.3 L464.0,441.5 L464.4,441.7 L464.8,442.0 L465.1,442.2 L465.5,442.4 L465.9,442.6 L466.2,442.8 L466.6,443.0 L467.0,443.3 L467.4,443.5 L467.7,443.7 L468.1,443.9 L468.5,444.1 L468.8,444.3 L469.2,444.5 L469.6,444.7 L469.9,444.9 L470.3,445.1 L470.7,445.3 L471.1,445.5 L471.4,445.7 L471.8,445.9 L472.2,446.1 L472.5,446.3 L472.9,446.5 L473.3,446.7 L473.6,446.9 L474.0,447.1 L474.4,447.3 L474.8,447.5 L475.1,447.7 L475.5,447.8 L475.9,448.0 L476.2,448.2 L476.6,448.4 L477.0,448.6 L477.4,448.8 L477.7,449.0 L478.1,449.1 L478.5,449.3 L478.8,449.5 L479.2,449.7 L479.6,449.8 L479.9,450.0 L480.3,450.2 L480.7,450.4 L481.1,450.5 L481.4,450.7 L481.8,450.9 L482.2,451.1 L482.5,451.2 L482.9,451.4 L483.3,451.6 L483.6,451.7 L484.0,451.9 L484.4,452.1 L484.8,452.2 L485.1,452.4 L485.5,452.6 L485.9,452.7 L486.2,452.9 L486.6,453.0 L487.0,453.2 L487.3,453.4 L487.7,453.5 L488.1,453.7 L488.5,453.8 L488.8,454.0 L489.2,454.1 L489.6,454.3 L489.9,454.4 L490.3,454.6 L490.7,454.7 L491.1,454.9 L491.4,455.0 L491.8,455.2 L492.2,455.3 L492.5,455.5 L492.9,455.6 L493.3,455.8 L493.6,455.9 L494.0,456.1 L494.4,456.2 L494.8,456.4 L495.1,456.5 L495.5,456.7 L495.9,456.8 L496.2,456.9 L496.6,457.1 L497.0,457.2 L497.3,457.4 L497.7,457.5 L498.1,457.6 L498.5,457.8 L498.8,457.9 L499.2,458.0 L499.6,458.2 L499.9,458.3 L500.3,458.4 L500.7,458.6 L501.0,458.7 L501.4,458.8 L501.8,459.0 L502.2,459.1 L502.5,459.2 L502.9,459.4 L503.3,459.5 L503.6,459.6 L504.0,459.8 L504.4,459.9 L504.8,460.0 L505.1,460.1 L505.5,460.3 L505.9,460.4 L506.2,460.5 L506.6,460.6 L507.0,460.8 L507.3,460.9 L507.7,461.0 L508.1,461.1 L508.5,461.3 L508.8,461.4 L509.2,461.5 L509.6,461.6 L509.9,461.8 L510.3,461.9 L510.7,462.0 L511.0,462.1 L511.4,462.3 L511.8,462.4 L512.2,462.5 L512.5,462.6 L512.9,462.7 L513.3,462.9 L513.6,463.0 L514.0,463.1 L514.4,463.2 L514.7,463.3 L515.1,463.5 L515.5,463.6 L515.9,463.7 L516.2,463.8 L516.6,463.9 L517.0,464.1 L517.3,464.2 L517.7,464.3 L518.1,464.4 L518.5,464.5 L518.8,464.6 L519.2,464.8 L519.6,464.9 L519.9,465.0 L520.3,465.1 L520.7,465.2 L521.0,465.3 L521.4,465.5 L521.8,465.6 L522.2,465.7 L522.5,465.8 L522.9,465.9 L523.3,466.0 L523.6,466.2 L524.0,466.3 L524.4,466.4 L524.7,466.5 L525.1,466.6 L525.5,466.7 L525.9,466.8 L526.2,467.0 L526.6,467.1 L527.0,467.2 L527.3,467.3 L527.7,467.4 L528.1,467.5 L528.5,467.6 L528.8,467.7 L529.2,467.9 L529.6,468.0 L529.9,468.1 L530.3,468.2 L530.7,468.3 L531.0,468.4 L531.4,468.5 L531.8,468.6 L532.2,468.7 L532.5,468.9 L532.9,469.0 L533.3,469.1 L533.6,469.2 L534.0,469.3 L534.4,469.4 L534.7,469.5 L535.1,469.6 L535.5,469.7 L535.9,469.8 L536.2,469.9 L536.6,470.1 L537.0,470.2 L537.3,470.3 L537.7,470.4 L538.1,470.5 L538.4,470.6 L538.8,470.7 L539.2,470.8 L539.6,470.9 L539.9,471.0 L540.3,471.1 L540.7,471.2 L541.0,471.3 L541.4,471.4 L541.8,471.5 L542.2,471.6 L542.5,471.7 L542.9,471.8 L543.3,471.9 L543.6,472.0 L544.0,472.1 L544.4,472.2 L544.7,472.3 L545.1,472.4 L545.5,472.5 L545.9,472.6 L546.2,472.7 L546.6,472.8 L547.0,472.9 L547.3,473.0 L547.7,473.1 L548.1,473.2 L548.4,473.3 L548.8,473.4 L549.2,473.5 L549.6,473.6 L549.9,473.7 L550.3,473.8 L550.7,473.9 L551.0,474.0 L551.4,474.1 L551.8,474.2 L552.1,474.3 L552.5,474.4 L552.9,474.4 L553.3,474.5 L553.6,474.6 L554.0,474.7" stroke-width="2.6"/>
</g>
<rect x="332.2" y="14.0" width="221.8" height="470.0" fill="none" stroke="#000" stroke-width="1.7"/>
<path d="M332.2,484.0v-10.0 M332.2,14.0v10.0 M406.1,484.0v-10.0 M406.1,14.0v10.0 M480.1,484.0v-10.0 M480.1,14.0v10.0 M554.0,484.0v-10.0 M554.0,14.0v10.0 M369.2,484.0v-5.9 M369.2,14.0v5.9 M443.1,484.0v-5.9 M443.1,14.0v5.9 M517.0,484.0v-5.9 M517.0,14.0v5.9 M332.2,484.0h10.0 M554.0,484.0h-10.0 M332.2,398.5h10.0 M554.0,398.5h-10.0 M332.2,313.1h10.0 M554.0,313.1h-10.0 M332.2,227.6h10.0 M554.0,227.6h-10.0 M332.2,142.2h10.0 M554.0,142.2h-10.0 M332.2,56.7h10.0 M554.0,56.7h-10.0 M332.2,441.3h5.9 M554.0,441.3h-5.9 M332.2,355.8h5.9 M554.0,355.8h-5.9 M332.2,270.4h5.9 M554.0,270.4h-5.9 M332.2,184.9h5.9 M554.0,184.9h-5.9 M332.2,99.5h5.9 M554.0,99.5h-5.9" stroke="#000" stroke-width="1.7" fill="none"/>
<text x="332.2" y="506.8" text-anchor="middle" class="tk">0.0</text>
<text x="406.1" y="506.8" text-anchor="middle" class="tk">0.5</text>
<text x="480.1" y="506.8" text-anchor="middle" class="tk">1.0</text>
<text x="554.0" y="506.8" text-anchor="middle" class="tk">1.5</text>
<text x="321.6" y="489.0" text-anchor="end" class="tk">0</text>
<text x="321.6" y="403.5" text-anchor="end" class="tk">2</text>
<text x="321.6" y="318.1" text-anchor="end" class="tk">4</text>
<text x="321.6" y="232.6" text-anchor="end" class="tk">6</text>
<text x="321.6" y="147.2" text-anchor="end" class="tk">8</text>
<text x="321.6" y="61.7" text-anchor="end" class="tk">10</text>
<path d="M467.0,308.0L377.5,384.4" stroke="#000" stroke-width="1" fill="none"/><path d="M368.0,392.5L375.2,381.6L379.8,387.1z" fill="#000"/>
<text x="414.9" y="94.8" class="lb">99.999 999 9%</text>
<text x="448.0" y="222.2" class="lb">99.999 9%</text>
<text x="482.9" y="351.1" class="lb">99.9%</text>
<text x="521.5" y="47" text-anchor="middle" class="pl">(b)</text>
<text x="443.3" y="526.8" text-anchor="middle" class="ax">E<tspan dy="7.3" font-size="11">F</tspan><tspan dy="-7.3" font-size="1">&#8203;</tspan>(E<tspan dy="7.3" font-size="11">0</tspan><tspan dy="-7.3" font-size="1">&#8203;</tspan>)</text>
<text transform="translate(308.2,261.1) rotate(-90)" text-anchor="middle" class="ax" style="font-size:19.4px">VDO</text>
<!-- panel c -->
<clipPath id="cc"><rect x="606.4" y="14.0" width="221.4" height="470.0"/></clipPath>
<g clip-path="url(#cc)">
<path d="M606.4,323.0 L630.6,331.2 L654.7,349.1 L678.9,369.7 L703.0,392.7 L727.2,422.0 L751.3,451.3 L775.5,482.5" stroke="#ff0000" stroke-width="2.6" fill="none"/>
<rect x="601.6" y="318.2" width="9.6" height="9.6" fill="#ff0000"/>
<rect x="625.8" y="326.4" width="9.6" height="9.6" fill="#ff0000"/>
<rect x="649.9" y="344.3" width="9.6" height="9.6" fill="#ff0000"/>
<rect x="674.1" y="364.9" width="9.6" height="9.6" fill="#ff0000"/>
<rect x="698.2" y="387.9" width="9.6" height="9.6" fill="#ff0000"/>
<rect x="722.4" y="417.2" width="9.6" height="9.6" fill="#ff0000"/>
<rect x="746.5" y="446.5" width="9.6" height="9.6" fill="#ff0000"/>
<rect x="770.7" y="477.7" width="9.6" height="9.6" fill="#ff0000"/>
<path d="M606.4,76.6 L618.5,80.1 L630.6,93.5 L642.6,118.9 L654.7,147.8 L666.8,180.9 L678.9,222.3 L690.9,268.4 L703.0,327.6 L715.1,400.5 L727.2,472.1" stroke="#0000ff" stroke-width="2.6" fill="none"/>
<path d="M606.4,70.5l6.1,6.1l-6.1,6.1l-6.1,-6.1z" fill="#0000ff"/>
<path d="M618.5,74.0l6.1,6.1l-6.1,6.1l-6.1,-6.1z" fill="#0000ff"/>
<path d="M630.6,87.4l6.1,6.1l-6.1,6.1l-6.1,-6.1z" fill="#0000ff"/>
<path d="M642.6,112.8l6.1,6.1l-6.1,6.1l-6.1,-6.1z" fill="#0000ff"/>
<path d="M654.7,141.7l6.1,6.1l-6.1,6.1l-6.1,-6.1z" fill="#0000ff"/>
<path d="M666.8,174.8l6.1,6.1l-6.1,6.1l-6.1,-6.1z" fill="#0000ff"/>
<path d="M678.9,216.2l6.1,6.1l-6.1,6.1l-6.1,-6.1z" fill="#0000ff"/>
<path d="M690.9,262.3l6.1,6.1l-6.1,6.1l-6.1,-6.1z" fill="#0000ff"/>
<path d="M703.0,321.5l6.1,6.1l-6.1,6.1l-6.1,-6.1z" fill="#0000ff"/>
<path d="M715.1,394.4l6.1,6.1l-6.1,6.1l-6.1,-6.1z" fill="#0000ff"/>
<path d="M727.2,466.0l6.1,6.1l-6.1,6.1l-6.1,-6.1z" fill="#0000ff"/>
<path d="M618.5,40.8L606.4,36.1 M630.6,49.3L618.5,40.8 M642.6,58.4L630.6,49.3 M654.7,68.6L642.6,58.4 M666.8,80.0L654.7,68.6 M678.9,94.6L666.8,80.0 M690.9,108.2L678.9,94.6 M703.0,123.2L690.9,108.2 M715.1,139.1L703.0,123.2 M727.2,156.6L715.1,139.1 M739.2,176.0L727.2,156.6 M751.3,199.7L739.2,176.0 M763.4,227.1L751.3,199.7 M775.5,261.7L763.4,227.1 M787.5,308.7L775.5,261.7 M791.6,327.7L787.5,308.7 M795.6,348.9L791.6,327.7 M799.6,369.4L795.6,348.9 M803.6,393.1L799.6,369.4 M807.7,419.6L803.6,393.1 M811.7,448.8L807.7,419.6" stroke="#0000ff" stroke-width="2.6" stroke-dasharray="17.5 10" fill="none"/>
<circle cx="606.4" cy="36.1" r="5.1" fill="#0000ff"/>
<circle cx="618.5" cy="40.8" r="5.1" fill="#0000ff"/>
<circle cx="630.6" cy="49.3" r="5.1" fill="#0000ff"/>
<circle cx="642.6" cy="58.4" r="5.1" fill="#0000ff"/>
<circle cx="654.7" cy="68.6" r="5.1" fill="#0000ff"/>
<circle cx="666.8" cy="80.0" r="5.1" fill="#0000ff"/>
<circle cx="678.9" cy="94.6" r="5.1" fill="#0000ff"/>
<circle cx="690.9" cy="108.2" r="5.1" fill="#0000ff"/>
<circle cx="703.0" cy="123.2" r="5.1" fill="#0000ff"/>
<circle cx="715.1" cy="139.1" r="5.1" fill="#0000ff"/>
<circle cx="727.2" cy="156.6" r="5.1" fill="#0000ff"/>
<circle cx="739.2" cy="176.0" r="5.1" fill="#0000ff"/>
<circle cx="751.3" cy="199.7" r="5.1" fill="#0000ff"/>
<circle cx="763.4" cy="227.1" r="5.1" fill="#0000ff"/>
<circle cx="775.5" cy="261.7" r="5.1" fill="#0000ff"/>
<circle cx="787.5" cy="308.7" r="5.1" fill="#0000ff"/>
<circle cx="791.6" cy="327.7" r="5.1" fill="#0000ff"/>
<circle cx="795.6" cy="348.9" r="5.1" fill="#0000ff"/>
<circle cx="799.6" cy="369.4" r="5.1" fill="#0000ff"/>
<circle cx="803.6" cy="393.1" r="5.1" fill="#0000ff"/>
<circle cx="807.7" cy="419.6" r="5.1" fill="#0000ff"/>
<circle cx="811.7" cy="448.8" r="5.1" fill="#0000ff"/>
</g>
<rect x="606.4" y="14.0" width="221.4" height="470.0" fill="none" stroke="#000" stroke-width="1.7"/>
<path d="M606.4,484.0v-10.0 M606.4,14.0v10.0 M646.7,484.0v-10.0 M646.7,14.0v10.0 M686.9,484.0v-10.0 M686.9,14.0v10.0 M727.2,484.0v-10.0 M727.2,14.0v10.0 M767.4,484.0v-10.0 M767.4,14.0v10.0 M807.7,484.0v-10.0 M807.7,14.0v10.0 M626.5,484.0v-5.9 M626.5,14.0v5.9 M666.8,484.0v-5.9 M666.8,14.0v5.9 M707.0,484.0v-5.9 M707.0,14.0v5.9 M747.3,484.0v-5.9 M747.3,14.0v5.9 M787.5,484.0v-5.9 M787.5,14.0v5.9 M606.4,484.0h10.0 M827.8,484.0h-10.0 M606.4,366.5h10.0 M827.8,366.5h-10.0 M606.4,249.0h10.0 M827.8,249.0h-10.0 M606.4,131.5h10.0 M827.8,131.5h-10.0 M606.4,14.0h10.0 M827.8,14.0h-10.0 M606.4,425.2h5.9 M827.8,425.2h-5.9 M606.4,307.8h5.9 M827.8,307.8h-5.9 M606.4,190.2h5.9 M827.8,190.2h-5.9 M606.4,72.8h5.9 M827.8,72.8h-5.9" stroke="#000" stroke-width="1.7" fill="none"/>
<text x="606.4" y="506.8" text-anchor="middle" class="tk">0</text>
<text x="646.7" y="506.8" text-anchor="middle" class="tk">10</text>
<text x="686.9" y="506.8" text-anchor="middle" class="tk">20</text>
<text x="727.2" y="506.8" text-anchor="middle" class="tk">30</text>
<text x="767.4" y="506.8" text-anchor="middle" class="tk">40</text>
<text x="807.7" y="506.8" text-anchor="middle" class="tk">50</text>
<text x="596.6" y="489.0" text-anchor="end" class="tk">0.0</text>
<text x="596.6" y="371.5" text-anchor="end" class="tk">0.2</text>
<text x="596.6" y="254.0" text-anchor="end" class="tk">0.4</text>
<text x="596.6" y="136.5" text-anchor="end" class="tk">0.6</text>
<text x="596.6" y="19.0" text-anchor="end" class="tk">0.8</text>
<text x="662.3" y="51.7" text-anchor="middle" class="rn">III</text>
<text x="663.6" y="250.4" text-anchor="middle" class="rn">II</text>
<text x="663.9" y="412.4" text-anchor="middle" class="rn">I</text>
<text x="799.5" y="48.3" text-anchor="middle" class="pl">(c)</text>
<text x="718.0" y="526.5" text-anchor="middle" class="ax">T<tspan dy="7.3" font-size="11">P</tspan><tspan dy="-7.3" font-size="1">&#8203;</tspan> (K)</text>
<text transform="translate(584.7,283.2) rotate(-90)" text-anchor="middle" class="ax" style="font-size:19.7px">E<tspan dy="7.3" font-size="11">F</tspan><tspan dy="-7.3" font-size="1">&#8203;</tspan> (E<tspan dy="7.3" font-size="11">0</tspan><tspan dy="-7.3" font-size="1">&#8203;</tspan>)</text>
</svg></body></html>
